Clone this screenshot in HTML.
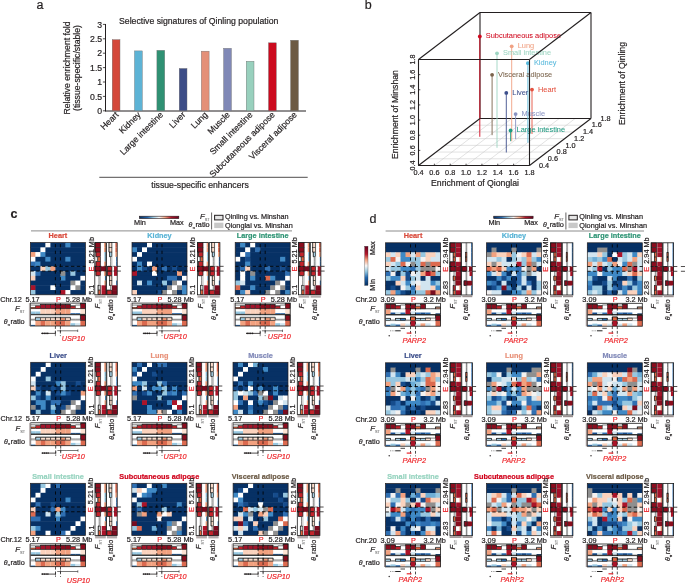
<!DOCTYPE html><html><head><meta charset="utf-8"><title>Figure</title>
<style>html,body{margin:0;padding:0;background:#fff;width:685px;height:583px;overflow:hidden}svg{display:block;will-change:transform} text{font-family:"Liberation Sans", sans-serif;}</style></head><body>
<svg width="685" height="583" viewBox="0 0 685 583">
<defs><linearGradient id="cbar" x1="0" x2="1" y1="0" y2="0"><stop offset="0" stop-color="#053061"/><stop offset="0.2" stop-color="#2166ac"/><stop offset="0.35" stop-color="#92c5de"/><stop offset="0.5" stop-color="#f7f7f7"/><stop offset="0.65" stop-color="#f4a582"/><stop offset="0.8" stop-color="#b2182b"/><stop offset="1" stop-color="#67001f"/></linearGradient><linearGradient id="vbar" x1="0" x2="0" y1="1" y2="0"><stop offset="0" stop-color="#053061"/><stop offset="0.2" stop-color="#2166ac"/><stop offset="0.35" stop-color="#92c5de"/><stop offset="0.5" stop-color="#f7f7f7"/><stop offset="0.65" stop-color="#f4a582"/><stop offset="0.8" stop-color="#b2182b"/><stop offset="1" stop-color="#67001f"/></linearGradient></defs>
<rect width="685" height="583" fill="#fff"/>
<text x="36.5" y="9.1" font-size="12.5" fill="#231f20" stroke="#231f20" stroke-width="0.2">a</text>
<line x1="105.50" y1="24" x2="105.50" y2="111.30" stroke="#231f20" stroke-width="1.0"/>
<line x1="105" y1="111" x2="306" y2="111" stroke="#231f20" stroke-width="1.0"/>
<line x1="102.90" y1="110.80" x2="105.50" y2="110.80" stroke="#231f20" stroke-width="0.8"/>
<text x="102.2" y="113.9" font-size="8.7" fill="#231f20" text-anchor="end" stroke="#231f20" stroke-width="0.2">0</text>
<line x1="102.90" y1="96.40" x2="105.50" y2="96.40" stroke="#231f20" stroke-width="0.8"/>
<text x="102.2" y="99.5" font-size="8.7" fill="#231f20" text-anchor="end" stroke="#231f20" stroke-width="0.2">0.5</text>
<line x1="102.90" y1="82" x2="105.50" y2="82" stroke="#231f20" stroke-width="0.8"/>
<text x="102.2" y="85.1" font-size="8.7" fill="#231f20" text-anchor="end" stroke="#231f20" stroke-width="0.2">1</text>
<line x1="102.90" y1="67.60" x2="105.50" y2="67.60" stroke="#231f20" stroke-width="0.8"/>
<text x="102.2" y="70.7" font-size="8.7" fill="#231f20" text-anchor="end" stroke="#231f20" stroke-width="0.2">1.5</text>
<line x1="102.90" y1="53.20" x2="105.50" y2="53.20" stroke="#231f20" stroke-width="0.8"/>
<text x="102.2" y="56.3" font-size="8.7" fill="#231f20" text-anchor="end" stroke="#231f20" stroke-width="0.2">2</text>
<line x1="102.90" y1="38.80" x2="105.50" y2="38.80" stroke="#231f20" stroke-width="0.8"/>
<text x="102.2" y="41.9" font-size="8.7" fill="#231f20" text-anchor="end" stroke="#231f20" stroke-width="0.2">2.5</text>
<line x1="102.90" y1="24.40" x2="105.50" y2="24.40" stroke="#231f20" stroke-width="0.8"/>
<text x="102.2" y="27.5" font-size="8.7" fill="#231f20" text-anchor="end" stroke="#231f20" stroke-width="0.2">3</text>
<text x="119.0" y="24.2" font-size="8.7" fill="#231f20" stroke="#231f20" stroke-width="0.2">Selective signatures of Qinling population</text>
<text x="69.6" y="68.0" font-size="8.7" fill="#231f20" text-anchor="middle" stroke="#231f20" stroke-width="0.2" transform="rotate(-90 69.60 68.00)">Relative enrichment fold</text>
<text x="79.6" y="68.0" font-size="8.7" fill="#231f20" text-anchor="middle" stroke="#231f20" stroke-width="0.2" transform="rotate(-90 79.60 68.00)">(tissue-specific/stable)</text>
<rect x="112.20" y="39.66" width="7.80" height="71.14" fill="#d4483a" stroke="#6d6d6d" stroke-width="0.4"/>
<text x="119.1" y="115.3" font-size="8.7" fill="#231f20" text-anchor="end" stroke="#231f20" stroke-width="0.2" transform="rotate(-45 119.10 115.30)">Heart</text>
<rect x="134.50" y="50.90" width="7.80" height="59.90" fill="#5db3d5" stroke="#6d6d6d" stroke-width="0.4"/>
<text x="141.4" y="115.3" font-size="8.7" fill="#231f20" text-anchor="end" stroke="#231f20" stroke-width="0.2" transform="rotate(-45 141.40 115.30)">Kidney</text>
<rect x="156.90" y="50.32" width="7.80" height="60.48" fill="#2f9173" stroke="#6d6d6d" stroke-width="0.4"/>
<text x="163.8" y="115.3" font-size="8.7" fill="#231f20" text-anchor="end" stroke="#231f20" stroke-width="0.2" transform="rotate(-45 163.80 115.30)">Large intestine</text>
<rect x="179.20" y="68.46" width="7.80" height="42.34" fill="#3d4d87" stroke="#6d6d6d" stroke-width="0.4"/>
<text x="186.1" y="115.3" font-size="8.7" fill="#231f20" text-anchor="end" stroke="#231f20" stroke-width="0.2" transform="rotate(-45 186.10 115.30)">Liver</text>
<rect x="201.30" y="51.18" width="7.80" height="59.62" fill="#e49078" stroke="#6d6d6d" stroke-width="0.4"/>
<text x="208.2" y="115.3" font-size="8.7" fill="#231f20" text-anchor="end" stroke="#231f20" stroke-width="0.2" transform="rotate(-45 208.20 115.30)">Lung</text>
<rect x="223.60" y="48.30" width="7.80" height="62.50" fill="#8088b6" stroke="#6d6d6d" stroke-width="0.4"/>
<text x="230.5" y="115.3" font-size="8.7" fill="#231f20" text-anchor="end" stroke="#231f20" stroke-width="0.2" transform="rotate(-45 230.50 115.30)">Muscle</text>
<rect x="246.20" y="61.26" width="7.80" height="49.54" fill="#98d0bd" stroke="#6d6d6d" stroke-width="0.4"/>
<text x="253.1" y="115.3" font-size="8.7" fill="#231f20" text-anchor="end" stroke="#231f20" stroke-width="0.2" transform="rotate(-45 253.10 115.30)">Small intestine</text>
<rect x="268.50" y="42.83" width="7.80" height="67.97" fill="#cc0a1e" stroke="#6d6d6d" stroke-width="0.4"/>
<text x="275.4" y="115.3" font-size="8.7" fill="#231f20" text-anchor="end" stroke="#231f20" stroke-width="0.2" transform="rotate(-45 275.40 115.30)">Subcutaneous adipose</text>
<rect x="290.60" y="40.24" width="7.80" height="70.56" fill="#6c5a43" stroke="#6d6d6d" stroke-width="0.4"/>
<text x="297.5" y="115.3" font-size="8.7" fill="#231f20" text-anchor="end" stroke="#231f20" stroke-width="0.2" transform="rotate(-45 297.50 115.30)">Visceral adipose</text>
<line x1="99.30" y1="177.30" x2="307.70" y2="177.30" stroke="#231f20" stroke-width="0.8"/>
<text x="200.0" y="187.9" font-size="8.7" fill="#231f20" text-anchor="middle" stroke="#231f20" stroke-width="0.2">tissue-specific enhancers</text>
<text x="364.8" y="8.8" font-size="12.5" fill="#231f20" stroke="#231f20" stroke-width="0.2">b</text>
<line x1="434.36" y1="165.50" x2="495.86" y2="118.50" stroke="#c4c4c4" stroke-width="0.5"/>
<line x1="427.29" y1="158.79" x2="538.29" y2="158.79" stroke="#c4c4c4" stroke-width="0.5"/>
<line x1="450.21" y1="165.50" x2="511.71" y2="118.50" stroke="#c4c4c4" stroke-width="0.5"/>
<line x1="436.07" y1="152.07" x2="547.07" y2="152.07" stroke="#c4c4c4" stroke-width="0.5"/>
<line x1="466.07" y1="165.50" x2="527.57" y2="118.50" stroke="#c4c4c4" stroke-width="0.5"/>
<line x1="444.86" y1="145.36" x2="555.86" y2="145.36" stroke="#c4c4c4" stroke-width="0.5"/>
<line x1="481.93" y1="165.50" x2="543.43" y2="118.50" stroke="#c4c4c4" stroke-width="0.5"/>
<line x1="453.64" y1="138.64" x2="564.64" y2="138.64" stroke="#c4c4c4" stroke-width="0.5"/>
<line x1="497.79" y1="165.50" x2="559.29" y2="118.50" stroke="#c4c4c4" stroke-width="0.5"/>
<line x1="462.43" y1="131.93" x2="573.43" y2="131.93" stroke="#c4c4c4" stroke-width="0.5"/>
<line x1="513.64" y1="165.50" x2="575.14" y2="118.50" stroke="#c4c4c4" stroke-width="0.5"/>
<line x1="471.21" y1="125.21" x2="582.21" y2="125.21" stroke="#c4c4c4" stroke-width="0.5"/>
<line x1="480" y1="118.50" x2="591" y2="118.50" stroke="#231f20" stroke-width="1.1"/>
<line x1="480" y1="118.50" x2="480" y2="12.50" stroke="#231f20" stroke-width="1.1"/>
<line x1="591" y1="118.50" x2="591" y2="12.50" stroke="#231f20" stroke-width="1.1"/>
<line x1="480" y1="12.50" x2="591" y2="12.50" stroke="#231f20" stroke-width="1.1"/>
<line x1="479.80" y1="36.50" x2="479.80" y2="136.80" stroke="#d0081e" stroke-width="0.9"/>
<line x1="511.70" y1="46.30" x2="511.70" y2="141.20" stroke="#f0a183" stroke-width="0.9"/>
<line x1="497" y1="53.30" x2="497" y2="147.80" stroke="#9dd5c2" stroke-width="0.9"/>
<line x1="492.10" y1="74.80" x2="492.10" y2="135.20" stroke="#7a634b" stroke-width="0.9"/>
<line x1="506.30" y1="92.90" x2="506.30" y2="152.50" stroke="#3d4f8c" stroke-width="0.9"/>
<line x1="515.60" y1="114.10" x2="515.60" y2="139.10" stroke="#8a93c2" stroke-width="0.9"/>
<line x1="510.60" y1="130.50" x2="510.60" y2="141.20" stroke="#1e9a80" stroke-width="0.9"/>
<line x1="527.90" y1="63.20" x2="527.90" y2="142.70" stroke="#58b9dc" stroke-width="0.9"/>
<line x1="532" y1="89.60" x2="532" y2="134" stroke="#e4513f" stroke-width="0.9"/>
<circle cx="479.8" cy="36.5" r="1.9" fill="#d0081e"/>
<text x="485.8" y="38.4" font-size="7.4" fill="#d0081e" stroke="#d0081e" stroke-width="0.05">Subcutaneous adipose</text>
<circle cx="511.7" cy="46.3" r="1.9" fill="#f0a183"/>
<text x="517.7" y="48.2" font-size="7.4" fill="#f0a183" stroke="#f0a183" stroke-width="0.05">Lung</text>
<circle cx="497.0" cy="53.3" r="1.9" fill="#9dd5c2"/>
<text x="503.0" y="55.2" font-size="7.4" fill="#9dd5c2" stroke="#9dd5c2" stroke-width="0.05">Small intestine</text>
<circle cx="492.1" cy="74.8" r="1.9" fill="#7a634b"/>
<text x="498.1" y="76.7" font-size="7.4" fill="#7a634b" stroke="#7a634b" stroke-width="0.05">Visceral adipose</text>
<circle cx="506.3" cy="92.9" r="1.9" fill="#3d4f8c"/>
<text x="512.3" y="94.8" font-size="7.4" fill="#3d4f8c" stroke="#3d4f8c" stroke-width="0.05">Liver</text>
<circle cx="515.6" cy="114.1" r="1.9" fill="#8a93c2"/>
<text x="521.6" y="116.0" font-size="7.4" fill="#8a93c2" stroke="#8a93c2" stroke-width="0.05">Muscle</text>
<circle cx="510.6" cy="130.5" r="1.9" fill="#1e9a80"/>
<text x="516.6" y="132.4" font-size="7.4" fill="#1e9a80" stroke="#1e9a80" stroke-width="0.05">Large intestine</text>
<circle cx="527.9" cy="63.2" r="1.9" fill="#58b9dc"/>
<text x="533.9" y="65.1" font-size="7.4" fill="#58b9dc" stroke="#58b9dc" stroke-width="0.05">Kidney</text>
<circle cx="532.0" cy="89.6" r="1.9" fill="#e4513f"/>
<text x="538.0" y="91.5" font-size="7.4" fill="#e4513f" stroke="#e4513f" stroke-width="0.05">Heart</text>
<line x1="418.50" y1="165.50" x2="529.50" y2="165.50" stroke="#231f20" stroke-width="1.1"/>
<line x1="418.50" y1="165.50" x2="418.50" y2="59.50" stroke="#231f20" stroke-width="1.1"/>
<line x1="529.50" y1="165.50" x2="529.50" y2="59.50" stroke="#231f20" stroke-width="1.1"/>
<line x1="418.50" y1="59.50" x2="529.50" y2="59.50" stroke="#231f20" stroke-width="1.1"/>
<line x1="418.50" y1="165.50" x2="480" y2="118.50" stroke="#231f20" stroke-width="1.1"/>
<line x1="529.50" y1="165.50" x2="591" y2="118.50" stroke="#231f20" stroke-width="1.1"/>
<line x1="418.50" y1="59.50" x2="480" y2="12.50" stroke="#231f20" stroke-width="1.1"/>
<line x1="529.50" y1="59.50" x2="591" y2="12.50" stroke="#231f20" stroke-width="1.1"/>
<line x1="418.50" y1="165.50" x2="418.50" y2="163.70" stroke="#231f20" stroke-width="0.8"/>
<text x="418.5" y="174.7" font-size="7.3" fill="#231f20" text-anchor="middle" stroke="#231f20" stroke-width="0.2">0.4</text>
<line x1="434.36" y1="165.50" x2="434.36" y2="163.70" stroke="#231f20" stroke-width="0.8"/>
<text x="434.4" y="174.7" font-size="7.3" fill="#231f20" text-anchor="middle" stroke="#231f20" stroke-width="0.2">0.6</text>
<line x1="450.21" y1="165.50" x2="450.21" y2="163.70" stroke="#231f20" stroke-width="0.8"/>
<text x="450.2" y="174.7" font-size="7.3" fill="#231f20" text-anchor="middle" stroke="#231f20" stroke-width="0.2">0.8</text>
<line x1="466.07" y1="165.50" x2="466.07" y2="163.70" stroke="#231f20" stroke-width="0.8"/>
<text x="466.1" y="174.7" font-size="7.3" fill="#231f20" text-anchor="middle" stroke="#231f20" stroke-width="0.2">1.0</text>
<line x1="481.93" y1="165.50" x2="481.93" y2="163.70" stroke="#231f20" stroke-width="0.8"/>
<text x="481.9" y="174.7" font-size="7.3" fill="#231f20" text-anchor="middle" stroke="#231f20" stroke-width="0.2">1.2</text>
<line x1="497.79" y1="165.50" x2="497.79" y2="163.70" stroke="#231f20" stroke-width="0.8"/>
<text x="497.8" y="174.7" font-size="7.3" fill="#231f20" text-anchor="middle" stroke="#231f20" stroke-width="0.2">1.4</text>
<line x1="513.64" y1="165.50" x2="513.64" y2="163.70" stroke="#231f20" stroke-width="0.8"/>
<text x="513.6" y="174.7" font-size="7.3" fill="#231f20" text-anchor="middle" stroke="#231f20" stroke-width="0.2">1.6</text>
<line x1="529.50" y1="165.50" x2="529.50" y2="163.70" stroke="#231f20" stroke-width="0.8"/>
<text x="529.5" y="174.7" font-size="7.3" fill="#231f20" text-anchor="middle" stroke="#231f20" stroke-width="0.2">1.8</text>
<line x1="418.50" y1="165.50" x2="420.30" y2="165.50" stroke="#231f20" stroke-width="0.8"/>
<text x="415.3" y="165.5" font-size="7.3" fill="#231f20" text-anchor="middle" stroke="#231f20" stroke-width="0.2" transform="rotate(-90 415.30 165.50)">0.4</text>
<line x1="418.50" y1="150.36" x2="420.30" y2="150.36" stroke="#231f20" stroke-width="0.8"/>
<text x="415.3" y="150.4" font-size="7.3" fill="#231f20" text-anchor="middle" stroke="#231f20" stroke-width="0.2" transform="rotate(-90 415.30 150.36)">0.6</text>
<line x1="418.50" y1="135.21" x2="420.30" y2="135.21" stroke="#231f20" stroke-width="0.8"/>
<text x="415.3" y="135.2" font-size="7.3" fill="#231f20" text-anchor="middle" stroke="#231f20" stroke-width="0.2" transform="rotate(-90 415.30 135.21)">0.8</text>
<line x1="418.50" y1="120.07" x2="420.30" y2="120.07" stroke="#231f20" stroke-width="0.8"/>
<text x="415.3" y="120.1" font-size="7.3" fill="#231f20" text-anchor="middle" stroke="#231f20" stroke-width="0.2" transform="rotate(-90 415.30 120.07)">1.0</text>
<line x1="418.50" y1="104.93" x2="420.30" y2="104.93" stroke="#231f20" stroke-width="0.8"/>
<text x="415.3" y="104.9" font-size="7.3" fill="#231f20" text-anchor="middle" stroke="#231f20" stroke-width="0.2" transform="rotate(-90 415.30 104.93)">1.2</text>
<line x1="418.50" y1="89.79" x2="420.30" y2="89.79" stroke="#231f20" stroke-width="0.8"/>
<text x="415.3" y="89.8" font-size="7.3" fill="#231f20" text-anchor="middle" stroke="#231f20" stroke-width="0.2" transform="rotate(-90 415.30 89.79)">1.4</text>
<line x1="418.50" y1="74.64" x2="420.30" y2="74.64" stroke="#231f20" stroke-width="0.8"/>
<text x="415.3" y="74.6" font-size="7.3" fill="#231f20" text-anchor="middle" stroke="#231f20" stroke-width="0.2" transform="rotate(-90 415.30 74.64)">1.6</text>
<line x1="418.50" y1="59.50" x2="420.30" y2="59.50" stroke="#231f20" stroke-width="0.8"/>
<text x="415.3" y="59.5" font-size="7.3" fill="#231f20" text-anchor="middle" stroke="#231f20" stroke-width="0.2" transform="rotate(-90 415.30 59.50)">1.8</text>
<text x="539.0" y="167.7" font-size="7.3" fill="#231f20" stroke="#231f20" stroke-width="0.2">0.4</text>
<text x="547.8" y="161.0" font-size="7.3" fill="#231f20" stroke="#231f20" stroke-width="0.2">0.6</text>
<text x="556.6" y="154.3" font-size="7.3" fill="#231f20" stroke="#231f20" stroke-width="0.2">0.8</text>
<text x="565.4" y="147.6" font-size="7.3" fill="#231f20" stroke="#231f20" stroke-width="0.2">1.0</text>
<text x="574.1" y="140.8" font-size="7.3" fill="#231f20" stroke="#231f20" stroke-width="0.2">1.2</text>
<text x="582.9" y="134.1" font-size="7.3" fill="#231f20" stroke="#231f20" stroke-width="0.2">1.4</text>
<text x="591.7" y="127.4" font-size="7.3" fill="#231f20" stroke="#231f20" stroke-width="0.2">1.6</text>
<text x="600.5" y="120.7" font-size="7.3" fill="#231f20" stroke="#231f20" stroke-width="0.2">1.8</text>
<text x="475.0" y="185.5" font-size="8.7" fill="#231f20" text-anchor="middle" stroke="#231f20" stroke-width="0.2">Enrichment of Qionglai</text>
<text x="397.6" y="114.5" font-size="8.7" fill="#231f20" text-anchor="middle" stroke="#231f20" stroke-width="0.2" transform="rotate(-90 397.60 114.50)">Enrichment of Minshan</text>
<text x="624.5" y="83.5" font-size="8.7" fill="#231f20" text-anchor="middle" stroke="#231f20" stroke-width="0.2" transform="rotate(-90 624.50 83.50)">Enrichment of Qinling</text>
<text x="10.5" y="217.7" font-size="12.5" fill="#231f20" font-weight="bold" stroke="#231f20" stroke-width="0.2">c</text>
<rect x="139.40" y="216.2" width="39.4" height="2.4" fill="url(#cbar)" stroke="#2a1a1a" stroke-width="0.6"/>
<text x="140.0" y="225.0" font-size="7.3" fill="#231f20" text-anchor="middle" stroke="#231f20" stroke-width="0.2">Min</text>
<text x="176.8" y="225.0" font-size="7.3" fill="#231f20" text-anchor="middle" stroke="#231f20" stroke-width="0.2">Max</text>
<text x="209.60" y="219.0" font-size="7.3" fill="#231f20" stroke="#231f20" stroke-width="0.2" text-anchor="end"><tspan font-style="italic" font-size="7.8">F</tspan><tspan font-size="3.8" dy="2.2" fill="#777" stroke="#777" stroke-width="0.1">ST</tspan></text>
<text x="209.60" y="227.4" font-size="7.3" fill="#231f20" stroke="#231f20" stroke-width="0.2" text-anchor="end"><tspan font-style="italic" font-size="7.0">θ</tspan><tspan font-size="3.6" dy="1.8">π</tspan><tspan dy="-1.8" dx="0.5">ratio</tspan></text>
<line x1="211.60" y1="212.50" x2="211.60" y2="229.50" stroke="#231f20" stroke-width="0.7"/>
<rect x="214.60" y="215.30" width="8.40" height="4.60" fill="#e6e6e6" stroke="#231f20" stroke-width="1.0"/>
<rect x="214.20" y="222.70" width="9.20" height="5.40" fill="#c8c8c8"/>
<text x="225.0" y="219.4" font-size="7.3" fill="#231f20" stroke="#231f20" stroke-width="0.2">Qinling vs. Minshan</text>
<text x="225.0" y="228.1" font-size="7.3" fill="#231f20" stroke="#231f20" stroke-width="0.2">Qionglai vs. Minshan</text>
<line x1="31" y1="230.90" x2="292" y2="230.90" stroke="#8c8c8c" stroke-width="1.0"/>
<rect x="30.40" y="242.60" width="15.50" height="5.25" fill="#073165"/>
<rect x="45.40" y="242.60" width="5.50" height="5.25" fill="#ffffff"/>
<rect x="50.40" y="242.60" width="15.50" height="5.25" fill="#073165"/>
<rect x="65.40" y="242.60" width="5.50" height="5.25" fill="#3f89c5"/>
<rect x="70.40" y="242.60" width="15" height="5.25" fill="#073165"/>
<rect x="30.40" y="247.35" width="10.50" height="5.25" fill="#073165"/>
<rect x="40.40" y="247.35" width="5.50" height="5.25" fill="#ffffff"/>
<rect x="45.40" y="247.35" width="40" height="5.25" fill="#073165"/>
<rect x="30.40" y="252.09" width="5.50" height="5.25" fill="#f2a17f"/>
<rect x="35.40" y="252.09" width="5.50" height="5.25" fill="#ffffff"/>
<rect x="40.40" y="252.09" width="5.50" height="5.25" fill="#3f89c5"/>
<rect x="45.40" y="252.09" width="40" height="5.25" fill="#073165"/>
<rect x="30.40" y="256.84" width="5.50" height="5.25" fill="#ffffff"/>
<rect x="35.40" y="256.84" width="10.50" height="5.25" fill="#073165"/>
<rect x="45.40" y="256.84" width="5.50" height="5.25" fill="#3f89c5"/>
<rect x="50.40" y="256.84" width="15.50" height="5.25" fill="#073165"/>
<rect x="65.40" y="256.84" width="5.50" height="5.25" fill="#3f89c5"/>
<rect x="70.40" y="256.84" width="15" height="5.25" fill="#073165"/>
<rect x="30.40" y="261.58" width="5.50" height="5.25" fill="#2f6fb2"/>
<rect x="35.40" y="261.58" width="5.50" height="5.25" fill="#3f89c5"/>
<rect x="40.40" y="261.58" width="45" height="5.25" fill="#073165"/>
<rect x="30.40" y="266.33" width="10.50" height="5.25" fill="#073165"/>
<rect x="40.40" y="266.33" width="5.50" height="5.25" fill="#fbd2bd"/>
<rect x="45.40" y="266.33" width="5.50" height="5.25" fill="#97c7e0"/>
<rect x="50.40" y="266.33" width="5.50" height="5.25" fill="#f2a17f"/>
<rect x="55.40" y="266.33" width="30" height="5.25" fill="#073165"/>
<rect x="30.40" y="271.07" width="5.50" height="5.25" fill="#d2e5f0"/>
<rect x="35.40" y="271.07" width="5.50" height="5.25" fill="#2f6fb2"/>
<rect x="40.40" y="271.07" width="20.50" height="5.25" fill="#073165"/>
<rect x="60.40" y="271.07" width="5.50" height="5.25" fill="#8f8f8f"/>
<rect x="65.40" y="271.07" width="5.50" height="5.25" fill="#073165"/>
<rect x="70.40" y="271.07" width="5.50" height="5.25" fill="#97c7e0"/>
<rect x="75.40" y="271.07" width="10" height="5.25" fill="#073165"/>
<rect x="30.40" y="275.82" width="5.50" height="5.25" fill="#fbd2bd"/>
<rect x="35.40" y="275.82" width="25.50" height="5.25" fill="#073165"/>
<rect x="60.40" y="275.82" width="5.50" height="5.25" fill="#3f89c5"/>
<rect x="65.40" y="275.82" width="15.50" height="5.25" fill="#073165"/>
<rect x="80.40" y="275.82" width="5" height="5.25" fill="#ffffff"/>
<rect x="30.40" y="280.56" width="40.50" height="5.25" fill="#073165"/>
<rect x="70.40" y="280.56" width="5.50" height="5.25" fill="#8f8f8f"/>
<rect x="75.40" y="280.56" width="5.50" height="5.25" fill="#ffffff"/>
<rect x="80.40" y="280.56" width="5" height="5.25" fill="#073165"/>
<rect x="30.40" y="285.31" width="5.50" height="5.25" fill="#ab1429"/>
<rect x="35.40" y="285.31" width="15.50" height="5.25" fill="#073165"/>
<rect x="50.40" y="285.31" width="5.50" height="5.25" fill="#ffffff"/>
<rect x="55.40" y="285.31" width="15.50" height="5.25" fill="#073165"/>
<rect x="70.40" y="285.31" width="5.50" height="5.25" fill="#ffffff"/>
<rect x="75.40" y="285.31" width="5.50" height="5.25" fill="#8f8f8f"/>
<rect x="80.40" y="285.31" width="5" height="5.25" fill="#073165"/>
<rect x="30.40" y="290.05" width="5.50" height="4.75" fill="#97c7e0"/>
<rect x="35.40" y="290.05" width="25.50" height="4.75" fill="#073165"/>
<rect x="60.40" y="290.05" width="5.50" height="4.75" fill="#ab1429"/>
<rect x="65.40" y="290.05" width="5.50" height="4.75" fill="#ffffff"/>
<rect x="70.40" y="290.05" width="15" height="4.75" fill="#073165"/>
<line x1="55.40" y1="242.60" x2="55.40" y2="294.80" stroke="#000" stroke-width="0.85" stroke-dasharray="3.2,3.4" stroke-dashoffset="-1.5"/>
<line x1="60.40" y1="242.60" x2="60.40" y2="294.80" stroke="#000" stroke-width="0.85" stroke-dasharray="3.2,3.4" stroke-dashoffset="-1.5"/>
<line x1="30.40" y1="266.33" x2="85.90" y2="266.33" stroke="#000" stroke-width="0.85" stroke-dasharray="3.4,2.4"/>
<line x1="30.40" y1="271.07" x2="85.90" y2="271.07" stroke="#000" stroke-width="0.85" stroke-dasharray="3.4,2.4"/>
<rect x="30.40" y="242.60" width="55" height="52.20" fill="none" stroke="#231f20" stroke-width="0.7"/>
<text x="57.9" y="238.2" font-size="7.3" fill="#d9493a" text-anchor="middle" font-weight="bold" stroke="#d9493a" stroke-width="0.2">Heart</text>
<text x="93.6" y="237.1" font-size="7.3" fill="#231f20" text-anchor="end" stroke="#231f20" stroke-width="0.2" transform="rotate(-90 93.55 237.10)">5.21 Mb</text>
<text x="93.6" y="269.0" font-size="7.3" fill="#e8262d" text-anchor="middle" stroke="#e8262d" stroke-width="0.2" transform="rotate(-90 93.55 269.00)">E</text>
<text x="93.6" y="294.8" font-size="7.3" fill="#231f20" stroke="#231f20" stroke-width="0.2" transform="rotate(-90 93.55 294.80)">5.1</text>
<use href="#s0" transform="matrix(0,1,1,0,94.80,242.60)"/>
<use href="#s1" transform="matrix(0,1,1,0,106.60,242.60)"/>
<rect x="94.90" y="295.30" width="10.70" height="2.40" fill="#b3abab"/>
<rect x="106.90" y="295.30" width="10.20" height="2.40" fill="#b3abab"/>
<line x1="94.30" y1="266.33" x2="117.20" y2="266.33" stroke="#000" stroke-width="0.6" stroke-dasharray="2.8,1.8" stroke-opacity="0.8"/>
<line x1="117" y1="266.33" x2="120.90" y2="266.33" stroke="#231f20" stroke-width="0.8"/>
<line x1="94.30" y1="271.07" x2="117.20" y2="271.07" stroke="#000" stroke-width="0.6" stroke-dasharray="2.8,1.8" stroke-opacity="0.8"/>
<line x1="117" y1="271.07" x2="120.90" y2="271.07" stroke="#231f20" stroke-width="0.8"/>
<text transform="translate(100.00,308.60) rotate(-90)" font-size="7.3" fill="#231f20" stroke="#231f20" stroke-width="0.2"><tspan font-style="italic" font-size="7.8">F</tspan><tspan font-size="3.8" dy="2.2" fill="#777" stroke="#777" stroke-width="0.1">ST</tspan></text>
<text transform="translate(113.40,320.10) rotate(-90)" font-size="7.3" fill="#231f20" stroke="#231f20" stroke-width="0.2"><tspan font-style="italic" font-size="7.0">θ</tspan><tspan font-size="3.6" dy="1.8">π</tspan><tspan dy="-1.8" dx="0.5">ratio</tspan></text>
<text x="25.4" y="301.6" font-size="7.3" fill="#231f20" stroke="#231f20" stroke-width="0.2">5.17</text>
<text x="58.4" y="301.6" font-size="7.3" fill="#e8262d" text-anchor="middle" stroke="#e8262d" stroke-width="0.2">P</text>
<text x="92.2" y="301.6" font-size="7.3" fill="#231f20" text-anchor="end" stroke="#231f20" stroke-width="0.2">5.28 Mb</text>
<text x="21.8" y="301.6" font-size="7.3" fill="#231f20" text-anchor="end" stroke="#231f20" stroke-width="0.2">Chr.12</text>
<text x="24.70" y="310.90" font-size="7.3" fill="#231f20" stroke="#231f20" stroke-width="0.2" text-anchor="end"><tspan font-style="italic" font-size="7.8">F</tspan><tspan font-size="3.8" dy="2.2" fill="#777" stroke="#777" stroke-width="0.1">ST</tspan></text>
<text x="24.70" y="323.80" font-size="7.3" fill="#231f20" stroke="#231f20" stroke-width="0.2" text-anchor="end"><tspan font-style="italic" font-size="7.0">θ</tspan><tspan font-size="3.6" dy="1.8">π</tspan><tspan dy="-1.8" dx="0.5">ratio</tspan></text>
<use href="#s2" transform="translate(30.40,303.10)"/>
<use href="#s3" transform="translate(30.40,314.80)"/>
<rect x="28.90" y="303.10" width="1.40" height="23" fill="#b3abab"/>
<line x1="55.40" y1="303.10" x2="55.40" y2="336.10" stroke="#000" stroke-width="0.7" stroke-dasharray="2.8,1.8"/>
<line x1="60.40" y1="303.10" x2="60.40" y2="336.10" stroke="#000" stroke-width="0.7" stroke-dasharray="2.8,1.8"/>
<line x1="41.20" y1="333.40" x2="55.40" y2="333.40" stroke="#231f20" stroke-width="0.8"/>
<circle cx="42.40" cy="333.40" r="0.8" fill="#231f20"/>
<circle cx="44.20" cy="333.40" r="0.8" fill="#231f20"/>
<circle cx="46.00" cy="333.40" r="0.8" fill="#231f20"/>
<circle cx="47.80" cy="333.40" r="0.8" fill="#231f20"/>
<line x1="55.40" y1="331.80" x2="55.40" y2="335" stroke="#231f20" stroke-width="0.6"/>
<line x1="57.10" y1="330.80" x2="77.70" y2="330.80" stroke="#555" stroke-width="0.8"/>
<line x1="77.70" y1="329.60" x2="77.70" y2="332" stroke="#231f20" stroke-width="0.6"/>
<line x1="60.40" y1="329.60" x2="60.40" y2="332" stroke="#231f20" stroke-width="0.6"/>
<text x="61.7" y="341.2" font-size="7.3" fill="#ee2a2f" font-style="italic" stroke="#ee2a2f" stroke-width="0.2">USP10</text>
<rect x="132" y="242.60" width="15.50" height="5.25" fill="#073165"/>
<rect x="147" y="242.60" width="5.50" height="5.25" fill="#ffffff"/>
<rect x="152" y="242.60" width="35" height="5.25" fill="#073165"/>
<rect x="132" y="247.35" width="5.50" height="5.25" fill="#3f89c5"/>
<rect x="137" y="247.35" width="5.50" height="5.25" fill="#073165"/>
<rect x="142" y="247.35" width="5.50" height="5.25" fill="#ffffff"/>
<rect x="147" y="247.35" width="40" height="5.25" fill="#073165"/>
<rect x="132" y="252.09" width="5.50" height="5.25" fill="#073165"/>
<rect x="137" y="252.09" width="5.50" height="5.25" fill="#ffffff"/>
<rect x="142" y="252.09" width="45" height="5.25" fill="#073165"/>
<rect x="132" y="256.84" width="5.50" height="5.25" fill="#ffffff"/>
<rect x="137" y="256.84" width="50" height="5.25" fill="#073165"/>
<rect x="132" y="261.58" width="5.50" height="5.25" fill="#073165"/>
<rect x="137" y="261.58" width="5.50" height="5.25" fill="#3f89c5"/>
<rect x="142" y="261.58" width="5.50" height="5.25" fill="#073165"/>
<rect x="147" y="261.58" width="5.50" height="5.25" fill="#ffffff"/>
<rect x="152" y="261.58" width="35" height="5.25" fill="#073165"/>
<rect x="132" y="266.33" width="5.50" height="5.25" fill="#073165"/>
<rect x="137" y="266.33" width="5.50" height="5.25" fill="#3f89c5"/>
<rect x="142" y="266.33" width="5.50" height="5.25" fill="#164c8c"/>
<rect x="147" y="266.33" width="5.50" height="5.25" fill="#073165"/>
<rect x="152" y="266.33" width="5.50" height="5.25" fill="#f2a17f"/>
<rect x="157" y="266.33" width="5.50" height="5.25" fill="#073165"/>
<rect x="162" y="266.33" width="5.50" height="5.25" fill="#2f6fb2"/>
<rect x="167" y="266.33" width="5.50" height="5.25" fill="#073165"/>
<rect x="172" y="266.33" width="5.50" height="5.25" fill="#164c8c"/>
<rect x="177" y="266.33" width="10" height="5.25" fill="#073165"/>
<rect x="132" y="271.07" width="5.50" height="5.25" fill="#ab1429"/>
<rect x="137" y="271.07" width="15.50" height="5.25" fill="#073165"/>
<rect x="152" y="271.07" width="5.50" height="5.25" fill="#ffffff"/>
<rect x="157" y="271.07" width="20.50" height="5.25" fill="#073165"/>
<rect x="177" y="271.07" width="5.50" height="5.25" fill="#f2a17f"/>
<rect x="182" y="271.07" width="5" height="5.25" fill="#073165"/>
<rect x="132" y="275.82" width="35.50" height="5.25" fill="#073165"/>
<rect x="167" y="275.82" width="10.50" height="5.25" fill="#2f6fb2"/>
<rect x="177" y="275.82" width="5.50" height="5.25" fill="#073165"/>
<rect x="182" y="275.82" width="5" height="5.25" fill="#ffffff"/>
<rect x="132" y="280.56" width="5.50" height="5.25" fill="#073165"/>
<rect x="137" y="280.56" width="5.50" height="5.25" fill="#d2e5f0"/>
<rect x="142" y="280.56" width="5.50" height="5.25" fill="#073165"/>
<rect x="147" y="280.56" width="5.50" height="5.25" fill="#3f89c5"/>
<rect x="152" y="280.56" width="10.50" height="5.25" fill="#073165"/>
<rect x="162" y="280.56" width="5.50" height="5.25" fill="#97c7e0"/>
<rect x="167" y="280.56" width="5.50" height="5.25" fill="#073165"/>
<rect x="172" y="280.56" width="5.50" height="5.25" fill="#8f8f8f"/>
<rect x="177" y="280.56" width="5.50" height="5.25" fill="#ffffff"/>
<rect x="182" y="280.56" width="5" height="5.25" fill="#073165"/>
<rect x="132" y="285.31" width="35.50" height="5.25" fill="#073165"/>
<rect x="167" y="285.31" width="5.50" height="5.25" fill="#8f8f8f"/>
<rect x="172" y="285.31" width="5.50" height="5.25" fill="#ffffff"/>
<rect x="177" y="285.31" width="5.50" height="5.25" fill="#8f8f8f"/>
<rect x="182" y="285.31" width="5" height="5.25" fill="#3f89c5"/>
<rect x="132" y="290.05" width="5.50" height="4.75" fill="#fbd2bd"/>
<rect x="137" y="290.05" width="20.50" height="4.75" fill="#073165"/>
<rect x="157" y="290.05" width="5.50" height="4.75" fill="#164c8c"/>
<rect x="162" y="290.05" width="5.50" height="4.75" fill="#8f8f8f"/>
<rect x="167" y="290.05" width="5.50" height="4.75" fill="#ffffff"/>
<rect x="172" y="290.05" width="5.50" height="4.75" fill="#8f8f8f"/>
<rect x="177" y="290.05" width="5.50" height="4.75" fill="#073165"/>
<rect x="182" y="290.05" width="5" height="4.75" fill="#3f89c5"/>
<line x1="157" y1="242.60" x2="157" y2="294.80" stroke="#000" stroke-width="0.85" stroke-dasharray="3.2,3.4" stroke-dashoffset="-1.5"/>
<line x1="162" y1="242.60" x2="162" y2="294.80" stroke="#000" stroke-width="0.85" stroke-dasharray="3.2,3.4" stroke-dashoffset="-1.5"/>
<line x1="132" y1="266.33" x2="187.50" y2="266.33" stroke="#000" stroke-width="0.85" stroke-dasharray="3.4,2.4"/>
<line x1="132" y1="271.07" x2="187.50" y2="271.07" stroke="#000" stroke-width="0.85" stroke-dasharray="3.4,2.4"/>
<rect x="132" y="242.60" width="55" height="52.20" fill="none" stroke="#231f20" stroke-width="0.7"/>
<text x="159.5" y="238.2" font-size="7.3" fill="#5ab4d6" text-anchor="middle" font-weight="bold" stroke="#5ab4d6" stroke-width="0.2">Kidney</text>
<text x="195.2" y="237.1" font-size="7.3" fill="#231f20" text-anchor="end" stroke="#231f20" stroke-width="0.2" transform="rotate(-90 195.15 237.10)">5.21 Mb</text>
<text x="195.2" y="269.0" font-size="7.3" fill="#e8262d" text-anchor="middle" stroke="#e8262d" stroke-width="0.2" transform="rotate(-90 195.15 269.00)">E</text>
<text x="195.2" y="294.8" font-size="7.3" fill="#231f20" stroke="#231f20" stroke-width="0.2" transform="rotate(-90 195.15 294.80)">5.1</text>
<use href="#s0" transform="matrix(0,1,1,0,197.40,242.60)"/>
<use href="#s1" transform="matrix(0,1,1,0,209.30,242.60)"/>
<rect x="197.50" y="295.30" width="10.70" height="2.40" fill="#b3abab"/>
<rect x="209.60" y="295.30" width="10.20" height="2.40" fill="#b3abab"/>
<line x1="196.90" y1="266.33" x2="219.90" y2="266.33" stroke="#000" stroke-width="0.6" stroke-dasharray="2.8,1.8" stroke-opacity="0.8"/>
<line x1="219.70" y1="266.33" x2="223.60" y2="266.33" stroke="#231f20" stroke-width="0.8"/>
<line x1="196.90" y1="271.07" x2="219.90" y2="271.07" stroke="#000" stroke-width="0.6" stroke-dasharray="2.8,1.8" stroke-opacity="0.8"/>
<line x1="219.70" y1="271.07" x2="223.60" y2="271.07" stroke="#231f20" stroke-width="0.8"/>
<text transform="translate(202.60,308.60) rotate(-90)" font-size="7.3" fill="#231f20" stroke="#231f20" stroke-width="0.2"><tspan font-style="italic" font-size="7.8">F</tspan><tspan font-size="3.8" dy="2.2" fill="#777" stroke="#777" stroke-width="0.1">ST</tspan></text>
<text transform="translate(216.10,320.10) rotate(-90)" font-size="7.3" fill="#231f20" stroke="#231f20" stroke-width="0.2"><tspan font-style="italic" font-size="7.0">θ</tspan><tspan font-size="3.6" dy="1.8">π</tspan><tspan dy="-1.8" dx="0.5">ratio</tspan></text>
<text x="127.0" y="301.6" font-size="7.3" fill="#231f20" stroke="#231f20" stroke-width="0.2">5.17</text>
<text x="160.0" y="301.6" font-size="7.3" fill="#e8262d" text-anchor="middle" stroke="#e8262d" stroke-width="0.2">P</text>
<text x="193.8" y="301.6" font-size="7.3" fill="#231f20" text-anchor="end" stroke="#231f20" stroke-width="0.2">5.28 Mb</text>
<use href="#s2" transform="translate(132.00,303.10)"/>
<use href="#s3" transform="translate(132.00,314.80)"/>
<rect x="130.50" y="303.10" width="1.40" height="23" fill="#b3abab"/>
<line x1="157" y1="303.10" x2="157" y2="336.10" stroke="#000" stroke-width="0.7" stroke-dasharray="2.8,1.8"/>
<line x1="162" y1="303.10" x2="162" y2="336.10" stroke="#000" stroke-width="0.7" stroke-dasharray="2.8,1.8"/>
<line x1="142.80" y1="333.40" x2="157" y2="333.40" stroke="#231f20" stroke-width="0.8"/>
<circle cx="144.00" cy="333.40" r="0.8" fill="#231f20"/>
<circle cx="145.80" cy="333.40" r="0.8" fill="#231f20"/>
<circle cx="147.60" cy="333.40" r="0.8" fill="#231f20"/>
<circle cx="149.40" cy="333.40" r="0.8" fill="#231f20"/>
<line x1="157" y1="331.80" x2="157" y2="335" stroke="#231f20" stroke-width="0.6"/>
<line x1="158.70" y1="330.80" x2="179.30" y2="330.80" stroke="#555" stroke-width="0.8"/>
<line x1="179.30" y1="329.60" x2="179.30" y2="332" stroke="#231f20" stroke-width="0.6"/>
<line x1="162" y1="329.60" x2="162" y2="332" stroke="#231f20" stroke-width="0.6"/>
<text x="163.6" y="338.6" font-size="7.3" fill="#ee2a2f" font-style="italic" stroke="#ee2a2f" stroke-width="0.2">USP10</text>
<rect x="235.20" y="242.60" width="5.50" height="5.25" fill="#073165"/>
<rect x="240.20" y="242.60" width="5.50" height="5.25" fill="#3f89c5"/>
<rect x="245.20" y="242.60" width="5.50" height="5.25" fill="#073165"/>
<rect x="250.20" y="242.60" width="5.50" height="5.25" fill="#ffffff"/>
<rect x="255.20" y="242.60" width="35" height="5.25" fill="#073165"/>
<rect x="235.20" y="247.35" width="10.50" height="5.25" fill="#073165"/>
<rect x="245.20" y="247.35" width="5.50" height="5.25" fill="#ffffff"/>
<rect x="250.20" y="247.35" width="5.50" height="5.25" fill="#073165"/>
<rect x="255.20" y="247.35" width="5.50" height="5.25" fill="#2f6fb2"/>
<rect x="260.20" y="247.35" width="30" height="5.25" fill="#073165"/>
<rect x="235.20" y="252.09" width="5.50" height="5.25" fill="#073165"/>
<rect x="240.20" y="252.09" width="5.50" height="5.25" fill="#ffffff"/>
<rect x="245.20" y="252.09" width="5.50" height="5.25" fill="#2f6fb2"/>
<rect x="250.20" y="252.09" width="40" height="5.25" fill="#073165"/>
<rect x="235.20" y="256.84" width="5.50" height="5.25" fill="#ffffff"/>
<rect x="240.20" y="256.84" width="5.50" height="5.25" fill="#073165"/>
<rect x="245.20" y="256.84" width="5.50" height="5.25" fill="#164c8c"/>
<rect x="250.20" y="256.84" width="30.50" height="5.25" fill="#073165"/>
<rect x="280.20" y="256.84" width="5.50" height="5.25" fill="#3f89c5"/>
<rect x="285.20" y="256.84" width="5" height="5.25" fill="#073165"/>
<rect x="235.20" y="261.58" width="10.50" height="5.25" fill="#073165"/>
<rect x="245.20" y="261.58" width="5.50" height="5.25" fill="#3f89c5"/>
<rect x="250.20" y="261.58" width="40" height="5.25" fill="#073165"/>
<rect x="235.20" y="266.33" width="5.50" height="5.25" fill="#073165"/>
<rect x="240.20" y="266.33" width="5.50" height="5.25" fill="#2f6fb2"/>
<rect x="245.20" y="266.33" width="5.50" height="5.25" fill="#fbd2bd"/>
<rect x="250.20" y="266.33" width="15.50" height="5.25" fill="#073165"/>
<rect x="265.20" y="266.33" width="5.50" height="5.25" fill="#2f6fb2"/>
<rect x="270.20" y="266.33" width="10.50" height="5.25" fill="#073165"/>
<rect x="280.20" y="266.33" width="5.50" height="5.25" fill="#164c8c"/>
<rect x="285.20" y="266.33" width="5" height="5.25" fill="#073165"/>
<rect x="235.20" y="271.07" width="5.50" height="5.25" fill="#073165"/>
<rect x="240.20" y="271.07" width="5.50" height="5.25" fill="#ffffff"/>
<rect x="245.20" y="271.07" width="5.50" height="5.25" fill="#073165"/>
<rect x="250.20" y="271.07" width="5.50" height="5.25" fill="#8f8f8f"/>
<rect x="255.20" y="271.07" width="30.50" height="5.25" fill="#073165"/>
<rect x="285.20" y="271.07" width="5" height="5.25" fill="#2f6fb2"/>
<rect x="235.20" y="275.82" width="5.50" height="5.25" fill="#073165"/>
<rect x="240.20" y="275.82" width="5.50" height="5.25" fill="#ffffff"/>
<rect x="245.20" y="275.82" width="5.50" height="5.25" fill="#073165"/>
<rect x="250.20" y="275.82" width="5.50" height="5.25" fill="#3f89c5"/>
<rect x="255.20" y="275.82" width="10.50" height="5.25" fill="#073165"/>
<rect x="265.20" y="275.82" width="5.50" height="5.25" fill="#dc6a4f"/>
<rect x="270.20" y="275.82" width="5.50" height="5.25" fill="#3f89c5"/>
<rect x="275.20" y="275.82" width="10.50" height="5.25" fill="#073165"/>
<rect x="285.20" y="275.82" width="5" height="5.25" fill="#ffffff"/>
<rect x="235.20" y="280.56" width="5.50" height="5.25" fill="#97c7e0"/>
<rect x="240.20" y="280.56" width="5.50" height="5.25" fill="#d2e5f0"/>
<rect x="245.20" y="280.56" width="30.50" height="5.25" fill="#073165"/>
<rect x="275.20" y="280.56" width="5.50" height="5.25" fill="#8f8f8f"/>
<rect x="280.20" y="280.56" width="5.50" height="5.25" fill="#ffffff"/>
<rect x="285.20" y="280.56" width="5" height="5.25" fill="#073165"/>
<rect x="235.20" y="285.31" width="5.50" height="5.25" fill="#dc6a4f"/>
<rect x="240.20" y="285.31" width="10.50" height="5.25" fill="#073165"/>
<rect x="250.20" y="285.31" width="5.50" height="5.25" fill="#3f89c5"/>
<rect x="255.20" y="285.31" width="15.50" height="5.25" fill="#073165"/>
<rect x="270.20" y="285.31" width="5.50" height="5.25" fill="#8f8f8f"/>
<rect x="275.20" y="285.31" width="5.50" height="5.25" fill="#ffffff"/>
<rect x="280.20" y="285.31" width="5.50" height="5.25" fill="#8f8f8f"/>
<rect x="285.20" y="285.31" width="5" height="5.25" fill="#073165"/>
<rect x="235.20" y="290.05" width="5.50" height="4.75" fill="#073165"/>
<rect x="240.20" y="290.05" width="5.50" height="4.75" fill="#3f89c5"/>
<rect x="245.20" y="290.05" width="5.50" height="4.75" fill="#fbd2bd"/>
<rect x="250.20" y="290.05" width="15.50" height="4.75" fill="#073165"/>
<rect x="265.20" y="290.05" width="5.50" height="4.75" fill="#8f8f8f"/>
<rect x="270.20" y="290.05" width="5.50" height="4.75" fill="#ffffff"/>
<rect x="275.20" y="290.05" width="5.50" height="4.75" fill="#8f8f8f"/>
<rect x="280.20" y="290.05" width="5.50" height="4.75" fill="#073165"/>
<rect x="285.20" y="290.05" width="5" height="4.75" fill="#3f89c5"/>
<line x1="260.20" y1="242.60" x2="260.20" y2="294.80" stroke="#000" stroke-width="0.85" stroke-dasharray="3.2,3.4" stroke-dashoffset="-1.5"/>
<line x1="265.20" y1="242.60" x2="265.20" y2="294.80" stroke="#000" stroke-width="0.85" stroke-dasharray="3.2,3.4" stroke-dashoffset="-1.5"/>
<line x1="235.20" y1="266.33" x2="290.70" y2="266.33" stroke="#000" stroke-width="0.85" stroke-dasharray="3.4,2.4"/>
<line x1="235.20" y1="271.07" x2="290.70" y2="271.07" stroke="#000" stroke-width="0.85" stroke-dasharray="3.4,2.4"/>
<rect x="235.20" y="242.60" width="55" height="52.20" fill="none" stroke="#231f20" stroke-width="0.7"/>
<text x="262.7" y="238.2" font-size="7.3" fill="#2e9474" text-anchor="middle" font-weight="bold" stroke="#2e9474" stroke-width="0.2">Large intestine</text>
<text x="296.8" y="237.1" font-size="7.3" fill="#231f20" text-anchor="end" stroke="#231f20" stroke-width="0.2" transform="rotate(-90 296.85 237.10)">5.21 Mb</text>
<text x="296.8" y="269.0" font-size="7.3" fill="#e8262d" text-anchor="middle" stroke="#e8262d" stroke-width="0.2" transform="rotate(-90 296.85 269.00)">E</text>
<text x="296.8" y="294.8" font-size="7.3" fill="#231f20" stroke="#231f20" stroke-width="0.2" transform="rotate(-90 296.85 294.80)">5.1</text>
<use href="#s0" transform="matrix(0,1,1,0,298.50,242.60)"/>
<use href="#s1" transform="matrix(0,1,1,0,310.30,242.60)"/>
<rect x="298.60" y="295.30" width="10.70" height="2.40" fill="#b3abab"/>
<rect x="310.60" y="295.30" width="10.20" height="2.40" fill="#b3abab"/>
<line x1="298" y1="266.33" x2="320.90" y2="266.33" stroke="#000" stroke-width="0.6" stroke-dasharray="2.8,1.8" stroke-opacity="0.8"/>
<line x1="320.70" y1="266.33" x2="324.60" y2="266.33" stroke="#231f20" stroke-width="0.8"/>
<line x1="298" y1="271.07" x2="320.90" y2="271.07" stroke="#000" stroke-width="0.6" stroke-dasharray="2.8,1.8" stroke-opacity="0.8"/>
<line x1="320.70" y1="271.07" x2="324.60" y2="271.07" stroke="#231f20" stroke-width="0.8"/>
<text transform="translate(303.70,308.60) rotate(-90)" font-size="7.3" fill="#231f20" stroke="#231f20" stroke-width="0.2"><tspan font-style="italic" font-size="7.8">F</tspan><tspan font-size="3.8" dy="2.2" fill="#777" stroke="#777" stroke-width="0.1">ST</tspan></text>
<text transform="translate(317.10,320.10) rotate(-90)" font-size="7.3" fill="#231f20" stroke="#231f20" stroke-width="0.2"><tspan font-style="italic" font-size="7.0">θ</tspan><tspan font-size="3.6" dy="1.8">π</tspan><tspan dy="-1.8" dx="0.5">ratio</tspan></text>
<text x="230.2" y="301.6" font-size="7.3" fill="#231f20" stroke="#231f20" stroke-width="0.2">5.17</text>
<text x="263.2" y="301.6" font-size="7.3" fill="#e8262d" text-anchor="middle" stroke="#e8262d" stroke-width="0.2">P</text>
<text x="297.0" y="301.6" font-size="7.3" fill="#231f20" text-anchor="end" stroke="#231f20" stroke-width="0.2">5.28 Mb</text>
<use href="#s2" transform="translate(235.20,303.10)"/>
<use href="#s3" transform="translate(235.20,314.80)"/>
<rect x="233.70" y="303.10" width="1.40" height="23" fill="#b3abab"/>
<line x1="260.20" y1="303.10" x2="260.20" y2="336.10" stroke="#000" stroke-width="0.7" stroke-dasharray="2.8,1.8"/>
<line x1="265.20" y1="303.10" x2="265.20" y2="336.10" stroke="#000" stroke-width="0.7" stroke-dasharray="2.8,1.8"/>
<line x1="246" y1="333.40" x2="260.20" y2="333.40" stroke="#231f20" stroke-width="0.8"/>
<circle cx="247.20" cy="333.40" r="0.8" fill="#231f20"/>
<circle cx="249.00" cy="333.40" r="0.8" fill="#231f20"/>
<circle cx="250.80" cy="333.40" r="0.8" fill="#231f20"/>
<circle cx="252.60" cy="333.40" r="0.8" fill="#231f20"/>
<line x1="260.20" y1="331.80" x2="260.20" y2="335" stroke="#231f20" stroke-width="0.6"/>
<line x1="261.90" y1="330.80" x2="282.50" y2="330.80" stroke="#555" stroke-width="0.8"/>
<line x1="282.50" y1="329.60" x2="282.50" y2="332" stroke="#231f20" stroke-width="0.6"/>
<line x1="265.20" y1="329.60" x2="265.20" y2="332" stroke="#231f20" stroke-width="0.6"/>
<text x="267.7" y="339.3" font-size="7.3" fill="#ee2a2f" font-style="italic" stroke="#ee2a2f" stroke-width="0.2">USP10</text>
<rect x="30.70" y="362.30" width="15.50" height="5.25" fill="#073165"/>
<rect x="45.70" y="362.30" width="5.50" height="5.25" fill="#ffffff"/>
<rect x="50.70" y="362.30" width="35" height="5.25" fill="#073165"/>
<rect x="30.70" y="367.05" width="10.50" height="5.25" fill="#073165"/>
<rect x="40.70" y="367.05" width="5.50" height="5.25" fill="#ffffff"/>
<rect x="45.70" y="367.05" width="40" height="5.25" fill="#073165"/>
<rect x="30.70" y="371.79" width="5.50" height="5.25" fill="#073165"/>
<rect x="35.70" y="371.79" width="5.50" height="5.25" fill="#ffffff"/>
<rect x="40.70" y="371.79" width="45" height="5.25" fill="#073165"/>
<rect x="30.70" y="376.54" width="5.50" height="5.25" fill="#ffffff"/>
<rect x="35.70" y="376.54" width="10.50" height="5.25" fill="#073165"/>
<rect x="45.70" y="376.54" width="5.50" height="5.25" fill="#97c7e0"/>
<rect x="50.70" y="376.54" width="35" height="5.25" fill="#073165"/>
<rect x="30.70" y="381.28" width="5.50" height="5.25" fill="#d2e5f0"/>
<rect x="35.70" y="381.28" width="20.50" height="5.25" fill="#073165"/>
<rect x="55.70" y="381.28" width="5.50" height="5.25" fill="#3f89c5"/>
<rect x="60.70" y="381.28" width="5.50" height="5.25" fill="#97c7e0"/>
<rect x="65.70" y="381.28" width="10.50" height="5.25" fill="#073165"/>
<rect x="75.70" y="381.28" width="5.50" height="5.25" fill="#164c8c"/>
<rect x="80.70" y="381.28" width="5" height="5.25" fill="#073165"/>
<rect x="30.70" y="386.03" width="5.50" height="5.25" fill="#fbd2bd"/>
<rect x="35.70" y="386.03" width="5.50" height="5.25" fill="#164c8c"/>
<rect x="40.70" y="386.03" width="10.50" height="5.25" fill="#073165"/>
<rect x="50.70" y="386.03" width="5.50" height="5.25" fill="#164c8c"/>
<rect x="55.70" y="386.03" width="5.50" height="5.25" fill="#073165"/>
<rect x="60.70" y="386.03" width="5.50" height="5.25" fill="#97c7e0"/>
<rect x="65.70" y="386.03" width="20" height="5.25" fill="#073165"/>
<rect x="30.70" y="390.77" width="5.50" height="5.25" fill="#073165"/>
<rect x="35.70" y="390.77" width="5.50" height="5.25" fill="#3f89c5"/>
<rect x="40.70" y="390.77" width="5.50" height="5.25" fill="#073165"/>
<rect x="45.70" y="390.77" width="5.50" height="5.25" fill="#d2e5f0"/>
<rect x="50.70" y="390.77" width="5.50" height="5.25" fill="#073165"/>
<rect x="55.70" y="390.77" width="5.50" height="5.25" fill="#164c8c"/>
<rect x="60.70" y="390.77" width="5.50" height="5.25" fill="#3f89c5"/>
<rect x="65.70" y="390.77" width="5.50" height="5.25" fill="#164c8c"/>
<rect x="70.70" y="390.77" width="10.50" height="5.25" fill="#073165"/>
<rect x="80.70" y="390.77" width="5" height="5.25" fill="#f2a17f"/>
<rect x="30.70" y="395.52" width="5.50" height="5.25" fill="#97c7e0"/>
<rect x="35.70" y="395.52" width="5.50" height="5.25" fill="#164c8c"/>
<rect x="40.70" y="395.52" width="5.50" height="5.25" fill="#073165"/>
<rect x="45.70" y="395.52" width="5.50" height="5.25" fill="#3f89c5"/>
<rect x="50.70" y="395.52" width="30.50" height="5.25" fill="#073165"/>
<rect x="80.70" y="395.52" width="5" height="5.25" fill="#ffffff"/>
<rect x="30.70" y="400.26" width="5.50" height="5.25" fill="#073165"/>
<rect x="35.70" y="400.26" width="10.50" height="5.25" fill="#3f89c5"/>
<rect x="45.70" y="400.26" width="5.50" height="5.25" fill="#073165"/>
<rect x="50.70" y="400.26" width="10.50" height="5.25" fill="#2f6fb2"/>
<rect x="60.70" y="400.26" width="10.50" height="5.25" fill="#073165"/>
<rect x="70.70" y="400.26" width="5.50" height="5.25" fill="#8f8f8f"/>
<rect x="75.70" y="400.26" width="5.50" height="5.25" fill="#ffffff"/>
<rect x="80.70" y="400.26" width="5" height="5.25" fill="#073165"/>
<rect x="30.70" y="405.01" width="5.50" height="5.25" fill="#8f8f8f"/>
<rect x="35.70" y="405.01" width="5.50" height="5.25" fill="#073165"/>
<rect x="40.70" y="405.01" width="5.50" height="5.25" fill="#3f89c5"/>
<rect x="45.70" y="405.01" width="5.50" height="5.25" fill="#073165"/>
<rect x="50.70" y="405.01" width="5.50" height="5.25" fill="#97c7e0"/>
<rect x="55.70" y="405.01" width="5.50" height="5.25" fill="#073165"/>
<rect x="60.70" y="405.01" width="5.50" height="5.25" fill="#164c8c"/>
<rect x="65.70" y="405.01" width="5.50" height="5.25" fill="#8f8f8f"/>
<rect x="70.70" y="405.01" width="5.50" height="5.25" fill="#ffffff"/>
<rect x="75.70" y="405.01" width="5.50" height="5.25" fill="#8f8f8f"/>
<rect x="80.70" y="405.01" width="5" height="5.25" fill="#073165"/>
<rect x="30.70" y="409.75" width="5.50" height="4.75" fill="#073165"/>
<rect x="35.70" y="409.75" width="5.50" height="4.75" fill="#97c7e0"/>
<rect x="40.70" y="409.75" width="10.50" height="4.75" fill="#073165"/>
<rect x="50.70" y="409.75" width="5.50" height="4.75" fill="#3f89c5"/>
<rect x="55.70" y="409.75" width="5.50" height="4.75" fill="#073165"/>
<rect x="60.70" y="409.75" width="5.50" height="4.75" fill="#8f8f8f"/>
<rect x="65.70" y="409.75" width="5.50" height="4.75" fill="#ffffff"/>
<rect x="70.70" y="409.75" width="5.50" height="4.75" fill="#8f8f8f"/>
<rect x="75.70" y="409.75" width="10" height="4.75" fill="#073165"/>
<line x1="55.70" y1="362.30" x2="55.70" y2="414.50" stroke="#000" stroke-width="0.85" stroke-dasharray="3.2,3.4" stroke-dashoffset="-1.5"/>
<line x1="60.70" y1="362.30" x2="60.70" y2="414.50" stroke="#000" stroke-width="0.85" stroke-dasharray="3.2,3.4" stroke-dashoffset="-1.5"/>
<line x1="30.70" y1="386.03" x2="86.20" y2="386.03" stroke="#000" stroke-width="0.85" stroke-dasharray="3.4,2.4"/>
<line x1="30.70" y1="390.77" x2="86.20" y2="390.77" stroke="#000" stroke-width="0.85" stroke-dasharray="3.4,2.4"/>
<rect x="30.70" y="362.30" width="55" height="52.20" fill="none" stroke="#231f20" stroke-width="0.7"/>
<text x="58.2" y="357.9" font-size="7.3" fill="#3c4e8a" text-anchor="middle" font-weight="bold" stroke="#3c4e8a" stroke-width="0.2">Liver</text>
<text x="93.5" y="356.8" font-size="7.3" fill="#231f20" text-anchor="end" stroke="#231f20" stroke-width="0.2" transform="rotate(-90 93.50 356.80)">5.21 Mb</text>
<text x="93.5" y="388.7" font-size="7.3" fill="#e8262d" text-anchor="middle" stroke="#e8262d" stroke-width="0.2" transform="rotate(-90 93.50 388.70)">E</text>
<text x="93.5" y="414.5" font-size="7.3" fill="#231f20" stroke="#231f20" stroke-width="0.2" transform="rotate(-90 93.50 414.50)">5.1</text>
<use href="#s0" transform="matrix(0,1,1,0,95.00,362.30)"/>
<use href="#s1" transform="matrix(0,1,1,0,106.80,362.30)"/>
<rect x="95.10" y="415" width="10.70" height="2.40" fill="#b3abab"/>
<rect x="107.10" y="415" width="10.20" height="2.40" fill="#b3abab"/>
<line x1="94.50" y1="386.03" x2="117.40" y2="386.03" stroke="#000" stroke-width="0.6" stroke-dasharray="2.8,1.8" stroke-opacity="0.8"/>
<line x1="117.20" y1="386.03" x2="121.10" y2="386.03" stroke="#231f20" stroke-width="0.8"/>
<line x1="94.50" y1="390.77" x2="117.40" y2="390.77" stroke="#000" stroke-width="0.6" stroke-dasharray="2.8,1.8" stroke-opacity="0.8"/>
<line x1="117.20" y1="390.77" x2="121.10" y2="390.77" stroke="#231f20" stroke-width="0.8"/>
<text transform="translate(100.20,428.30) rotate(-90)" font-size="7.3" fill="#231f20" stroke="#231f20" stroke-width="0.2"><tspan font-style="italic" font-size="7.8">F</tspan><tspan font-size="3.8" dy="2.2" fill="#777" stroke="#777" stroke-width="0.1">ST</tspan></text>
<text transform="translate(113.60,439.80) rotate(-90)" font-size="7.3" fill="#231f20" stroke="#231f20" stroke-width="0.2"><tspan font-style="italic" font-size="7.0">θ</tspan><tspan font-size="3.6" dy="1.8">π</tspan><tspan dy="-1.8" dx="0.5">ratio</tspan></text>
<text x="25.7" y="421.3" font-size="7.3" fill="#231f20" stroke="#231f20" stroke-width="0.2">5.17</text>
<text x="58.7" y="421.3" font-size="7.3" fill="#e8262d" text-anchor="middle" stroke="#e8262d" stroke-width="0.2">P</text>
<text x="92.5" y="421.3" font-size="7.3" fill="#231f20" text-anchor="end" stroke="#231f20" stroke-width="0.2">5.28 Mb</text>
<text x="22.1" y="421.3" font-size="7.3" fill="#231f20" text-anchor="end" stroke="#231f20" stroke-width="0.2">Chr.12</text>
<text x="25.00" y="430.60" font-size="7.3" fill="#231f20" stroke="#231f20" stroke-width="0.2" text-anchor="end"><tspan font-style="italic" font-size="7.8">F</tspan><tspan font-size="3.8" dy="2.2" fill="#777" stroke="#777" stroke-width="0.1">ST</tspan></text>
<text x="25.00" y="443.50" font-size="7.3" fill="#231f20" stroke="#231f20" stroke-width="0.2" text-anchor="end"><tspan font-style="italic" font-size="7.0">θ</tspan><tspan font-size="3.6" dy="1.8">π</tspan><tspan dy="-1.8" dx="0.5">ratio</tspan></text>
<use href="#s2" transform="translate(30.70,422.80)"/>
<use href="#s3" transform="translate(30.70,434.50)"/>
<rect x="29.20" y="422.80" width="1.40" height="23" fill="#b3abab"/>
<line x1="55.70" y1="422.80" x2="55.70" y2="455.80" stroke="#000" stroke-width="0.7" stroke-dasharray="2.8,1.8"/>
<line x1="60.70" y1="422.80" x2="60.70" y2="455.80" stroke="#000" stroke-width="0.7" stroke-dasharray="2.8,1.8"/>
<line x1="41.50" y1="453.10" x2="55.70" y2="453.10" stroke="#231f20" stroke-width="0.8"/>
<circle cx="42.70" cy="453.10" r="0.8" fill="#231f20"/>
<circle cx="44.50" cy="453.10" r="0.8" fill="#231f20"/>
<circle cx="46.30" cy="453.10" r="0.8" fill="#231f20"/>
<circle cx="48.10" cy="453.10" r="0.8" fill="#231f20"/>
<line x1="55.70" y1="451.50" x2="55.70" y2="454.70" stroke="#231f20" stroke-width="0.6"/>
<line x1="57.40" y1="450.50" x2="78" y2="450.50" stroke="#555" stroke-width="0.8"/>
<line x1="78" y1="449.30" x2="78" y2="451.70" stroke="#231f20" stroke-width="0.6"/>
<line x1="60.70" y1="449.30" x2="60.70" y2="451.70" stroke="#231f20" stroke-width="0.6"/>
<text x="61.7" y="458.5" font-size="7.3" fill="#ee2a2f" font-style="italic" stroke="#ee2a2f" stroke-width="0.2">USP10</text>
<rect x="132" y="362.30" width="5.50" height="5.25" fill="#073165"/>
<rect x="137" y="362.30" width="5.50" height="5.25" fill="#2f6fb2"/>
<rect x="142" y="362.30" width="5.50" height="5.25" fill="#073165"/>
<rect x="147" y="362.30" width="5.50" height="5.25" fill="#ffffff"/>
<rect x="152" y="362.30" width="5.50" height="5.25" fill="#073165"/>
<rect x="157" y="362.30" width="10.50" height="5.25" fill="#2f6fb2"/>
<rect x="167" y="362.30" width="20" height="5.25" fill="#073165"/>
<rect x="132" y="367.05" width="5.50" height="5.25" fill="#3f89c5"/>
<rect x="137" y="367.05" width="5.50" height="5.25" fill="#073165"/>
<rect x="142" y="367.05" width="5.50" height="5.25" fill="#ffffff"/>
<rect x="147" y="367.05" width="40" height="5.25" fill="#073165"/>
<rect x="132" y="371.79" width="5.50" height="5.25" fill="#164c8c"/>
<rect x="137" y="371.79" width="5.50" height="5.25" fill="#ffffff"/>
<rect x="142" y="371.79" width="10.50" height="5.25" fill="#073165"/>
<rect x="152" y="371.79" width="5.50" height="5.25" fill="#164c8c"/>
<rect x="157" y="371.79" width="30" height="5.25" fill="#073165"/>
<rect x="132" y="376.54" width="5.50" height="5.25" fill="#ffffff"/>
<rect x="137" y="376.54" width="50" height="5.25" fill="#073165"/>
<rect x="132" y="381.28" width="10.50" height="5.25" fill="#3f89c5"/>
<rect x="142" y="381.28" width="5.50" height="5.25" fill="#97c7e0"/>
<rect x="147" y="381.28" width="10.50" height="5.25" fill="#073165"/>
<rect x="157" y="381.28" width="5.50" height="5.25" fill="#97c7e0"/>
<rect x="162" y="381.28" width="5.50" height="5.25" fill="#2f6fb2"/>
<rect x="167" y="381.28" width="20" height="5.25" fill="#073165"/>
<rect x="132" y="386.03" width="5.50" height="5.25" fill="#f2a17f"/>
<rect x="137" y="386.03" width="5.50" height="5.25" fill="#073165"/>
<rect x="142" y="386.03" width="5.50" height="5.25" fill="#d2e5f0"/>
<rect x="147" y="386.03" width="5.50" height="5.25" fill="#073165"/>
<rect x="152" y="386.03" width="10.50" height="5.25" fill="#3f89c5"/>
<rect x="162" y="386.03" width="5.50" height="5.25" fill="#97c7e0"/>
<rect x="167" y="386.03" width="5.50" height="5.25" fill="#073165"/>
<rect x="172" y="386.03" width="5.50" height="5.25" fill="#3f89c5"/>
<rect x="177" y="386.03" width="10" height="5.25" fill="#073165"/>
<rect x="132" y="390.77" width="5.50" height="5.25" fill="#2f6fb2"/>
<rect x="137" y="390.77" width="5.50" height="5.25" fill="#073165"/>
<rect x="142" y="390.77" width="5.50" height="5.25" fill="#164c8c"/>
<rect x="147" y="390.77" width="5.50" height="5.25" fill="#3f89c5"/>
<rect x="152" y="390.77" width="10.50" height="5.25" fill="#073165"/>
<rect x="162" y="390.77" width="5.50" height="5.25" fill="#97c7e0"/>
<rect x="167" y="390.77" width="5.50" height="5.25" fill="#2f6fb2"/>
<rect x="172" y="390.77" width="5.50" height="5.25" fill="#3f89c5"/>
<rect x="177" y="390.77" width="5.50" height="5.25" fill="#073165"/>
<rect x="182" y="390.77" width="5" height="5.25" fill="#2f6fb2"/>
<rect x="132" y="395.52" width="5.50" height="5.25" fill="#8f8f8f"/>
<rect x="137" y="395.52" width="20.50" height="5.25" fill="#073165"/>
<rect x="157" y="395.52" width="5.50" height="5.25" fill="#97c7e0"/>
<rect x="162" y="395.52" width="20.50" height="5.25" fill="#073165"/>
<rect x="182" y="395.52" width="5" height="5.25" fill="#ffffff"/>
<rect x="132" y="400.26" width="10.50" height="5.25" fill="#073165"/>
<rect x="142" y="400.26" width="5.50" height="5.25" fill="#ab1429"/>
<rect x="147" y="400.26" width="20.50" height="5.25" fill="#073165"/>
<rect x="167" y="400.26" width="5.50" height="5.25" fill="#3f89c5"/>
<rect x="172" y="400.26" width="5.50" height="5.25" fill="#ab1429"/>
<rect x="177" y="400.26" width="5.50" height="5.25" fill="#ffffff"/>
<rect x="182" y="400.26" width="5" height="5.25" fill="#073165"/>
<rect x="132" y="405.01" width="15.50" height="5.25" fill="#073165"/>
<rect x="147" y="405.01" width="5.50" height="5.25" fill="#3f89c5"/>
<rect x="152" y="405.01" width="20.50" height="5.25" fill="#073165"/>
<rect x="172" y="405.01" width="5.50" height="5.25" fill="#ffffff"/>
<rect x="177" y="405.01" width="5.50" height="5.25" fill="#ab1429"/>
<rect x="182" y="405.01" width="5" height="5.25" fill="#073165"/>
<rect x="132" y="409.75" width="15.50" height="4.75" fill="#073165"/>
<rect x="147" y="409.75" width="10.50" height="4.75" fill="#3f89c5"/>
<rect x="157" y="409.75" width="5.50" height="4.75" fill="#fbd2bd"/>
<rect x="162" y="409.75" width="5.50" height="4.75" fill="#8f8f8f"/>
<rect x="167" y="409.75" width="5.50" height="4.75" fill="#ffffff"/>
<rect x="172" y="409.75" width="5.50" height="4.75" fill="#073165"/>
<rect x="177" y="409.75" width="5.50" height="4.75" fill="#3f89c5"/>
<rect x="182" y="409.75" width="5" height="4.75" fill="#073165"/>
<line x1="157" y1="362.30" x2="157" y2="414.50" stroke="#000" stroke-width="0.85" stroke-dasharray="3.2,3.4" stroke-dashoffset="-1.5"/>
<line x1="162" y1="362.30" x2="162" y2="414.50" stroke="#000" stroke-width="0.85" stroke-dasharray="3.2,3.4" stroke-dashoffset="-1.5"/>
<line x1="132" y1="386.03" x2="187.50" y2="386.03" stroke="#000" stroke-width="0.85" stroke-dasharray="3.4,2.4"/>
<line x1="132" y1="390.77" x2="187.50" y2="390.77" stroke="#000" stroke-width="0.85" stroke-dasharray="3.4,2.4"/>
<rect x="132" y="362.30" width="55" height="52.20" fill="none" stroke="#231f20" stroke-width="0.7"/>
<text x="159.5" y="357.9" font-size="7.3" fill="#e8927a" text-anchor="middle" font-weight="bold" stroke="#e8927a" stroke-width="0.2">Lung</text>
<text x="193.8" y="356.8" font-size="7.3" fill="#231f20" text-anchor="end" stroke="#231f20" stroke-width="0.2" transform="rotate(-90 193.85 356.80)">5.21 Mb</text>
<text x="193.8" y="388.7" font-size="7.3" fill="#e8262d" text-anchor="middle" stroke="#e8262d" stroke-width="0.2" transform="rotate(-90 193.85 388.70)">E</text>
<text x="193.8" y="414.5" font-size="7.3" fill="#231f20" stroke="#231f20" stroke-width="0.2" transform="rotate(-90 193.85 414.50)">5.1</text>
<use href="#s0" transform="matrix(0,1,1,0,196.10,362.30)"/>
<use href="#s1" transform="matrix(0,1,1,0,208.00,362.30)"/>
<rect x="196.20" y="415" width="10.70" height="2.40" fill="#b3abab"/>
<rect x="208.30" y="415" width="10.20" height="2.40" fill="#b3abab"/>
<line x1="195.60" y1="386.03" x2="218.60" y2="386.03" stroke="#000" stroke-width="0.6" stroke-dasharray="2.8,1.8" stroke-opacity="0.8"/>
<line x1="218.40" y1="386.03" x2="222.30" y2="386.03" stroke="#231f20" stroke-width="0.8"/>
<line x1="195.60" y1="390.77" x2="218.60" y2="390.77" stroke="#000" stroke-width="0.6" stroke-dasharray="2.8,1.8" stroke-opacity="0.8"/>
<line x1="218.40" y1="390.77" x2="222.30" y2="390.77" stroke="#231f20" stroke-width="0.8"/>
<text transform="translate(201.30,428.30) rotate(-90)" font-size="7.3" fill="#231f20" stroke="#231f20" stroke-width="0.2"><tspan font-style="italic" font-size="7.8">F</tspan><tspan font-size="3.8" dy="2.2" fill="#777" stroke="#777" stroke-width="0.1">ST</tspan></text>
<text transform="translate(214.80,439.80) rotate(-90)" font-size="7.3" fill="#231f20" stroke="#231f20" stroke-width="0.2"><tspan font-style="italic" font-size="7.0">θ</tspan><tspan font-size="3.6" dy="1.8">π</tspan><tspan dy="-1.8" dx="0.5">ratio</tspan></text>
<text x="127.0" y="421.3" font-size="7.3" fill="#231f20" stroke="#231f20" stroke-width="0.2">5.17</text>
<text x="160.0" y="421.3" font-size="7.3" fill="#e8262d" text-anchor="middle" stroke="#e8262d" stroke-width="0.2">P</text>
<text x="193.8" y="421.3" font-size="7.3" fill="#231f20" text-anchor="end" stroke="#231f20" stroke-width="0.2">5.28 Mb</text>
<use href="#s2" transform="translate(132.00,422.80)"/>
<use href="#s3" transform="translate(132.00,434.50)"/>
<rect x="130.50" y="422.80" width="1.40" height="23" fill="#b3abab"/>
<line x1="157" y1="422.80" x2="157" y2="455.80" stroke="#000" stroke-width="0.7" stroke-dasharray="2.8,1.8"/>
<line x1="162" y1="422.80" x2="162" y2="455.80" stroke="#000" stroke-width="0.7" stroke-dasharray="2.8,1.8"/>
<line x1="142.80" y1="453.10" x2="157" y2="453.10" stroke="#231f20" stroke-width="0.8"/>
<circle cx="144.00" cy="453.10" r="0.8" fill="#231f20"/>
<circle cx="145.80" cy="453.10" r="0.8" fill="#231f20"/>
<circle cx="147.60" cy="453.10" r="0.8" fill="#231f20"/>
<circle cx="149.40" cy="453.10" r="0.8" fill="#231f20"/>
<line x1="157" y1="451.50" x2="157" y2="454.70" stroke="#231f20" stroke-width="0.6"/>
<line x1="158.70" y1="450.50" x2="179.30" y2="450.50" stroke="#555" stroke-width="0.8"/>
<line x1="179.30" y1="449.30" x2="179.30" y2="451.70" stroke="#231f20" stroke-width="0.6"/>
<line x1="162" y1="449.30" x2="162" y2="451.70" stroke="#231f20" stroke-width="0.6"/>
<text x="163.4" y="458.6" font-size="7.3" fill="#ee2a2f" font-style="italic" stroke="#ee2a2f" stroke-width="0.2">USP10</text>
<rect x="233" y="362.30" width="5.50" height="5.25" fill="#073165"/>
<rect x="238" y="362.30" width="5.50" height="5.25" fill="#3f89c5"/>
<rect x="243" y="362.30" width="5.50" height="5.25" fill="#073165"/>
<rect x="248" y="362.30" width="5.50" height="5.25" fill="#ffffff"/>
<rect x="253" y="362.30" width="5.50" height="5.25" fill="#6eaed6"/>
<rect x="258" y="362.30" width="30" height="5.25" fill="#073165"/>
<rect x="233" y="367.05" width="10.50" height="5.25" fill="#073165"/>
<rect x="243" y="367.05" width="5.50" height="5.25" fill="#ffffff"/>
<rect x="248" y="367.05" width="15.50" height="5.25" fill="#073165"/>
<rect x="263" y="367.05" width="5.50" height="5.25" fill="#3f89c5"/>
<rect x="268" y="367.05" width="20" height="5.25" fill="#073165"/>
<rect x="233" y="371.79" width="5.50" height="5.25" fill="#073165"/>
<rect x="238" y="371.79" width="5.50" height="5.25" fill="#ffffff"/>
<rect x="243" y="371.79" width="45" height="5.25" fill="#073165"/>
<rect x="233" y="376.54" width="5.50" height="5.25" fill="#ffffff"/>
<rect x="238" y="376.54" width="50" height="5.25" fill="#073165"/>
<rect x="233" y="381.28" width="5.50" height="5.25" fill="#073165"/>
<rect x="238" y="381.28" width="5.50" height="5.25" fill="#2f6fb2"/>
<rect x="243" y="381.28" width="5.50" height="5.25" fill="#073165"/>
<rect x="248" y="381.28" width="5.50" height="5.25" fill="#3f89c5"/>
<rect x="253" y="381.28" width="35" height="5.25" fill="#073165"/>
<rect x="233" y="386.03" width="5.50" height="5.25" fill="#164c8c"/>
<rect x="238" y="386.03" width="5.50" height="5.25" fill="#073165"/>
<rect x="243" y="386.03" width="5.50" height="5.25" fill="#164c8c"/>
<rect x="248" y="386.03" width="5.50" height="5.25" fill="#ffffff"/>
<rect x="253" y="386.03" width="5.50" height="5.25" fill="#073165"/>
<rect x="258" y="386.03" width="5.50" height="5.25" fill="#3f89c5"/>
<rect x="263" y="386.03" width="10.50" height="5.25" fill="#073165"/>
<rect x="273" y="386.03" width="5.50" height="5.25" fill="#3f89c5"/>
<rect x="278" y="386.03" width="10" height="5.25" fill="#073165"/>
<rect x="233" y="390.77" width="5.50" height="5.25" fill="#97c7e0"/>
<rect x="238" y="390.77" width="5.50" height="5.25" fill="#ffffff"/>
<rect x="243" y="390.77" width="5.50" height="5.25" fill="#d2e5f0"/>
<rect x="248" y="390.77" width="5.50" height="5.25" fill="#97c7e0"/>
<rect x="253" y="390.77" width="5.50" height="5.25" fill="#2f6fb2"/>
<rect x="258" y="390.77" width="5.50" height="5.25" fill="#8f8f8f"/>
<rect x="263" y="390.77" width="5.50" height="5.25" fill="#ffffff"/>
<rect x="268" y="390.77" width="5.50" height="5.25" fill="#073165"/>
<rect x="273" y="390.77" width="5.50" height="5.25" fill="#3f89c5"/>
<rect x="278" y="390.77" width="10" height="5.25" fill="#073165"/>
<rect x="233" y="395.52" width="5.50" height="5.25" fill="#97c7e0"/>
<rect x="238" y="395.52" width="5.50" height="5.25" fill="#073165"/>
<rect x="243" y="395.52" width="5.50" height="5.25" fill="#f2a17f"/>
<rect x="248" y="395.52" width="10.50" height="5.25" fill="#073165"/>
<rect x="258" y="395.52" width="5.50" height="5.25" fill="#97c7e0"/>
<rect x="263" y="395.52" width="5.50" height="5.25" fill="#8f8f8f"/>
<rect x="268" y="395.52" width="5.50" height="5.25" fill="#7a0c1f"/>
<rect x="273" y="395.52" width="5.50" height="5.25" fill="#073165"/>
<rect x="278" y="395.52" width="5.50" height="5.25" fill="#d2e5f0"/>
<rect x="283" y="395.52" width="5" height="5.25" fill="#ffffff"/>
<rect x="233" y="400.26" width="5.50" height="5.25" fill="#ffffff"/>
<rect x="238" y="400.26" width="5.50" height="5.25" fill="#2f6fb2"/>
<rect x="243" y="400.26" width="5.50" height="5.25" fill="#073165"/>
<rect x="248" y="400.26" width="5.50" height="5.25" fill="#ffffff"/>
<rect x="253" y="400.26" width="5.50" height="5.25" fill="#073165"/>
<rect x="258" y="400.26" width="5.50" height="5.25" fill="#3f89c5"/>
<rect x="263" y="400.26" width="5.50" height="5.25" fill="#164c8c"/>
<rect x="268" y="400.26" width="5.50" height="5.25" fill="#073165"/>
<rect x="273" y="400.26" width="5.50" height="5.25" fill="#8f8f8f"/>
<rect x="278" y="400.26" width="5.50" height="5.25" fill="#ffffff"/>
<rect x="283" y="400.26" width="5" height="5.25" fill="#d2e5f0"/>
<rect x="233" y="405.01" width="5.50" height="5.25" fill="#f2a17f"/>
<rect x="238" y="405.01" width="10.50" height="5.25" fill="#073165"/>
<rect x="248" y="405.01" width="5.50" height="5.25" fill="#2f6fb2"/>
<rect x="253" y="405.01" width="15.50" height="5.25" fill="#073165"/>
<rect x="268" y="405.01" width="5.50" height="5.25" fill="#8f8f8f"/>
<rect x="273" y="405.01" width="5.50" height="5.25" fill="#ffffff"/>
<rect x="278" y="405.01" width="5.50" height="5.25" fill="#8f8f8f"/>
<rect x="283" y="405.01" width="5" height="5.25" fill="#164c8c"/>
<rect x="233" y="409.75" width="5.50" height="4.75" fill="#3f89c5"/>
<rect x="238" y="409.75" width="5.50" height="4.75" fill="#d2e5f0"/>
<rect x="243" y="409.75" width="5.50" height="4.75" fill="#073165"/>
<rect x="248" y="409.75" width="5.50" height="4.75" fill="#3f89c5"/>
<rect x="253" y="409.75" width="10.50" height="4.75" fill="#073165"/>
<rect x="263" y="409.75" width="5.50" height="4.75" fill="#8f8f8f"/>
<rect x="268" y="409.75" width="5.50" height="4.75" fill="#ffffff"/>
<rect x="273" y="409.75" width="5.50" height="4.75" fill="#8f8f8f"/>
<rect x="278" y="409.75" width="5.50" height="4.75" fill="#164c8c"/>
<rect x="283" y="409.75" width="5" height="4.75" fill="#7a0c1f"/>
<line x1="258" y1="362.30" x2="258" y2="414.50" stroke="#000" stroke-width="0.85" stroke-dasharray="3.2,3.4" stroke-dashoffset="-1.5"/>
<line x1="263" y1="362.30" x2="263" y2="414.50" stroke="#000" stroke-width="0.85" stroke-dasharray="3.2,3.4" stroke-dashoffset="-1.5"/>
<line x1="233" y1="386.03" x2="288.50" y2="386.03" stroke="#000" stroke-width="0.85" stroke-dasharray="3.4,2.4"/>
<line x1="233" y1="390.77" x2="288.50" y2="390.77" stroke="#000" stroke-width="0.85" stroke-dasharray="3.4,2.4"/>
<rect x="233" y="362.30" width="55" height="52.20" fill="none" stroke="#231f20" stroke-width="0.7"/>
<text x="260.5" y="357.9" font-size="7.3" fill="#8089b8" text-anchor="middle" font-weight="bold" stroke="#8089b8" stroke-width="0.2">Muscle</text>
<text x="294.6" y="356.8" font-size="7.3" fill="#231f20" text-anchor="end" stroke="#231f20" stroke-width="0.2" transform="rotate(-90 294.65 356.80)">5.21 Mb</text>
<text x="294.6" y="388.7" font-size="7.3" fill="#e8262d" text-anchor="middle" stroke="#e8262d" stroke-width="0.2" transform="rotate(-90 294.65 388.70)">E</text>
<text x="294.6" y="414.5" font-size="7.3" fill="#231f20" stroke="#231f20" stroke-width="0.2" transform="rotate(-90 294.65 414.50)">5.1</text>
<use href="#s0" transform="matrix(0,1,1,0,297.30,362.30)"/>
<use href="#s1" transform="matrix(0,1,1,0,309.30,362.30)"/>
<rect x="297.40" y="415" width="10.70" height="2.40" fill="#b3abab"/>
<rect x="309.60" y="415" width="10.20" height="2.40" fill="#b3abab"/>
<line x1="296.80" y1="386.03" x2="319.90" y2="386.03" stroke="#000" stroke-width="0.6" stroke-dasharray="2.8,1.8" stroke-opacity="0.8"/>
<line x1="319.70" y1="386.03" x2="323.60" y2="386.03" stroke="#231f20" stroke-width="0.8"/>
<line x1="296.80" y1="390.77" x2="319.90" y2="390.77" stroke="#000" stroke-width="0.6" stroke-dasharray="2.8,1.8" stroke-opacity="0.8"/>
<line x1="319.70" y1="390.77" x2="323.60" y2="390.77" stroke="#231f20" stroke-width="0.8"/>
<text transform="translate(302.50,428.30) rotate(-90)" font-size="7.3" fill="#231f20" stroke="#231f20" stroke-width="0.2"><tspan font-style="italic" font-size="7.8">F</tspan><tspan font-size="3.8" dy="2.2" fill="#777" stroke="#777" stroke-width="0.1">ST</tspan></text>
<text transform="translate(316.10,439.80) rotate(-90)" font-size="7.3" fill="#231f20" stroke="#231f20" stroke-width="0.2"><tspan font-style="italic" font-size="7.0">θ</tspan><tspan font-size="3.6" dy="1.8">π</tspan><tspan dy="-1.8" dx="0.5">ratio</tspan></text>
<text x="228.0" y="421.3" font-size="7.3" fill="#231f20" stroke="#231f20" stroke-width="0.2">5.17</text>
<text x="261.0" y="421.3" font-size="7.3" fill="#e8262d" text-anchor="middle" stroke="#e8262d" stroke-width="0.2">P</text>
<text x="294.8" y="421.3" font-size="7.3" fill="#231f20" text-anchor="end" stroke="#231f20" stroke-width="0.2">5.28 Mb</text>
<use href="#s2" transform="translate(233.00,422.80)"/>
<use href="#s3" transform="translate(233.00,434.50)"/>
<rect x="231.50" y="422.80" width="1.40" height="23" fill="#b3abab"/>
<line x1="258" y1="422.80" x2="258" y2="455.80" stroke="#000" stroke-width="0.7" stroke-dasharray="2.8,1.8"/>
<line x1="263" y1="422.80" x2="263" y2="455.80" stroke="#000" stroke-width="0.7" stroke-dasharray="2.8,1.8"/>
<line x1="243.80" y1="453.10" x2="258" y2="453.10" stroke="#231f20" stroke-width="0.8"/>
<circle cx="245.00" cy="453.10" r="0.8" fill="#231f20"/>
<circle cx="246.80" cy="453.10" r="0.8" fill="#231f20"/>
<circle cx="248.60" cy="453.10" r="0.8" fill="#231f20"/>
<circle cx="250.40" cy="453.10" r="0.8" fill="#231f20"/>
<line x1="258" y1="451.50" x2="258" y2="454.70" stroke="#231f20" stroke-width="0.6"/>
<line x1="259.70" y1="450.50" x2="280.30" y2="450.50" stroke="#555" stroke-width="0.8"/>
<line x1="280.30" y1="449.30" x2="280.30" y2="451.70" stroke="#231f20" stroke-width="0.6"/>
<line x1="263" y1="449.30" x2="263" y2="451.70" stroke="#231f20" stroke-width="0.6"/>
<text x="266.8" y="458.6" font-size="7.3" fill="#ee2a2f" font-style="italic" stroke="#ee2a2f" stroke-width="0.2">USP10</text>
<rect x="30.50" y="483.30" width="10.50" height="5.25" fill="#073165"/>
<rect x="40.50" y="483.30" width="5.50" height="5.25" fill="#97c7e0"/>
<rect x="45.50" y="483.30" width="5.50" height="5.25" fill="#ffffff"/>
<rect x="50.50" y="483.30" width="5.50" height="5.25" fill="#073165"/>
<rect x="55.50" y="483.30" width="5.50" height="5.25" fill="#2f6fb2"/>
<rect x="60.50" y="483.30" width="25" height="5.25" fill="#073165"/>
<rect x="30.50" y="488.05" width="10.50" height="5.25" fill="#073165"/>
<rect x="40.50" y="488.05" width="5.50" height="5.25" fill="#ffffff"/>
<rect x="45.50" y="488.05" width="40" height="5.25" fill="#073165"/>
<rect x="30.50" y="492.79" width="5.50" height="5.25" fill="#073165"/>
<rect x="35.50" y="492.79" width="5.50" height="5.25" fill="#ffffff"/>
<rect x="40.50" y="492.79" width="45" height="5.25" fill="#073165"/>
<rect x="30.50" y="497.54" width="5.50" height="5.25" fill="#ffffff"/>
<rect x="35.50" y="497.54" width="30.50" height="5.25" fill="#073165"/>
<rect x="65.50" y="497.54" width="5.50" height="5.25" fill="#3f89c5"/>
<rect x="70.50" y="497.54" width="15" height="5.25" fill="#073165"/>
<rect x="30.50" y="502.28" width="5.50" height="5.25" fill="#073165"/>
<rect x="35.50" y="502.28" width="5.50" height="5.25" fill="#2f6fb2"/>
<rect x="40.50" y="502.28" width="10.50" height="5.25" fill="#073165"/>
<rect x="50.50" y="502.28" width="5.50" height="5.25" fill="#164c8c"/>
<rect x="55.50" y="502.28" width="30" height="5.25" fill="#073165"/>
<rect x="30.50" y="507.03" width="5.50" height="5.25" fill="#fbd2bd"/>
<rect x="35.50" y="507.03" width="15.50" height="5.25" fill="#073165"/>
<rect x="50.50" y="507.03" width="5.50" height="5.25" fill="#2f6fb2"/>
<rect x="55.50" y="507.03" width="5.50" height="5.25" fill="#f2a17f"/>
<rect x="60.50" y="507.03" width="5.50" height="5.25" fill="#3f89c5"/>
<rect x="65.50" y="507.03" width="20" height="5.25" fill="#073165"/>
<rect x="30.50" y="511.77" width="5.50" height="5.25" fill="#dc6a4f"/>
<rect x="35.50" y="511.77" width="10.50" height="5.25" fill="#073165"/>
<rect x="45.50" y="511.77" width="5.50" height="5.25" fill="#d2e5f0"/>
<rect x="50.50" y="511.77" width="5.50" height="5.25" fill="#073165"/>
<rect x="55.50" y="511.77" width="5.50" height="5.25" fill="#97c7e0"/>
<rect x="60.50" y="511.77" width="5.50" height="5.25" fill="#2f6fb2"/>
<rect x="65.50" y="511.77" width="20" height="5.25" fill="#073165"/>
<rect x="30.50" y="516.52" width="10.50" height="5.25" fill="#2f6fb2"/>
<rect x="40.50" y="516.52" width="15.50" height="5.25" fill="#073165"/>
<rect x="55.50" y="516.52" width="5.50" height="5.25" fill="#3f89c5"/>
<rect x="60.50" y="516.52" width="20.50" height="5.25" fill="#073165"/>
<rect x="80.50" y="516.52" width="5" height="5.25" fill="#ffffff"/>
<rect x="30.50" y="521.26" width="45.50" height="5.25" fill="#073165"/>
<rect x="75.50" y="521.26" width="5.50" height="5.25" fill="#ffffff"/>
<rect x="80.50" y="521.26" width="5" height="5.25" fill="#073165"/>
<rect x="30.50" y="526.01" width="5.50" height="5.25" fill="#97c7e0"/>
<rect x="35.50" y="526.01" width="5.50" height="5.25" fill="#3f89c5"/>
<rect x="40.50" y="526.01" width="30.50" height="5.25" fill="#073165"/>
<rect x="70.50" y="526.01" width="5.50" height="5.25" fill="#ffffff"/>
<rect x="75.50" y="526.01" width="10" height="5.25" fill="#073165"/>
<rect x="30.50" y="530.75" width="5.50" height="4.75" fill="#f2a17f"/>
<rect x="35.50" y="530.75" width="10.50" height="4.75" fill="#073165"/>
<rect x="45.50" y="530.75" width="5.50" height="4.75" fill="#ffffff"/>
<rect x="50.50" y="530.75" width="10.50" height="4.75" fill="#073165"/>
<rect x="60.50" y="530.75" width="5.50" height="4.75" fill="#2f6fb2"/>
<rect x="65.50" y="530.75" width="5.50" height="4.75" fill="#ffffff"/>
<rect x="70.50" y="530.75" width="15" height="4.75" fill="#073165"/>
<line x1="55.50" y1="483.30" x2="55.50" y2="535.50" stroke="#000" stroke-width="0.85" stroke-dasharray="3.2,3.4" stroke-dashoffset="-1.5"/>
<line x1="60.50" y1="483.30" x2="60.50" y2="535.50" stroke="#000" stroke-width="0.85" stroke-dasharray="3.2,3.4" stroke-dashoffset="-1.5"/>
<line x1="30.50" y1="507.03" x2="86" y2="507.03" stroke="#000" stroke-width="0.85" stroke-dasharray="3.4,2.4"/>
<line x1="30.50" y1="511.77" x2="86" y2="511.77" stroke="#000" stroke-width="0.85" stroke-dasharray="3.4,2.4"/>
<rect x="30.50" y="483.30" width="55" height="52.20" fill="none" stroke="#231f20" stroke-width="0.7"/>
<text x="58.0" y="478.9" font-size="7.3" fill="#96d3bf" text-anchor="middle" font-weight="bold" stroke="#96d3bf" stroke-width="0.2">Small intestine</text>
<text x="93.5" y="477.8" font-size="7.3" fill="#231f20" text-anchor="end" stroke="#231f20" stroke-width="0.2" transform="rotate(-90 93.50 477.80)">5.21 Mb</text>
<text x="93.5" y="509.7" font-size="7.3" fill="#e8262d" text-anchor="middle" stroke="#e8262d" stroke-width="0.2" transform="rotate(-90 93.50 509.70)">E</text>
<text x="93.5" y="535.5" font-size="7.3" fill="#231f20" stroke="#231f20" stroke-width="0.2" transform="rotate(-90 93.50 535.50)">5.1</text>
<use href="#s0" transform="matrix(0,1,1,0,95.00,483.30)"/>
<use href="#s1" transform="matrix(0,1,1,0,106.60,483.30)"/>
<rect x="95.10" y="536" width="10.70" height="2.40" fill="#b3abab"/>
<rect x="106.90" y="536" width="10.20" height="2.40" fill="#b3abab"/>
<line x1="94.50" y1="507.03" x2="117.20" y2="507.03" stroke="#000" stroke-width="0.6" stroke-dasharray="2.8,1.8" stroke-opacity="0.8"/>
<line x1="117" y1="507.03" x2="120.90" y2="507.03" stroke="#231f20" stroke-width="0.8"/>
<line x1="94.50" y1="511.77" x2="117.20" y2="511.77" stroke="#000" stroke-width="0.6" stroke-dasharray="2.8,1.8" stroke-opacity="0.8"/>
<line x1="117" y1="511.77" x2="120.90" y2="511.77" stroke="#231f20" stroke-width="0.8"/>
<text transform="translate(100.20,549.30) rotate(-90)" font-size="7.3" fill="#231f20" stroke="#231f20" stroke-width="0.2"><tspan font-style="italic" font-size="7.8">F</tspan><tspan font-size="3.8" dy="2.2" fill="#777" stroke="#777" stroke-width="0.1">ST</tspan></text>
<text transform="translate(113.40,560.80) rotate(-90)" font-size="7.3" fill="#231f20" stroke="#231f20" stroke-width="0.2"><tspan font-style="italic" font-size="7.0">θ</tspan><tspan font-size="3.6" dy="1.8">π</tspan><tspan dy="-1.8" dx="0.5">ratio</tspan></text>
<text x="25.5" y="542.3" font-size="7.3" fill="#231f20" stroke="#231f20" stroke-width="0.2">5.17</text>
<text x="58.5" y="542.3" font-size="7.3" fill="#e8262d" text-anchor="middle" stroke="#e8262d" stroke-width="0.2">P</text>
<text x="92.3" y="542.3" font-size="7.3" fill="#231f20" text-anchor="end" stroke="#231f20" stroke-width="0.2">5.28 Mb</text>
<text x="21.9" y="542.3" font-size="7.3" fill="#231f20" text-anchor="end" stroke="#231f20" stroke-width="0.2">Chr.12</text>
<text x="24.80" y="551.60" font-size="7.3" fill="#231f20" stroke="#231f20" stroke-width="0.2" text-anchor="end"><tspan font-style="italic" font-size="7.8">F</tspan><tspan font-size="3.8" dy="2.2" fill="#777" stroke="#777" stroke-width="0.1">ST</tspan></text>
<text x="24.80" y="564.50" font-size="7.3" fill="#231f20" stroke="#231f20" stroke-width="0.2" text-anchor="end"><tspan font-style="italic" font-size="7.0">θ</tspan><tspan font-size="3.6" dy="1.8">π</tspan><tspan dy="-1.8" dx="0.5">ratio</tspan></text>
<use href="#s2" transform="translate(30.50,543.80)"/>
<use href="#s3" transform="translate(30.50,555.50)"/>
<rect x="29" y="543.80" width="1.40" height="23" fill="#b3abab"/>
<line x1="55.50" y1="543.80" x2="55.50" y2="576.80" stroke="#000" stroke-width="0.7" stroke-dasharray="2.8,1.8"/>
<line x1="60.50" y1="543.80" x2="60.50" y2="576.80" stroke="#000" stroke-width="0.7" stroke-dasharray="2.8,1.8"/>
<line x1="41.30" y1="574.10" x2="55.50" y2="574.10" stroke="#231f20" stroke-width="0.8"/>
<circle cx="42.50" cy="574.10" r="0.8" fill="#231f20"/>
<circle cx="44.30" cy="574.10" r="0.8" fill="#231f20"/>
<circle cx="46.10" cy="574.10" r="0.8" fill="#231f20"/>
<circle cx="47.90" cy="574.10" r="0.8" fill="#231f20"/>
<line x1="55.50" y1="572.50" x2="55.50" y2="575.70" stroke="#231f20" stroke-width="0.6"/>
<line x1="57.20" y1="571.50" x2="77.80" y2="571.50" stroke="#555" stroke-width="0.8"/>
<line x1="77.80" y1="570.30" x2="77.80" y2="572.70" stroke="#231f20" stroke-width="0.6"/>
<line x1="60.50" y1="570.30" x2="60.50" y2="572.70" stroke="#231f20" stroke-width="0.6"/>
<text x="66.8" y="582.6" font-size="7.3" fill="#ee2a2f" font-style="italic" stroke="#ee2a2f" stroke-width="0.2">USP10</text>
<rect x="131.80" y="483.30" width="5.50" height="5.25" fill="#2f6fb2"/>
<rect x="136.80" y="483.30" width="10.50" height="5.25" fill="#073165"/>
<rect x="146.80" y="483.30" width="5.50" height="5.25" fill="#ffffff"/>
<rect x="151.80" y="483.30" width="10.50" height="5.25" fill="#073165"/>
<rect x="161.80" y="483.30" width="5.50" height="5.25" fill="#3f89c5"/>
<rect x="166.80" y="483.30" width="20" height="5.25" fill="#073165"/>
<rect x="131.80" y="488.05" width="5.50" height="5.25" fill="#d2e5f0"/>
<rect x="136.80" y="488.05" width="5.50" height="5.25" fill="#fbd2bd"/>
<rect x="141.80" y="488.05" width="5.50" height="5.25" fill="#ffffff"/>
<rect x="146.80" y="488.05" width="10.50" height="5.25" fill="#3f89c5"/>
<rect x="156.80" y="488.05" width="30" height="5.25" fill="#073165"/>
<rect x="131.80" y="492.79" width="5.50" height="5.25" fill="#073165"/>
<rect x="136.80" y="492.79" width="5.50" height="5.25" fill="#ffffff"/>
<rect x="141.80" y="492.79" width="5.50" height="5.25" fill="#3f89c5"/>
<rect x="146.80" y="492.79" width="5.50" height="5.25" fill="#2f6fb2"/>
<rect x="151.80" y="492.79" width="35" height="5.25" fill="#073165"/>
<rect x="131.80" y="497.54" width="5.50" height="5.25" fill="#ffffff"/>
<rect x="136.80" y="497.54" width="50" height="5.25" fill="#073165"/>
<rect x="131.80" y="502.28" width="5.50" height="5.25" fill="#073165"/>
<rect x="136.80" y="502.28" width="5.50" height="5.25" fill="#97c7e0"/>
<rect x="141.80" y="502.28" width="5.50" height="5.25" fill="#ab1429"/>
<rect x="146.80" y="502.28" width="30.50" height="5.25" fill="#073165"/>
<rect x="176.80" y="502.28" width="5.50" height="5.25" fill="#3f89c5"/>
<rect x="181.80" y="502.28" width="5" height="5.25" fill="#073165"/>
<rect x="131.80" y="507.03" width="5.50" height="5.25" fill="#073165"/>
<rect x="136.80" y="507.03" width="5.50" height="5.25" fill="#2f6fb2"/>
<rect x="141.80" y="507.03" width="20.50" height="5.25" fill="#073165"/>
<rect x="161.80" y="507.03" width="5.50" height="5.25" fill="#97c7e0"/>
<rect x="166.80" y="507.03" width="20" height="5.25" fill="#073165"/>
<rect x="131.80" y="511.77" width="5.50" height="5.25" fill="#073165"/>
<rect x="136.80" y="511.77" width="5.50" height="5.25" fill="#8f8f8f"/>
<rect x="141.80" y="511.77" width="5.50" height="5.25" fill="#f2a17f"/>
<rect x="146.80" y="511.77" width="10.50" height="5.25" fill="#073165"/>
<rect x="156.80" y="511.77" width="5.50" height="5.25" fill="#f2a17f"/>
<rect x="161.80" y="511.77" width="5.50" height="5.25" fill="#ffffff"/>
<rect x="166.80" y="511.77" width="5.50" height="5.25" fill="#fbd2bd"/>
<rect x="171.80" y="511.77" width="15" height="5.25" fill="#073165"/>
<rect x="131.80" y="516.52" width="25.50" height="5.25" fill="#073165"/>
<rect x="156.80" y="516.52" width="5.50" height="5.25" fill="#ffffff"/>
<rect x="161.80" y="516.52" width="20.50" height="5.25" fill="#073165"/>
<rect x="181.80" y="516.52" width="5" height="5.25" fill="#ffffff"/>
<rect x="131.80" y="521.26" width="5.50" height="5.25" fill="#7a0c1f"/>
<rect x="136.80" y="521.26" width="30.50" height="5.25" fill="#073165"/>
<rect x="166.80" y="521.26" width="5.50" height="5.25" fill="#3f89c5"/>
<rect x="171.80" y="521.26" width="5.50" height="5.25" fill="#8f8f8f"/>
<rect x="176.80" y="521.26" width="5.50" height="5.25" fill="#ffffff"/>
<rect x="181.80" y="521.26" width="5" height="5.25" fill="#073165"/>
<rect x="131.80" y="526.01" width="5.50" height="5.25" fill="#97c7e0"/>
<rect x="136.80" y="526.01" width="5.50" height="5.25" fill="#dc6a4f"/>
<rect x="141.80" y="526.01" width="10.50" height="5.25" fill="#073165"/>
<rect x="151.80" y="526.01" width="5.50" height="5.25" fill="#6eaed6"/>
<rect x="156.80" y="526.01" width="10.50" height="5.25" fill="#073165"/>
<rect x="166.80" y="526.01" width="5.50" height="5.25" fill="#8f8f8f"/>
<rect x="171.80" y="526.01" width="5.50" height="5.25" fill="#ffffff"/>
<rect x="176.80" y="526.01" width="5.50" height="5.25" fill="#8f8f8f"/>
<rect x="181.80" y="526.01" width="5" height="5.25" fill="#073165"/>
<rect x="131.80" y="530.75" width="35.50" height="4.75" fill="#073165"/>
<rect x="166.80" y="530.75" width="5.50" height="4.75" fill="#ffffff"/>
<rect x="171.80" y="530.75" width="5.50" height="4.75" fill="#8f8f8f"/>
<rect x="176.80" y="530.75" width="5.50" height="4.75" fill="#3f89c5"/>
<rect x="181.80" y="530.75" width="5" height="4.75" fill="#073165"/>
<line x1="156.80" y1="483.30" x2="156.80" y2="535.50" stroke="#000" stroke-width="0.85" stroke-dasharray="3.2,3.4" stroke-dashoffset="-1.5"/>
<line x1="161.80" y1="483.30" x2="161.80" y2="535.50" stroke="#000" stroke-width="0.85" stroke-dasharray="3.2,3.4" stroke-dashoffset="-1.5"/>
<line x1="131.80" y1="507.03" x2="187.30" y2="507.03" stroke="#000" stroke-width="0.85" stroke-dasharray="3.4,2.4"/>
<line x1="131.80" y1="511.77" x2="187.30" y2="511.77" stroke="#000" stroke-width="0.85" stroke-dasharray="3.4,2.4"/>
<rect x="131.80" y="483.30" width="55" height="52.20" fill="none" stroke="#231f20" stroke-width="0.7"/>
<text x="159.3" y="478.9" font-size="7.3" fill="#d0021b" text-anchor="middle" font-weight="bold" stroke="#d0021b" stroke-width="0.2">Subcutaneous adipose</text>
<text x="194.2" y="477.8" font-size="7.3" fill="#231f20" text-anchor="end" stroke="#231f20" stroke-width="0.2" transform="rotate(-90 194.15 477.80)">5.21 Mb</text>
<text x="194.2" y="509.7" font-size="7.3" fill="#e8262d" text-anchor="middle" stroke="#e8262d" stroke-width="0.2" transform="rotate(-90 194.15 509.70)">E</text>
<text x="194.2" y="535.5" font-size="7.3" fill="#231f20" stroke="#231f20" stroke-width="0.2" transform="rotate(-90 194.15 535.50)">5.1</text>
<use href="#s0" transform="matrix(0,1,1,0,196.10,483.30)"/>
<use href="#s1" transform="matrix(0,1,1,0,208.10,483.30)"/>
<rect x="196.20" y="536" width="10.70" height="2.40" fill="#b3abab"/>
<rect x="208.40" y="536" width="10.20" height="2.40" fill="#b3abab"/>
<line x1="195.60" y1="507.03" x2="218.70" y2="507.03" stroke="#000" stroke-width="0.6" stroke-dasharray="2.8,1.8" stroke-opacity="0.8"/>
<line x1="218.50" y1="507.03" x2="222.40" y2="507.03" stroke="#231f20" stroke-width="0.8"/>
<line x1="195.60" y1="511.77" x2="218.70" y2="511.77" stroke="#000" stroke-width="0.6" stroke-dasharray="2.8,1.8" stroke-opacity="0.8"/>
<line x1="218.50" y1="511.77" x2="222.40" y2="511.77" stroke="#231f20" stroke-width="0.8"/>
<text transform="translate(201.30,549.30) rotate(-90)" font-size="7.3" fill="#231f20" stroke="#231f20" stroke-width="0.2"><tspan font-style="italic" font-size="7.8">F</tspan><tspan font-size="3.8" dy="2.2" fill="#777" stroke="#777" stroke-width="0.1">ST</tspan></text>
<text transform="translate(214.90,560.80) rotate(-90)" font-size="7.3" fill="#231f20" stroke="#231f20" stroke-width="0.2"><tspan font-style="italic" font-size="7.0">θ</tspan><tspan font-size="3.6" dy="1.8">π</tspan><tspan dy="-1.8" dx="0.5">ratio</tspan></text>
<text x="126.8" y="542.3" font-size="7.3" fill="#231f20" stroke="#231f20" stroke-width="0.2">5.17</text>
<text x="159.8" y="542.3" font-size="7.3" fill="#e8262d" text-anchor="middle" stroke="#e8262d" stroke-width="0.2">P</text>
<text x="193.6" y="542.3" font-size="7.3" fill="#231f20" text-anchor="end" stroke="#231f20" stroke-width="0.2">5.28 Mb</text>
<use href="#s2" transform="translate(131.80,543.80)"/>
<use href="#s3" transform="translate(131.80,555.50)"/>
<rect x="130.30" y="543.80" width="1.40" height="23" fill="#b3abab"/>
<line x1="156.80" y1="543.80" x2="156.80" y2="576.80" stroke="#000" stroke-width="0.7" stroke-dasharray="2.8,1.8"/>
<line x1="161.80" y1="543.80" x2="161.80" y2="576.80" stroke="#000" stroke-width="0.7" stroke-dasharray="2.8,1.8"/>
<line x1="142.60" y1="574.10" x2="156.80" y2="574.10" stroke="#231f20" stroke-width="0.8"/>
<circle cx="143.80" cy="574.10" r="0.8" fill="#231f20"/>
<circle cx="145.60" cy="574.10" r="0.8" fill="#231f20"/>
<circle cx="147.40" cy="574.10" r="0.8" fill="#231f20"/>
<circle cx="149.20" cy="574.10" r="0.8" fill="#231f20"/>
<line x1="156.80" y1="572.50" x2="156.80" y2="575.70" stroke="#231f20" stroke-width="0.6"/>
<line x1="158.50" y1="571.50" x2="179.10" y2="571.50" stroke="#555" stroke-width="0.8"/>
<line x1="179.10" y1="570.30" x2="179.10" y2="572.70" stroke="#231f20" stroke-width="0.6"/>
<line x1="161.80" y1="570.30" x2="161.80" y2="572.70" stroke="#231f20" stroke-width="0.6"/>
<text x="163.4" y="579.4" font-size="7.3" fill="#ee2a2f" font-style="italic" stroke="#ee2a2f" stroke-width="0.2">USP10</text>
<rect x="233.10" y="483.30" width="15.50" height="5.25" fill="#073165"/>
<rect x="248.10" y="483.30" width="5.50" height="5.25" fill="#ffffff"/>
<rect x="253.10" y="483.30" width="35" height="5.25" fill="#073165"/>
<rect x="233.10" y="488.05" width="5.50" height="5.25" fill="#073165"/>
<rect x="238.10" y="488.05" width="5.50" height="5.25" fill="#164c8c"/>
<rect x="243.10" y="488.05" width="5.50" height="5.25" fill="#ffffff"/>
<rect x="248.10" y="488.05" width="40" height="5.25" fill="#073165"/>
<rect x="233.10" y="492.79" width="5.50" height="5.25" fill="#3f89c5"/>
<rect x="238.10" y="492.79" width="5.50" height="5.25" fill="#ffffff"/>
<rect x="243.10" y="492.79" width="30.50" height="5.25" fill="#073165"/>
<rect x="273.10" y="492.79" width="5.50" height="5.25" fill="#164c8c"/>
<rect x="278.10" y="492.79" width="5.50" height="5.25" fill="#073165"/>
<rect x="283.10" y="492.79" width="5" height="5.25" fill="#97c7e0"/>
<rect x="233.10" y="497.54" width="5.50" height="5.25" fill="#ffffff"/>
<rect x="238.10" y="497.54" width="5.50" height="5.25" fill="#3f89c5"/>
<rect x="243.10" y="497.54" width="35.50" height="5.25" fill="#073165"/>
<rect x="278.10" y="497.54" width="5.50" height="5.25" fill="#164c8c"/>
<rect x="283.10" y="497.54" width="5" height="5.25" fill="#073165"/>
<rect x="233.10" y="502.28" width="5.50" height="5.25" fill="#073165"/>
<rect x="238.10" y="502.28" width="5.50" height="5.25" fill="#2f6fb2"/>
<rect x="243.10" y="502.28" width="5.50" height="5.25" fill="#164c8c"/>
<rect x="248.10" y="502.28" width="10.50" height="5.25" fill="#073165"/>
<rect x="258.10" y="502.28" width="5.50" height="5.25" fill="#ffffff"/>
<rect x="263.10" y="502.28" width="20.50" height="5.25" fill="#073165"/>
<rect x="283.10" y="502.28" width="5" height="5.25" fill="#164c8c"/>
<rect x="233.10" y="507.03" width="10.50" height="5.25" fill="#073165"/>
<rect x="243.10" y="507.03" width="5.50" height="5.25" fill="#dc6a4f"/>
<rect x="248.10" y="507.03" width="5.50" height="5.25" fill="#d2e5f0"/>
<rect x="253.10" y="507.03" width="5.50" height="5.25" fill="#97c7e0"/>
<rect x="258.10" y="507.03" width="5.50" height="5.25" fill="#d2e5f0"/>
<rect x="263.10" y="507.03" width="5.50" height="5.25" fill="#8f8f8f"/>
<rect x="268.10" y="507.03" width="5.50" height="5.25" fill="#dc6a4f"/>
<rect x="273.10" y="507.03" width="15" height="5.25" fill="#073165"/>
<rect x="233.10" y="511.77" width="5.50" height="5.25" fill="#073165"/>
<rect x="238.10" y="511.77" width="5.50" height="5.25" fill="#d2e5f0"/>
<rect x="243.10" y="511.77" width="5.50" height="5.25" fill="#3f89c5"/>
<rect x="248.10" y="511.77" width="5.50" height="5.25" fill="#8f8f8f"/>
<rect x="253.10" y="511.77" width="5.50" height="5.25" fill="#073165"/>
<rect x="258.10" y="511.77" width="5.50" height="5.25" fill="#f2a17f"/>
<rect x="263.10" y="511.77" width="5.50" height="5.25" fill="#fbd2bd"/>
<rect x="268.10" y="511.77" width="5.50" height="5.25" fill="#3f89c5"/>
<rect x="273.10" y="511.77" width="10.50" height="5.25" fill="#073165"/>
<rect x="283.10" y="511.77" width="5" height="5.25" fill="#2f6fb2"/>
<rect x="233.10" y="516.52" width="10.50" height="5.25" fill="#fbd2bd"/>
<rect x="243.10" y="516.52" width="5.50" height="5.25" fill="#073165"/>
<rect x="248.10" y="516.52" width="5.50" height="5.25" fill="#d2e5f0"/>
<rect x="253.10" y="516.52" width="10.50" height="5.25" fill="#073165"/>
<rect x="263.10" y="516.52" width="5.50" height="5.25" fill="#97c7e0"/>
<rect x="268.10" y="516.52" width="10.50" height="5.25" fill="#073165"/>
<rect x="278.10" y="516.52" width="5.50" height="5.25" fill="#dc6a4f"/>
<rect x="283.10" y="516.52" width="5" height="5.25" fill="#ffffff"/>
<rect x="233.10" y="521.26" width="5.50" height="5.25" fill="#073165"/>
<rect x="238.10" y="521.26" width="5.50" height="5.25" fill="#7a0c1f"/>
<rect x="243.10" y="521.26" width="5.50" height="5.25" fill="#2f6fb2"/>
<rect x="248.10" y="521.26" width="5.50" height="5.25" fill="#073165"/>
<rect x="253.10" y="521.26" width="5.50" height="5.25" fill="#fbd2bd"/>
<rect x="258.10" y="521.26" width="15.50" height="5.25" fill="#073165"/>
<rect x="273.10" y="521.26" width="5.50" height="5.25" fill="#8f8f8f"/>
<rect x="278.10" y="521.26" width="5.50" height="5.25" fill="#ffffff"/>
<rect x="283.10" y="521.26" width="5" height="5.25" fill="#dc6a4f"/>
<rect x="233.10" y="526.01" width="5.50" height="5.25" fill="#d2e5f0"/>
<rect x="238.10" y="526.01" width="5.50" height="5.25" fill="#fbd2bd"/>
<rect x="243.10" y="526.01" width="5.50" height="5.25" fill="#d2e5f0"/>
<rect x="248.10" y="526.01" width="5.50" height="5.25" fill="#073165"/>
<rect x="253.10" y="526.01" width="5.50" height="5.25" fill="#2f6fb2"/>
<rect x="258.10" y="526.01" width="10.50" height="5.25" fill="#073165"/>
<rect x="268.10" y="526.01" width="5.50" height="5.25" fill="#8f8f8f"/>
<rect x="273.10" y="526.01" width="5.50" height="5.25" fill="#ffffff"/>
<rect x="278.10" y="526.01" width="5.50" height="5.25" fill="#8f8f8f"/>
<rect x="283.10" y="526.01" width="5" height="5.25" fill="#073165"/>
<rect x="233.10" y="530.75" width="5.50" height="4.75" fill="#073165"/>
<rect x="238.10" y="530.75" width="5.50" height="4.75" fill="#d2e5f0"/>
<rect x="243.10" y="530.75" width="15.50" height="4.75" fill="#073165"/>
<rect x="258.10" y="530.75" width="5.50" height="4.75" fill="#fbd2bd"/>
<rect x="263.10" y="530.75" width="5.50" height="4.75" fill="#8f8f8f"/>
<rect x="268.10" y="530.75" width="5.50" height="4.75" fill="#ffffff"/>
<rect x="273.10" y="530.75" width="5.50" height="4.75" fill="#8f8f8f"/>
<rect x="278.10" y="530.75" width="10" height="4.75" fill="#073165"/>
<line x1="258.10" y1="483.30" x2="258.10" y2="535.50" stroke="#000" stroke-width="0.85" stroke-dasharray="3.2,3.4" stroke-dashoffset="-1.5"/>
<line x1="263.10" y1="483.30" x2="263.10" y2="535.50" stroke="#000" stroke-width="0.85" stroke-dasharray="3.2,3.4" stroke-dashoffset="-1.5"/>
<line x1="233.10" y1="507.03" x2="288.60" y2="507.03" stroke="#000" stroke-width="0.85" stroke-dasharray="3.4,2.4"/>
<line x1="233.10" y1="511.77" x2="288.60" y2="511.77" stroke="#000" stroke-width="0.85" stroke-dasharray="3.4,2.4"/>
<rect x="233.10" y="483.30" width="55" height="52.20" fill="none" stroke="#231f20" stroke-width="0.7"/>
<text x="260.6" y="478.9" font-size="7.3" fill="#6b5a45" text-anchor="middle" font-weight="bold" stroke="#6b5a45" stroke-width="0.2">Visceral adipose</text>
<text x="295.6" y="477.8" font-size="7.3" fill="#231f20" text-anchor="end" stroke="#231f20" stroke-width="0.2" transform="rotate(-90 295.65 477.80)">5.21 Mb</text>
<text x="295.6" y="509.7" font-size="7.3" fill="#e8262d" text-anchor="middle" stroke="#e8262d" stroke-width="0.2" transform="rotate(-90 295.65 509.70)">E</text>
<text x="295.6" y="535.5" font-size="7.3" fill="#231f20" stroke="#231f20" stroke-width="0.2" transform="rotate(-90 295.65 535.50)">5.1</text>
<use href="#s0" transform="matrix(0,1,1,0,297.30,483.30)"/>
<use href="#s1" transform="matrix(0,1,1,0,309.30,483.30)"/>
<rect x="297.40" y="536" width="10.70" height="2.40" fill="#b3abab"/>
<rect x="309.60" y="536" width="10.20" height="2.40" fill="#b3abab"/>
<line x1="296.80" y1="507.03" x2="319.90" y2="507.03" stroke="#000" stroke-width="0.6" stroke-dasharray="2.8,1.8" stroke-opacity="0.8"/>
<line x1="319.70" y1="507.03" x2="323.60" y2="507.03" stroke="#231f20" stroke-width="0.8"/>
<line x1="296.80" y1="511.77" x2="319.90" y2="511.77" stroke="#000" stroke-width="0.6" stroke-dasharray="2.8,1.8" stroke-opacity="0.8"/>
<line x1="319.70" y1="511.77" x2="323.60" y2="511.77" stroke="#231f20" stroke-width="0.8"/>
<text transform="translate(302.50,549.30) rotate(-90)" font-size="7.3" fill="#231f20" stroke="#231f20" stroke-width="0.2"><tspan font-style="italic" font-size="7.8">F</tspan><tspan font-size="3.8" dy="2.2" fill="#777" stroke="#777" stroke-width="0.1">ST</tspan></text>
<text transform="translate(316.10,560.80) rotate(-90)" font-size="7.3" fill="#231f20" stroke="#231f20" stroke-width="0.2"><tspan font-style="italic" font-size="7.0">θ</tspan><tspan font-size="3.6" dy="1.8">π</tspan><tspan dy="-1.8" dx="0.5">ratio</tspan></text>
<text x="228.1" y="542.3" font-size="7.3" fill="#231f20" stroke="#231f20" stroke-width="0.2">5.17</text>
<text x="261.1" y="542.3" font-size="7.3" fill="#e8262d" text-anchor="middle" stroke="#e8262d" stroke-width="0.2">P</text>
<text x="294.9" y="542.3" font-size="7.3" fill="#231f20" text-anchor="end" stroke="#231f20" stroke-width="0.2">5.28 Mb</text>
<use href="#s2" transform="translate(233.10,543.80)"/>
<use href="#s3" transform="translate(233.10,555.50)"/>
<rect x="231.60" y="543.80" width="1.40" height="23" fill="#b3abab"/>
<line x1="258.10" y1="543.80" x2="258.10" y2="576.80" stroke="#000" stroke-width="0.7" stroke-dasharray="2.8,1.8"/>
<line x1="263.10" y1="543.80" x2="263.10" y2="576.80" stroke="#000" stroke-width="0.7" stroke-dasharray="2.8,1.8"/>
<line x1="243.90" y1="574.10" x2="258.10" y2="574.10" stroke="#231f20" stroke-width="0.8"/>
<circle cx="245.10" cy="574.10" r="0.8" fill="#231f20"/>
<circle cx="246.90" cy="574.10" r="0.8" fill="#231f20"/>
<circle cx="248.70" cy="574.10" r="0.8" fill="#231f20"/>
<circle cx="250.50" cy="574.10" r="0.8" fill="#231f20"/>
<line x1="258.10" y1="572.50" x2="258.10" y2="575.70" stroke="#231f20" stroke-width="0.6"/>
<line x1="259.80" y1="571.50" x2="280.40" y2="571.50" stroke="#555" stroke-width="0.8"/>
<line x1="280.40" y1="570.30" x2="280.40" y2="572.70" stroke="#231f20" stroke-width="0.6"/>
<line x1="263.10" y1="570.30" x2="263.10" y2="572.70" stroke="#231f20" stroke-width="0.6"/>
<text x="266.8" y="579.4" font-size="7.3" fill="#ee2a2f" font-style="italic" stroke="#ee2a2f" stroke-width="0.2">USP10</text>
<text x="369.5" y="222.7" font-size="12.5" fill="#231f20" stroke="#231f20" stroke-width="0.2">d</text>
<rect x="493.70" y="216.2" width="39.4" height="2.4" fill="url(#cbar)" stroke="#2a1a1a" stroke-width="0.6"/>
<text x="494.3" y="225.0" font-size="7.3" fill="#231f20" text-anchor="middle" stroke="#231f20" stroke-width="0.2">Min</text>
<text x="531.1" y="225.0" font-size="7.3" fill="#231f20" text-anchor="middle" stroke="#231f20" stroke-width="0.2">Max</text>
<text x="563.90" y="219.0" font-size="7.3" fill="#231f20" stroke="#231f20" stroke-width="0.2" text-anchor="end"><tspan font-style="italic" font-size="7.8">F</tspan><tspan font-size="3.8" dy="2.2" fill="#777" stroke="#777" stroke-width="0.1">ST</tspan></text>
<text x="563.90" y="227.4" font-size="7.3" fill="#231f20" stroke="#231f20" stroke-width="0.2" text-anchor="end"><tspan font-style="italic" font-size="7.0">θ</tspan><tspan font-size="3.6" dy="1.8">π</tspan><tspan dy="-1.8" dx="0.5">ratio</tspan></text>
<line x1="565.90" y1="212.50" x2="565.90" y2="229.50" stroke="#231f20" stroke-width="0.7"/>
<rect x="568.90" y="215.30" width="8.40" height="4.60" fill="#e6e6e6" stroke="#231f20" stroke-width="1.0"/>
<rect x="568.50" y="222.70" width="9.20" height="5.40" fill="#c8c8c8"/>
<text x="579.3" y="219.4" font-size="7.3" fill="#231f20" stroke="#231f20" stroke-width="0.2">Qinling vs. Minshan</text>
<text x="579.3" y="228.1" font-size="7.3" fill="#231f20" stroke="#231f20" stroke-width="0.2">Qionglai vs. Minshan</text>
<line x1="385.60" y1="231" x2="644" y2="231" stroke="#8c8c8c" stroke-width="1.0"/>
<rect x="364.7" y="246.3" width="3.3" height="39.1" fill="url(#vbar)" stroke="#231f20" stroke-width="0.3"/>
<text x="375.2" y="248.2" font-size="7.3" fill="#231f20" text-anchor="middle" stroke="#231f20" stroke-width="0.2" transform="rotate(-90 375.20 248.20)">Max</text>
<text x="375.2" y="284.8" font-size="7.3" fill="#231f20" text-anchor="middle" stroke="#231f20" stroke-width="0.2" transform="rotate(-90 375.20 284.80)">Min</text>
<rect x="385.50" y="242.80" width="55" height="5.25" fill="#073165"/>
<rect x="385.50" y="247.55" width="55" height="5.25" fill="#073165"/>
<rect x="385.50" y="252.29" width="5.50" height="5.25" fill="#fbd2bd"/>
<rect x="390.50" y="252.29" width="5.50" height="5.25" fill="#d2e5f0"/>
<rect x="395.50" y="252.29" width="5.50" height="5.25" fill="#fbd2bd"/>
<rect x="400.50" y="252.29" width="5.50" height="5.25" fill="#3f89c5"/>
<rect x="405.50" y="252.29" width="5.50" height="5.25" fill="#f2a17f"/>
<rect x="410.50" y="252.29" width="5.50" height="5.25" fill="#d2e5f0"/>
<rect x="415.50" y="252.29" width="5.50" height="5.25" fill="#f2a17f"/>
<rect x="420.50" y="252.29" width="5.50" height="5.25" fill="#97c7e0"/>
<rect x="425.50" y="252.29" width="10.50" height="5.25" fill="#fbd2bd"/>
<rect x="435.50" y="252.29" width="5" height="5.25" fill="#d2e5f0"/>
<rect x="385.50" y="257.04" width="5.50" height="5.25" fill="#97c7e0"/>
<rect x="390.50" y="257.04" width="5.50" height="5.25" fill="#dc6a4f"/>
<rect x="395.50" y="257.04" width="5.50" height="5.25" fill="#f4f2f1"/>
<rect x="400.50" y="257.04" width="10.50" height="5.25" fill="#3f89c5"/>
<rect x="410.50" y="257.04" width="10.50" height="5.25" fill="#97c7e0"/>
<rect x="420.50" y="257.04" width="5.50" height="5.25" fill="#f4f2f1"/>
<rect x="425.50" y="257.04" width="5.50" height="5.25" fill="#fbd2bd"/>
<rect x="430.50" y="257.04" width="10" height="5.25" fill="#d2e5f0"/>
<rect x="385.50" y="261.78" width="5.50" height="5.25" fill="#fbd2bd"/>
<rect x="390.50" y="261.78" width="5.50" height="5.25" fill="#d2e5f0"/>
<rect x="395.50" y="261.78" width="5.50" height="5.25" fill="#97c7e0"/>
<rect x="400.50" y="261.78" width="5.50" height="5.25" fill="#dc6a4f"/>
<rect x="405.50" y="261.78" width="5.50" height="5.25" fill="#f4f2f1"/>
<rect x="410.50" y="261.78" width="5.50" height="5.25" fill="#8f8f8f"/>
<rect x="415.50" y="261.78" width="5.50" height="5.25" fill="#97c7e0"/>
<rect x="420.50" y="261.78" width="5.50" height="5.25" fill="#dc6a4f"/>
<rect x="425.50" y="261.78" width="5.50" height="5.25" fill="#8f8f8f"/>
<rect x="430.50" y="261.78" width="10" height="5.25" fill="#dc6a4f"/>
<rect x="385.50" y="266.53" width="5.50" height="5.25" fill="#d2e5f0"/>
<rect x="390.50" y="266.53" width="10.50" height="5.25" fill="#97c7e0"/>
<rect x="400.50" y="266.53" width="10.50" height="5.25" fill="#3f89c5"/>
<rect x="410.50" y="266.53" width="5.50" height="5.25" fill="#2f6fb2"/>
<rect x="415.50" y="266.53" width="5.50" height="5.25" fill="#97c7e0"/>
<rect x="420.50" y="266.53" width="15.50" height="5.25" fill="#8f8f8f"/>
<rect x="435.50" y="266.53" width="5" height="5.25" fill="#f4f2f1"/>
<rect x="385.50" y="271.27" width="5.50" height="5.25" fill="#2f6fb2"/>
<rect x="390.50" y="271.27" width="5.50" height="5.25" fill="#f4f2f1"/>
<rect x="395.50" y="271.27" width="5.50" height="5.25" fill="#073165"/>
<rect x="400.50" y="271.27" width="5.50" height="5.25" fill="#97c7e0"/>
<rect x="405.50" y="271.27" width="5.50" height="5.25" fill="#164c8c"/>
<rect x="410.50" y="271.27" width="5.50" height="5.25" fill="#f4f2f1"/>
<rect x="415.50" y="271.27" width="5.50" height="5.25" fill="#d2e5f0"/>
<rect x="420.50" y="271.27" width="5.50" height="5.25" fill="#f2a17f"/>
<rect x="425.50" y="271.27" width="5.50" height="5.25" fill="#ab1429"/>
<rect x="430.50" y="271.27" width="5.50" height="5.25" fill="#dc6a4f"/>
<rect x="435.50" y="271.27" width="5" height="5.25" fill="#97c7e0"/>
<rect x="385.50" y="276.02" width="5.50" height="5.25" fill="#97c7e0"/>
<rect x="390.50" y="276.02" width="10.50" height="5.25" fill="#3f89c5"/>
<rect x="400.50" y="276.02" width="5.50" height="5.25" fill="#fbd2bd"/>
<rect x="405.50" y="276.02" width="5.50" height="5.25" fill="#164c8c"/>
<rect x="410.50" y="276.02" width="5.50" height="5.25" fill="#97c7e0"/>
<rect x="415.50" y="276.02" width="5.50" height="5.25" fill="#d2e5f0"/>
<rect x="420.50" y="276.02" width="5.50" height="5.25" fill="#073165"/>
<rect x="425.50" y="276.02" width="5.50" height="5.25" fill="#d2e5f0"/>
<rect x="430.50" y="276.02" width="10" height="5.25" fill="#073165"/>
<rect x="385.50" y="280.76" width="10.50" height="5.25" fill="#073165"/>
<rect x="395.50" y="280.76" width="5.50" height="5.25" fill="#fbd2bd"/>
<rect x="400.50" y="280.76" width="5.50" height="5.25" fill="#d2e5f0"/>
<rect x="405.50" y="280.76" width="5.50" height="5.25" fill="#3f89c5"/>
<rect x="410.50" y="280.76" width="5.50" height="5.25" fill="#d2e5f0"/>
<rect x="415.50" y="280.76" width="5.50" height="5.25" fill="#f4f2f1"/>
<rect x="420.50" y="280.76" width="10.50" height="5.25" fill="#d2e5f0"/>
<rect x="430.50" y="280.76" width="5.50" height="5.25" fill="#3f89c5"/>
<rect x="435.50" y="280.76" width="5" height="5.25" fill="#97c7e0"/>
<rect x="385.50" y="285.51" width="5.50" height="5.25" fill="#073165"/>
<rect x="390.50" y="285.51" width="5.50" height="5.25" fill="#164c8c"/>
<rect x="395.50" y="285.51" width="5.50" height="5.25" fill="#073165"/>
<rect x="400.50" y="285.51" width="5.50" height="5.25" fill="#f4f2f1"/>
<rect x="405.50" y="285.51" width="5.50" height="5.25" fill="#97c7e0"/>
<rect x="410.50" y="285.51" width="5.50" height="5.25" fill="#2f6fb2"/>
<rect x="415.50" y="285.51" width="5.50" height="5.25" fill="#fbd2bd"/>
<rect x="420.50" y="285.51" width="10.50" height="5.25" fill="#d2e5f0"/>
<rect x="430.50" y="285.51" width="5.50" height="5.25" fill="#fbd2bd"/>
<rect x="435.50" y="285.51" width="5" height="5.25" fill="#3f89c5"/>
<rect x="385.50" y="290.25" width="5.50" height="4.75" fill="#97c7e0"/>
<rect x="390.50" y="290.25" width="5.50" height="4.75" fill="#f2a17f"/>
<rect x="395.50" y="290.25" width="5.50" height="4.75" fill="#3f89c5"/>
<rect x="400.50" y="290.25" width="5.50" height="4.75" fill="#164c8c"/>
<rect x="405.50" y="290.25" width="5.50" height="4.75" fill="#073165"/>
<rect x="410.50" y="290.25" width="5.50" height="4.75" fill="#3f89c5"/>
<rect x="415.50" y="290.25" width="10.50" height="4.75" fill="#97c7e0"/>
<rect x="425.50" y="290.25" width="5.50" height="4.75" fill="#dc6a4f"/>
<rect x="430.50" y="290.25" width="5.50" height="4.75" fill="#7a0c1f"/>
<rect x="435.50" y="290.25" width="5" height="4.75" fill="#f2a17f"/>
<line x1="410.50" y1="242.80" x2="410.50" y2="295" stroke="#000" stroke-width="0.85" stroke-dasharray="3.2,3.4" stroke-dashoffset="-1.5"/>
<line x1="415.50" y1="242.80" x2="415.50" y2="295" stroke="#000" stroke-width="0.85" stroke-dasharray="3.2,3.4" stroke-dashoffset="-1.5"/>
<line x1="385.50" y1="266.53" x2="441" y2="266.53" stroke="#000" stroke-width="0.85" stroke-dasharray="3.4,2.4"/>
<line x1="385.50" y1="271.27" x2="441" y2="271.27" stroke="#000" stroke-width="0.85" stroke-dasharray="3.4,2.4"/>
<rect x="385.50" y="242.80" width="55" height="52.20" fill="none" stroke="#231f20" stroke-width="0.7"/>
<text x="413.0" y="238.4" font-size="7.3" fill="#d9493a" text-anchor="middle" font-weight="bold" stroke="#d9493a" stroke-width="0.2">Heart</text>
<text x="447.8" y="237.3" font-size="7.3" fill="#231f20" text-anchor="end" stroke="#231f20" stroke-width="0.2" transform="rotate(-90 447.85 237.30)">2.94 Mb</text>
<text x="447.8" y="269.2" font-size="7.3" fill="#e8262d" text-anchor="middle" stroke="#e8262d" stroke-width="0.2" transform="rotate(-90 447.85 269.20)">E</text>
<text x="447.8" y="295.0" font-size="7.3" fill="#231f20" stroke="#231f20" stroke-width="0.2" transform="rotate(-90 447.85 295.00)">2.83</text>
<use href="#s4" transform="matrix(0,1,1,0,449.80,242.80)"/>
<use href="#s5" transform="matrix(0,1,1,0,461.60,242.80)"/>
<rect x="449.40" y="295.50" width="11.90" height="1.70" fill="#9c9292"/>
<rect x="462.30" y="295.50" width="10" height="1.70" fill="#9c9292"/>
<line x1="449.30" y1="266.53" x2="472.20" y2="266.53" stroke="#000" stroke-width="0.6" stroke-dasharray="2.8,1.8" stroke-opacity="0.8"/>
<line x1="472" y1="266.53" x2="475.90" y2="266.53" stroke="#231f20" stroke-width="0.8"/>
<line x1="449.30" y1="271.27" x2="472.20" y2="271.27" stroke="#000" stroke-width="0.6" stroke-dasharray="2.8,1.8" stroke-opacity="0.8"/>
<line x1="472" y1="271.27" x2="475.90" y2="271.27" stroke="#231f20" stroke-width="0.8"/>
<text transform="translate(455.00,308.80) rotate(-90)" font-size="7.3" fill="#231f20" stroke="#231f20" stroke-width="0.2"><tspan font-style="italic" font-size="7.8">F</tspan><tspan font-size="3.8" dy="2.2" fill="#777" stroke="#777" stroke-width="0.1">ST</tspan></text>
<text transform="translate(468.40,320.30) rotate(-90)" font-size="7.3" fill="#231f20" stroke="#231f20" stroke-width="0.2"><tspan font-style="italic" font-size="7.0">θ</tspan><tspan font-size="3.6" dy="1.8">π</tspan><tspan dy="-1.8" dx="0.5">ratio</tspan></text>
<text x="380.5" y="301.8" font-size="7.3" fill="#231f20" stroke="#231f20" stroke-width="0.2">3.09</text>
<text x="413.5" y="301.8" font-size="7.3" fill="#e8262d" text-anchor="middle" stroke="#e8262d" stroke-width="0.2">P</text>
<text x="445.9" y="301.8" font-size="7.3" fill="#231f20" text-anchor="end" stroke="#231f20" stroke-width="0.2">3.2 Mb</text>
<text x="376.9" y="301.8" font-size="7.3" fill="#231f20" text-anchor="end" stroke="#231f20" stroke-width="0.2">Chr.20</text>
<text x="379.80" y="311.10" font-size="7.3" fill="#231f20" stroke="#231f20" stroke-width="0.2" text-anchor="end"><tspan font-style="italic" font-size="7.8">F</tspan><tspan font-size="3.8" dy="2.2" fill="#777" stroke="#777" stroke-width="0.1">ST</tspan></text>
<text x="379.80" y="324.00" font-size="7.3" fill="#231f20" stroke="#231f20" stroke-width="0.2" text-anchor="end"><tspan font-style="italic" font-size="7.0">θ</tspan><tspan font-size="3.6" dy="1.8">π</tspan><tspan dy="-1.8" dx="0.5">ratio</tspan></text>
<use href="#s6" transform="translate(385.50,303.30)"/>
<use href="#s7" transform="translate(385.50,315.00)"/>
<rect x="384" y="303.30" width="1.40" height="23" fill="#9c9292"/>
<line x1="410.50" y1="303.30" x2="410.50" y2="336.30" stroke="#000" stroke-width="0.7" stroke-dasharray="2.8,1.8"/>
<line x1="415.50" y1="303.30" x2="415.50" y2="336.30" stroke="#000" stroke-width="0.7" stroke-dasharray="2.8,1.8"/>
<line x1="400.50" y1="328.30" x2="405" y2="328.30" stroke="#333" stroke-width="0.9"/>
<line x1="390" y1="330.80" x2="395" y2="330.80" stroke="#444" stroke-width="0.7" stroke-dasharray="0.8,1"/>
<line x1="395.20" y1="330.80" x2="400.70" y2="330.80" stroke="#222" stroke-width="1.0"/>
<line x1="406.70" y1="333.10" x2="411.50" y2="333.10" stroke="#e8262d" stroke-width="1.2"/>
<circle cx="389.20" cy="335.80" r="0.7" fill="#231f20"/>
<text x="414.3" y="342.6" font-size="7.3" fill="#ee2a2f" text-anchor="middle" font-style="italic" stroke="#ee2a2f" stroke-width="0.2">PARP2</text>
<rect x="486.50" y="242.80" width="55" height="5.25" fill="#073165"/>
<rect x="486.50" y="247.55" width="5.50" height="5.25" fill="#073165"/>
<rect x="491.50" y="247.55" width="5.50" height="5.25" fill="#8f8f8f"/>
<rect x="496.50" y="247.55" width="15.50" height="5.25" fill="#073165"/>
<rect x="511.50" y="247.55" width="5.50" height="5.25" fill="#8f8f8f"/>
<rect x="516.50" y="247.55" width="20.50" height="5.25" fill="#073165"/>
<rect x="536.50" y="247.55" width="5" height="5.25" fill="#8f8f8f"/>
<rect x="486.50" y="252.29" width="5.50" height="5.25" fill="#8f8f8f"/>
<rect x="491.50" y="252.29" width="5.50" height="5.25" fill="#f2a17f"/>
<rect x="496.50" y="252.29" width="10.50" height="5.25" fill="#fbd2bd"/>
<rect x="506.50" y="252.29" width="5.50" height="5.25" fill="#f2a17f"/>
<rect x="511.50" y="252.29" width="5.50" height="5.25" fill="#97c7e0"/>
<rect x="516.50" y="252.29" width="5.50" height="5.25" fill="#f4f2f1"/>
<rect x="521.50" y="252.29" width="5.50" height="5.25" fill="#fbd2bd"/>
<rect x="526.50" y="252.29" width="5.50" height="5.25" fill="#dc6a4f"/>
<rect x="531.50" y="252.29" width="5.50" height="5.25" fill="#d2e5f0"/>
<rect x="536.50" y="252.29" width="5" height="5.25" fill="#fbd2bd"/>
<rect x="486.50" y="257.04" width="10.50" height="5.25" fill="#d2e5f0"/>
<rect x="496.50" y="257.04" width="5.50" height="5.25" fill="#97c7e0"/>
<rect x="501.50" y="257.04" width="5.50" height="5.25" fill="#d2e5f0"/>
<rect x="506.50" y="257.04" width="5.50" height="5.25" fill="#073165"/>
<rect x="511.50" y="257.04" width="5.50" height="5.25" fill="#97c7e0"/>
<rect x="516.50" y="257.04" width="5.50" height="5.25" fill="#d2e5f0"/>
<rect x="521.50" y="257.04" width="5.50" height="5.25" fill="#97c7e0"/>
<rect x="526.50" y="257.04" width="5.50" height="5.25" fill="#f2a17f"/>
<rect x="531.50" y="257.04" width="5.50" height="5.25" fill="#97c7e0"/>
<rect x="536.50" y="257.04" width="5" height="5.25" fill="#3f89c5"/>
<rect x="486.50" y="261.78" width="5.50" height="5.25" fill="#fbd2bd"/>
<rect x="491.50" y="261.78" width="5.50" height="5.25" fill="#8f8f8f"/>
<rect x="496.50" y="261.78" width="5.50" height="5.25" fill="#fbd2bd"/>
<rect x="501.50" y="261.78" width="15.50" height="5.25" fill="#d2e5f0"/>
<rect x="516.50" y="261.78" width="5.50" height="5.25" fill="#ab1429"/>
<rect x="521.50" y="261.78" width="5.50" height="5.25" fill="#97c7e0"/>
<rect x="526.50" y="261.78" width="5.50" height="5.25" fill="#dc6a4f"/>
<rect x="531.50" y="261.78" width="5.50" height="5.25" fill="#8f8f8f"/>
<rect x="536.50" y="261.78" width="5" height="5.25" fill="#d2e5f0"/>
<rect x="486.50" y="266.53" width="5.50" height="5.25" fill="#dc6a4f"/>
<rect x="491.50" y="266.53" width="5.50" height="5.25" fill="#f2a17f"/>
<rect x="496.50" y="266.53" width="5.50" height="5.25" fill="#dc6a4f"/>
<rect x="501.50" y="266.53" width="5.50" height="5.25" fill="#fbd2bd"/>
<rect x="506.50" y="266.53" width="10.50" height="5.25" fill="#3f89c5"/>
<rect x="516.50" y="266.53" width="5.50" height="5.25" fill="#2f6fb2"/>
<rect x="521.50" y="266.53" width="5.50" height="5.25" fill="#f4f2f1"/>
<rect x="526.50" y="266.53" width="5.50" height="5.25" fill="#8f8f8f"/>
<rect x="531.50" y="266.53" width="5.50" height="5.25" fill="#f2a17f"/>
<rect x="536.50" y="266.53" width="5" height="5.25" fill="#073165"/>
<rect x="486.50" y="271.27" width="5.50" height="5.25" fill="#3f89c5"/>
<rect x="491.50" y="271.27" width="5.50" height="5.25" fill="#d2e5f0"/>
<rect x="496.50" y="271.27" width="5.50" height="5.25" fill="#fbd2bd"/>
<rect x="501.50" y="271.27" width="5.50" height="5.25" fill="#3f89c5"/>
<rect x="506.50" y="271.27" width="5.50" height="5.25" fill="#073165"/>
<rect x="511.50" y="271.27" width="5.50" height="5.25" fill="#d2e5f0"/>
<rect x="516.50" y="271.27" width="5.50" height="5.25" fill="#2f6fb2"/>
<rect x="521.50" y="271.27" width="5.50" height="5.25" fill="#97c7e0"/>
<rect x="526.50" y="271.27" width="5.50" height="5.25" fill="#8f8f8f"/>
<rect x="531.50" y="271.27" width="5.50" height="5.25" fill="#d2e5f0"/>
<rect x="536.50" y="271.27" width="5" height="5.25" fill="#f4f2f1"/>
<rect x="486.50" y="276.02" width="10.50" height="5.25" fill="#073165"/>
<rect x="496.50" y="276.02" width="5.50" height="5.25" fill="#3f89c5"/>
<rect x="501.50" y="276.02" width="5.50" height="5.25" fill="#164c8c"/>
<rect x="506.50" y="276.02" width="5.50" height="5.25" fill="#3f89c5"/>
<rect x="511.50" y="276.02" width="5.50" height="5.25" fill="#073165"/>
<rect x="516.50" y="276.02" width="5.50" height="5.25" fill="#2f6fb2"/>
<rect x="521.50" y="276.02" width="5.50" height="5.25" fill="#d2e5f0"/>
<rect x="526.50" y="276.02" width="10.50" height="5.25" fill="#073165"/>
<rect x="536.50" y="276.02" width="5" height="5.25" fill="#f4f2f1"/>
<rect x="486.50" y="280.76" width="5.50" height="5.25" fill="#3f89c5"/>
<rect x="491.50" y="280.76" width="5.50" height="5.25" fill="#2f6fb2"/>
<rect x="496.50" y="280.76" width="5.50" height="5.25" fill="#073165"/>
<rect x="501.50" y="280.76" width="5.50" height="5.25" fill="#d2e5f0"/>
<rect x="506.50" y="280.76" width="10.50" height="5.25" fill="#073165"/>
<rect x="516.50" y="280.76" width="5.50" height="5.25" fill="#2f6fb2"/>
<rect x="521.50" y="280.76" width="5.50" height="5.25" fill="#d2e5f0"/>
<rect x="526.50" y="280.76" width="5.50" height="5.25" fill="#2f6fb2"/>
<rect x="531.50" y="280.76" width="5.50" height="5.25" fill="#073165"/>
<rect x="536.50" y="280.76" width="5" height="5.25" fill="#97c7e0"/>
<rect x="486.50" y="285.51" width="5.50" height="5.25" fill="#073165"/>
<rect x="491.50" y="285.51" width="5.50" height="5.25" fill="#164c8c"/>
<rect x="496.50" y="285.51" width="5.50" height="5.25" fill="#3f89c5"/>
<rect x="501.50" y="285.51" width="5.50" height="5.25" fill="#7a0c1f"/>
<rect x="506.50" y="285.51" width="5.50" height="5.25" fill="#3f89c5"/>
<rect x="511.50" y="285.51" width="5.50" height="5.25" fill="#073165"/>
<rect x="516.50" y="285.51" width="5.50" height="5.25" fill="#97c7e0"/>
<rect x="521.50" y="285.51" width="5.50" height="5.25" fill="#073165"/>
<rect x="526.50" y="285.51" width="5.50" height="5.25" fill="#d2e5f0"/>
<rect x="531.50" y="285.51" width="5.50" height="5.25" fill="#073165"/>
<rect x="536.50" y="285.51" width="5" height="5.25" fill="#97c7e0"/>
<rect x="486.50" y="290.25" width="5.50" height="4.75" fill="#f4f2f1"/>
<rect x="491.50" y="290.25" width="10.50" height="4.75" fill="#d2e5f0"/>
<rect x="501.50" y="290.25" width="10.50" height="4.75" fill="#073165"/>
<rect x="511.50" y="290.25" width="10.50" height="4.75" fill="#3f89c5"/>
<rect x="521.50" y="290.25" width="5.50" height="4.75" fill="#97c7e0"/>
<rect x="526.50" y="290.25" width="5.50" height="4.75" fill="#f2a17f"/>
<rect x="531.50" y="290.25" width="5.50" height="4.75" fill="#97c7e0"/>
<rect x="536.50" y="290.25" width="5" height="4.75" fill="#f4f2f1"/>
<line x1="511.50" y1="242.80" x2="511.50" y2="295" stroke="#000" stroke-width="0.85" stroke-dasharray="3.2,3.4" stroke-dashoffset="-1.5"/>
<line x1="516.50" y1="242.80" x2="516.50" y2="295" stroke="#000" stroke-width="0.85" stroke-dasharray="3.2,3.4" stroke-dashoffset="-1.5"/>
<line x1="486.50" y1="266.53" x2="542" y2="266.53" stroke="#000" stroke-width="0.85" stroke-dasharray="3.4,2.4"/>
<line x1="486.50" y1="271.27" x2="542" y2="271.27" stroke="#000" stroke-width="0.85" stroke-dasharray="3.4,2.4"/>
<rect x="486.50" y="242.80" width="55" height="52.20" fill="none" stroke="#231f20" stroke-width="0.7"/>
<text x="514.0" y="238.4" font-size="7.3" fill="#5ab4d6" text-anchor="middle" font-weight="bold" stroke="#5ab4d6" stroke-width="0.2">Kidney</text>
<text x="548.1" y="237.3" font-size="7.3" fill="#231f20" text-anchor="end" stroke="#231f20" stroke-width="0.2" transform="rotate(-90 548.15 237.30)">2.94 Mb</text>
<text x="548.1" y="269.2" font-size="7.3" fill="#e8262d" text-anchor="middle" stroke="#e8262d" stroke-width="0.2" transform="rotate(-90 548.15 269.20)">E</text>
<text x="548.1" y="295.0" font-size="7.3" fill="#231f20" stroke="#231f20" stroke-width="0.2" transform="rotate(-90 548.15 295.00)">2.83</text>
<use href="#s4" transform="matrix(0,1,1,0,550.50,242.80)"/>
<use href="#s5" transform="matrix(0,1,1,0,562.30,242.80)"/>
<rect x="550.10" y="295.50" width="11.90" height="1.70" fill="#9c9292"/>
<rect x="563" y="295.50" width="10" height="1.70" fill="#9c9292"/>
<line x1="550" y1="266.53" x2="572.90" y2="266.53" stroke="#000" stroke-width="0.6" stroke-dasharray="2.8,1.8" stroke-opacity="0.8"/>
<line x1="572.70" y1="266.53" x2="576.60" y2="266.53" stroke="#231f20" stroke-width="0.8"/>
<line x1="550" y1="271.27" x2="572.90" y2="271.27" stroke="#000" stroke-width="0.6" stroke-dasharray="2.8,1.8" stroke-opacity="0.8"/>
<line x1="572.70" y1="271.27" x2="576.60" y2="271.27" stroke="#231f20" stroke-width="0.8"/>
<text transform="translate(555.70,308.80) rotate(-90)" font-size="7.3" fill="#231f20" stroke="#231f20" stroke-width="0.2"><tspan font-style="italic" font-size="7.8">F</tspan><tspan font-size="3.8" dy="2.2" fill="#777" stroke="#777" stroke-width="0.1">ST</tspan></text>
<text transform="translate(569.10,320.30) rotate(-90)" font-size="7.3" fill="#231f20" stroke="#231f20" stroke-width="0.2"><tspan font-style="italic" font-size="7.0">θ</tspan><tspan font-size="3.6" dy="1.8">π</tspan><tspan dy="-1.8" dx="0.5">ratio</tspan></text>
<text x="481.5" y="301.8" font-size="7.3" fill="#231f20" stroke="#231f20" stroke-width="0.2">3.09</text>
<text x="514.5" y="301.8" font-size="7.3" fill="#e8262d" text-anchor="middle" stroke="#e8262d" stroke-width="0.2">P</text>
<text x="546.9" y="301.8" font-size="7.3" fill="#231f20" text-anchor="end" stroke="#231f20" stroke-width="0.2">3.2 Mb</text>
<use href="#s6" transform="translate(486.50,303.30)"/>
<use href="#s7" transform="translate(486.50,315.00)"/>
<rect x="485" y="303.30" width="1.40" height="23" fill="#9c9292"/>
<line x1="511.50" y1="303.30" x2="511.50" y2="336.30" stroke="#000" stroke-width="0.7" stroke-dasharray="2.8,1.8"/>
<line x1="516.50" y1="303.30" x2="516.50" y2="336.30" stroke="#000" stroke-width="0.7" stroke-dasharray="2.8,1.8"/>
<line x1="501.50" y1="328.30" x2="506" y2="328.30" stroke="#333" stroke-width="0.9"/>
<line x1="491" y1="330.80" x2="496" y2="330.80" stroke="#444" stroke-width="0.7" stroke-dasharray="0.8,1"/>
<line x1="496.20" y1="330.80" x2="501.70" y2="330.80" stroke="#222" stroke-width="1.0"/>
<line x1="507.70" y1="333.10" x2="512.50" y2="333.10" stroke="#e8262d" stroke-width="1.2"/>
<circle cx="490.20" cy="335.80" r="0.7" fill="#231f20"/>
<text x="515.8" y="342.6" font-size="7.3" fill="#ee2a2f" text-anchor="middle" font-style="italic" stroke="#ee2a2f" stroke-width="0.2">PARP2</text>
<rect x="587.30" y="242.80" width="55" height="5.25" fill="#073165"/>
<rect x="587.30" y="247.55" width="10.50" height="5.25" fill="#073165"/>
<rect x="597.30" y="247.55" width="10.50" height="5.25" fill="#8f8f8f"/>
<rect x="607.30" y="247.55" width="35" height="5.25" fill="#073165"/>
<rect x="587.30" y="252.29" width="10.50" height="5.25" fill="#d2e5f0"/>
<rect x="597.30" y="252.29" width="5.50" height="5.25" fill="#fbd2bd"/>
<rect x="602.30" y="252.29" width="5.50" height="5.25" fill="#97c7e0"/>
<rect x="607.30" y="252.29" width="5.50" height="5.25" fill="#073165"/>
<rect x="612.30" y="252.29" width="5.50" height="5.25" fill="#ffffff"/>
<rect x="617.30" y="252.29" width="5.50" height="5.25" fill="#ab1429"/>
<rect x="622.30" y="252.29" width="5.50" height="5.25" fill="#97c7e0"/>
<rect x="627.30" y="252.29" width="5.50" height="5.25" fill="#d2e5f0"/>
<rect x="632.30" y="252.29" width="5.50" height="5.25" fill="#3f89c5"/>
<rect x="637.30" y="252.29" width="5" height="5.25" fill="#fbd2bd"/>
<rect x="587.30" y="257.04" width="5.50" height="5.25" fill="#97c7e0"/>
<rect x="592.30" y="257.04" width="5.50" height="5.25" fill="#6eaed6"/>
<rect x="597.30" y="257.04" width="5.50" height="5.25" fill="#97c7e0"/>
<rect x="602.30" y="257.04" width="5.50" height="5.25" fill="#3f89c5"/>
<rect x="607.30" y="257.04" width="5.50" height="5.25" fill="#dc6a4f"/>
<rect x="612.30" y="257.04" width="5.50" height="5.25" fill="#073165"/>
<rect x="617.30" y="257.04" width="5.50" height="5.25" fill="#d2e5f0"/>
<rect x="622.30" y="257.04" width="5.50" height="5.25" fill="#97c7e0"/>
<rect x="627.30" y="257.04" width="5.50" height="5.25" fill="#d2e5f0"/>
<rect x="632.30" y="257.04" width="5.50" height="5.25" fill="#f2a17f"/>
<rect x="637.30" y="257.04" width="5" height="5.25" fill="#d2e5f0"/>
<rect x="587.30" y="261.78" width="5.50" height="5.25" fill="#f2a17f"/>
<rect x="592.30" y="261.78" width="5.50" height="5.25" fill="#d2e5f0"/>
<rect x="597.30" y="261.78" width="5.50" height="5.25" fill="#f2a17f"/>
<rect x="602.30" y="261.78" width="5.50" height="5.25" fill="#d2e5f0"/>
<rect x="607.30" y="261.78" width="5.50" height="5.25" fill="#97c7e0"/>
<rect x="612.30" y="261.78" width="5.50" height="5.25" fill="#f2a17f"/>
<rect x="617.30" y="261.78" width="5.50" height="5.25" fill="#f4f2f1"/>
<rect x="622.30" y="261.78" width="5.50" height="5.25" fill="#3f89c5"/>
<rect x="627.30" y="261.78" width="5.50" height="5.25" fill="#dc6a4f"/>
<rect x="632.30" y="261.78" width="5.50" height="5.25" fill="#8f8f8f"/>
<rect x="637.30" y="261.78" width="5" height="5.25" fill="#d2e5f0"/>
<rect x="587.30" y="266.53" width="5.50" height="5.25" fill="#d2e5f0"/>
<rect x="592.30" y="266.53" width="5.50" height="5.25" fill="#97c7e0"/>
<rect x="597.30" y="266.53" width="5.50" height="5.25" fill="#ab1429"/>
<rect x="602.30" y="266.53" width="5.50" height="5.25" fill="#073165"/>
<rect x="607.30" y="266.53" width="5.50" height="5.25" fill="#97c7e0"/>
<rect x="612.30" y="266.53" width="10.50" height="5.25" fill="#3f89c5"/>
<rect x="622.30" y="266.53" width="5.50" height="5.25" fill="#dc6a4f"/>
<rect x="627.30" y="266.53" width="5.50" height="5.25" fill="#8f8f8f"/>
<rect x="632.30" y="266.53" width="5.50" height="5.25" fill="#ab1429"/>
<rect x="637.30" y="266.53" width="5" height="5.25" fill="#d2e5f0"/>
<rect x="587.30" y="271.27" width="10.50" height="5.25" fill="#3f89c5"/>
<rect x="597.30" y="271.27" width="5.50" height="5.25" fill="#f4f2f1"/>
<rect x="602.30" y="271.27" width="20.50" height="5.25" fill="#3f89c5"/>
<rect x="622.30" y="271.27" width="5.50" height="5.25" fill="#d2e5f0"/>
<rect x="627.30" y="271.27" width="5.50" height="5.25" fill="#fbd2bd"/>
<rect x="632.30" y="271.27" width="5.50" height="5.25" fill="#dc6a4f"/>
<rect x="637.30" y="271.27" width="5" height="5.25" fill="#fbd2bd"/>
<rect x="587.30" y="276.02" width="5.50" height="5.25" fill="#97c7e0"/>
<rect x="592.30" y="276.02" width="5.50" height="5.25" fill="#164c8c"/>
<rect x="597.30" y="276.02" width="10.50" height="5.25" fill="#073165"/>
<rect x="607.30" y="276.02" width="5.50" height="5.25" fill="#d2e5f0"/>
<rect x="612.30" y="276.02" width="5.50" height="5.25" fill="#3f89c5"/>
<rect x="617.30" y="276.02" width="10.50" height="5.25" fill="#073165"/>
<rect x="627.30" y="276.02" width="5.50" height="5.25" fill="#2f6fb2"/>
<rect x="632.30" y="276.02" width="5.50" height="5.25" fill="#073165"/>
<rect x="637.30" y="276.02" width="5" height="5.25" fill="#97c7e0"/>
<rect x="587.30" y="280.76" width="5.50" height="5.25" fill="#3f89c5"/>
<rect x="592.30" y="280.76" width="10.50" height="5.25" fill="#073165"/>
<rect x="602.30" y="280.76" width="5.50" height="5.25" fill="#164c8c"/>
<rect x="607.30" y="280.76" width="5.50" height="5.25" fill="#97c7e0"/>
<rect x="612.30" y="280.76" width="5.50" height="5.25" fill="#073165"/>
<rect x="617.30" y="280.76" width="5.50" height="5.25" fill="#164c8c"/>
<rect x="622.30" y="280.76" width="5.50" height="5.25" fill="#fbd2bd"/>
<rect x="627.30" y="280.76" width="5.50" height="5.25" fill="#97c7e0"/>
<rect x="632.30" y="280.76" width="5.50" height="5.25" fill="#164c8c"/>
<rect x="637.30" y="280.76" width="5" height="5.25" fill="#3f89c5"/>
<rect x="587.30" y="285.51" width="5.50" height="5.25" fill="#2f6fb2"/>
<rect x="592.30" y="285.51" width="10.50" height="5.25" fill="#97c7e0"/>
<rect x="602.30" y="285.51" width="5.50" height="5.25" fill="#073165"/>
<rect x="607.30" y="285.51" width="5.50" height="5.25" fill="#97c7e0"/>
<rect x="612.30" y="285.51" width="5.50" height="5.25" fill="#2f6fb2"/>
<rect x="617.30" y="285.51" width="5.50" height="5.25" fill="#164c8c"/>
<rect x="622.30" y="285.51" width="5.50" height="5.25" fill="#3f89c5"/>
<rect x="627.30" y="285.51" width="5.50" height="5.25" fill="#164c8c"/>
<rect x="632.30" y="285.51" width="5.50" height="5.25" fill="#97c7e0"/>
<rect x="637.30" y="285.51" width="5" height="5.25" fill="#3f89c5"/>
<rect x="587.30" y="290.25" width="5.50" height="4.75" fill="#97c7e0"/>
<rect x="592.30" y="290.25" width="5.50" height="4.75" fill="#d2e5f0"/>
<rect x="597.30" y="290.25" width="5.50" height="4.75" fill="#97c7e0"/>
<rect x="602.30" y="290.25" width="5.50" height="4.75" fill="#073165"/>
<rect x="607.30" y="290.25" width="5.50" height="4.75" fill="#2f6fb2"/>
<rect x="612.30" y="290.25" width="5.50" height="4.75" fill="#073165"/>
<rect x="617.30" y="290.25" width="5.50" height="4.75" fill="#d2e5f0"/>
<rect x="622.30" y="290.25" width="5.50" height="4.75" fill="#3f89c5"/>
<rect x="627.30" y="290.25" width="10.50" height="4.75" fill="#fbd2bd"/>
<rect x="637.30" y="290.25" width="5" height="4.75" fill="#3f89c5"/>
<line x1="612.30" y1="242.80" x2="612.30" y2="295" stroke="#000" stroke-width="0.85" stroke-dasharray="3.2,3.4" stroke-dashoffset="-1.5"/>
<line x1="617.30" y1="242.80" x2="617.30" y2="295" stroke="#000" stroke-width="0.85" stroke-dasharray="3.2,3.4" stroke-dashoffset="-1.5"/>
<line x1="587.30" y1="266.53" x2="642.80" y2="266.53" stroke="#000" stroke-width="0.85" stroke-dasharray="3.4,2.4"/>
<line x1="587.30" y1="271.27" x2="642.80" y2="271.27" stroke="#000" stroke-width="0.85" stroke-dasharray="3.4,2.4"/>
<rect x="587.30" y="242.80" width="55" height="52.20" fill="none" stroke="#231f20" stroke-width="0.7"/>
<text x="614.8" y="238.4" font-size="7.3" fill="#2e9474" text-anchor="middle" font-weight="bold" stroke="#2e9474" stroke-width="0.2">Large intestine</text>
<text x="648.8" y="237.3" font-size="7.3" fill="#231f20" text-anchor="end" stroke="#231f20" stroke-width="0.2" transform="rotate(-90 648.85 237.30)">2.94 Mb</text>
<text x="648.8" y="269.2" font-size="7.3" fill="#e8262d" text-anchor="middle" stroke="#e8262d" stroke-width="0.2" transform="rotate(-90 648.85 269.20)">E</text>
<text x="648.8" y="295.0" font-size="7.3" fill="#231f20" stroke="#231f20" stroke-width="0.2" transform="rotate(-90 648.85 295.00)">2.83</text>
<use href="#s4" transform="matrix(0,1,1,0,651.10,242.80)"/>
<use href="#s5" transform="matrix(0,1,1,0,663.00,242.80)"/>
<rect x="650.70" y="295.50" width="11.90" height="1.70" fill="#9c9292"/>
<rect x="663.70" y="295.50" width="10" height="1.70" fill="#9c9292"/>
<line x1="650.60" y1="266.53" x2="673.60" y2="266.53" stroke="#000" stroke-width="0.6" stroke-dasharray="2.8,1.8" stroke-opacity="0.8"/>
<line x1="673.40" y1="266.53" x2="677.30" y2="266.53" stroke="#231f20" stroke-width="0.8"/>
<line x1="680.90" y1="266.53" x2="685.50" y2="266.53" stroke="#231f20" stroke-width="0.8"/>
<line x1="650.60" y1="271.27" x2="673.60" y2="271.27" stroke="#000" stroke-width="0.6" stroke-dasharray="2.8,1.8" stroke-opacity="0.8"/>
<line x1="673.40" y1="271.27" x2="677.30" y2="271.27" stroke="#231f20" stroke-width="0.8"/>
<line x1="680.90" y1="271.27" x2="685.50" y2="271.27" stroke="#231f20" stroke-width="0.8"/>
<text transform="translate(656.30,308.80) rotate(-90)" font-size="7.3" fill="#231f20" stroke="#231f20" stroke-width="0.2"><tspan font-style="italic" font-size="7.8">F</tspan><tspan font-size="3.8" dy="2.2" fill="#777" stroke="#777" stroke-width="0.1">ST</tspan></text>
<text transform="translate(669.80,320.30) rotate(-90)" font-size="7.3" fill="#231f20" stroke="#231f20" stroke-width="0.2"><tspan font-style="italic" font-size="7.0">θ</tspan><tspan font-size="3.6" dy="1.8">π</tspan><tspan dy="-1.8" dx="0.5">ratio</tspan></text>
<text x="582.3" y="301.8" font-size="7.3" fill="#231f20" stroke="#231f20" stroke-width="0.2">3.09</text>
<text x="615.3" y="301.8" font-size="7.3" fill="#e8262d" text-anchor="middle" stroke="#e8262d" stroke-width="0.2">P</text>
<text x="647.7" y="301.8" font-size="7.3" fill="#231f20" text-anchor="end" stroke="#231f20" stroke-width="0.2">3.2 Mb</text>
<use href="#s6" transform="translate(587.30,303.30)"/>
<use href="#s7" transform="translate(587.30,315.00)"/>
<rect x="585.80" y="303.30" width="1.40" height="23" fill="#9c9292"/>
<line x1="612.30" y1="303.30" x2="612.30" y2="336.30" stroke="#000" stroke-width="0.7" stroke-dasharray="2.8,1.8"/>
<line x1="617.30" y1="303.30" x2="617.30" y2="336.30" stroke="#000" stroke-width="0.7" stroke-dasharray="2.8,1.8"/>
<line x1="602.30" y1="328.30" x2="606.80" y2="328.30" stroke="#333" stroke-width="0.9"/>
<line x1="591.80" y1="330.80" x2="596.80" y2="330.80" stroke="#444" stroke-width="0.7" stroke-dasharray="0.8,1"/>
<line x1="597" y1="330.80" x2="602.50" y2="330.80" stroke="#222" stroke-width="1.0"/>
<line x1="608.50" y1="333.10" x2="613.30" y2="333.10" stroke="#e8262d" stroke-width="1.2"/>
<circle cx="591.00" cy="335.80" r="0.7" fill="#231f20"/>
<text x="616.0" y="342.6" font-size="7.3" fill="#ee2a2f" text-anchor="middle" font-style="italic" stroke="#ee2a2f" stroke-width="0.2">PARP2</text>
<rect x="385.50" y="362.80" width="55" height="5.25" fill="#073165"/>
<rect x="385.50" y="367.55" width="5.50" height="5.25" fill="#073165"/>
<rect x="390.50" y="367.55" width="5.50" height="5.25" fill="#8f8f8f"/>
<rect x="395.50" y="367.55" width="20.50" height="5.25" fill="#073165"/>
<rect x="415.50" y="367.55" width="5.50" height="5.25" fill="#8f8f8f"/>
<rect x="420.50" y="367.55" width="5.50" height="5.25" fill="#073165"/>
<rect x="425.50" y="367.55" width="5.50" height="5.25" fill="#dc6a4f"/>
<rect x="430.50" y="367.55" width="10" height="5.25" fill="#073165"/>
<rect x="385.50" y="372.29" width="5.50" height="5.25" fill="#2f6fb2"/>
<rect x="390.50" y="372.29" width="5.50" height="5.25" fill="#d2e5f0"/>
<rect x="395.50" y="372.29" width="5.50" height="5.25" fill="#3f89c5"/>
<rect x="400.50" y="372.29" width="5.50" height="5.25" fill="#073165"/>
<rect x="405.50" y="372.29" width="10.50" height="5.25" fill="#fbd2bd"/>
<rect x="415.50" y="372.29" width="5.50" height="5.25" fill="#97c7e0"/>
<rect x="420.50" y="372.29" width="5.50" height="5.25" fill="#d2e5f0"/>
<rect x="425.50" y="372.29" width="5.50" height="5.25" fill="#97c7e0"/>
<rect x="430.50" y="372.29" width="5.50" height="5.25" fill="#f2a17f"/>
<rect x="435.50" y="372.29" width="5" height="5.25" fill="#fbd2bd"/>
<rect x="385.50" y="377.04" width="20.50" height="5.25" fill="#97c7e0"/>
<rect x="405.50" y="377.04" width="5.50" height="5.25" fill="#d2e5f0"/>
<rect x="410.50" y="377.04" width="5.50" height="5.25" fill="#97c7e0"/>
<rect x="415.50" y="377.04" width="5.50" height="5.25" fill="#3f89c5"/>
<rect x="420.50" y="377.04" width="5.50" height="5.25" fill="#97c7e0"/>
<rect x="425.50" y="377.04" width="5.50" height="5.25" fill="#dc6a4f"/>
<rect x="430.50" y="377.04" width="5.50" height="5.25" fill="#f2a17f"/>
<rect x="435.50" y="377.04" width="5" height="5.25" fill="#97c7e0"/>
<rect x="385.50" y="381.78" width="5.50" height="5.25" fill="#f2a17f"/>
<rect x="390.50" y="381.78" width="5.50" height="5.25" fill="#97c7e0"/>
<rect x="395.50" y="381.78" width="5.50" height="5.25" fill="#fbd2bd"/>
<rect x="400.50" y="381.78" width="5.50" height="5.25" fill="#164c8c"/>
<rect x="405.50" y="381.78" width="5.50" height="5.25" fill="#073165"/>
<rect x="410.50" y="381.78" width="5.50" height="5.25" fill="#6eaed6"/>
<rect x="415.50" y="381.78" width="5.50" height="5.25" fill="#97c7e0"/>
<rect x="420.50" y="381.78" width="5.50" height="5.25" fill="#d2e5f0"/>
<rect x="425.50" y="381.78" width="10.50" height="5.25" fill="#dc6a4f"/>
<rect x="435.50" y="381.78" width="5" height="5.25" fill="#f4f2f1"/>
<rect x="385.50" y="386.53" width="5.50" height="5.25" fill="#2f6fb2"/>
<rect x="390.50" y="386.53" width="5.50" height="5.25" fill="#8f8f8f"/>
<rect x="395.50" y="386.53" width="5.50" height="5.25" fill="#f4f2f1"/>
<rect x="400.50" y="386.53" width="5.50" height="5.25" fill="#f2a17f"/>
<rect x="405.50" y="386.53" width="5.50" height="5.25" fill="#3f89c5"/>
<rect x="410.50" y="386.53" width="5.50" height="5.25" fill="#97c7e0"/>
<rect x="415.50" y="386.53" width="5.50" height="5.25" fill="#3f89c5"/>
<rect x="420.50" y="386.53" width="5.50" height="5.25" fill="#2f6fb2"/>
<rect x="425.50" y="386.53" width="5.50" height="5.25" fill="#8f8f8f"/>
<rect x="430.50" y="386.53" width="5.50" height="5.25" fill="#f2a17f"/>
<rect x="435.50" y="386.53" width="5" height="5.25" fill="#f4f2f1"/>
<rect x="385.50" y="391.27" width="5.50" height="5.25" fill="#3f89c5"/>
<rect x="390.50" y="391.27" width="5.50" height="5.25" fill="#f2a17f"/>
<rect x="395.50" y="391.27" width="5.50" height="5.25" fill="#f4f2f1"/>
<rect x="400.50" y="391.27" width="5.50" height="5.25" fill="#6eaed6"/>
<rect x="405.50" y="391.27" width="5.50" height="5.25" fill="#3f89c5"/>
<rect x="410.50" y="391.27" width="5.50" height="5.25" fill="#97c7e0"/>
<rect x="415.50" y="391.27" width="5.50" height="5.25" fill="#2f6fb2"/>
<rect x="420.50" y="391.27" width="5.50" height="5.25" fill="#f4f2f1"/>
<rect x="425.50" y="391.27" width="5.50" height="5.25" fill="#fbd2bd"/>
<rect x="430.50" y="391.27" width="5.50" height="5.25" fill="#f2a17f"/>
<rect x="435.50" y="391.27" width="5" height="5.25" fill="#d2e5f0"/>
<rect x="385.50" y="396.02" width="15.50" height="5.25" fill="#073165"/>
<rect x="400.50" y="396.02" width="5.50" height="5.25" fill="#f4f2f1"/>
<rect x="405.50" y="396.02" width="5.50" height="5.25" fill="#073165"/>
<rect x="410.50" y="396.02" width="5.50" height="5.25" fill="#f4f2f1"/>
<rect x="415.50" y="396.02" width="5.50" height="5.25" fill="#3f89c5"/>
<rect x="420.50" y="396.02" width="5.50" height="5.25" fill="#073165"/>
<rect x="425.50" y="396.02" width="5.50" height="5.25" fill="#164c8c"/>
<rect x="430.50" y="396.02" width="5.50" height="5.25" fill="#6eaed6"/>
<rect x="435.50" y="396.02" width="5" height="5.25" fill="#073165"/>
<rect x="385.50" y="400.76" width="5.50" height="5.25" fill="#073165"/>
<rect x="390.50" y="400.76" width="5.50" height="5.25" fill="#164c8c"/>
<rect x="395.50" y="400.76" width="5.50" height="5.25" fill="#2f6fb2"/>
<rect x="400.50" y="400.76" width="5.50" height="5.25" fill="#073165"/>
<rect x="405.50" y="400.76" width="15.50" height="5.25" fill="#3f89c5"/>
<rect x="420.50" y="400.76" width="5.50" height="5.25" fill="#2f6fb2"/>
<rect x="425.50" y="400.76" width="5.50" height="5.25" fill="#3f89c5"/>
<rect x="430.50" y="400.76" width="5.50" height="5.25" fill="#164c8c"/>
<rect x="435.50" y="400.76" width="5" height="5.25" fill="#d2e5f0"/>
<rect x="385.50" y="405.51" width="5.50" height="5.25" fill="#d2e5f0"/>
<rect x="390.50" y="405.51" width="10.50" height="5.25" fill="#2f6fb2"/>
<rect x="400.50" y="405.51" width="5.50" height="5.25" fill="#3f89c5"/>
<rect x="405.50" y="405.51" width="5.50" height="5.25" fill="#073165"/>
<rect x="410.50" y="405.51" width="5.50" height="5.25" fill="#2f6fb2"/>
<rect x="415.50" y="405.51" width="5.50" height="5.25" fill="#073165"/>
<rect x="420.50" y="405.51" width="5.50" height="5.25" fill="#164c8c"/>
<rect x="425.50" y="405.51" width="15" height="5.25" fill="#073165"/>
<rect x="385.50" y="410.25" width="5.50" height="4.75" fill="#97c7e0"/>
<rect x="390.50" y="410.25" width="5.50" height="4.75" fill="#d2e5f0"/>
<rect x="395.50" y="410.25" width="5.50" height="4.75" fill="#f4f2f1"/>
<rect x="400.50" y="410.25" width="5.50" height="4.75" fill="#2f6fb2"/>
<rect x="405.50" y="410.25" width="10.50" height="4.75" fill="#073165"/>
<rect x="415.50" y="410.25" width="5.50" height="4.75" fill="#164c8c"/>
<rect x="420.50" y="410.25" width="5.50" height="4.75" fill="#073165"/>
<rect x="425.50" y="410.25" width="10.50" height="4.75" fill="#fbd2bd"/>
<rect x="435.50" y="410.25" width="5" height="4.75" fill="#d2e5f0"/>
<line x1="410.50" y1="362.80" x2="410.50" y2="415" stroke="#000" stroke-width="0.85" stroke-dasharray="3.2,3.4" stroke-dashoffset="-1.5"/>
<line x1="415.50" y1="362.80" x2="415.50" y2="415" stroke="#000" stroke-width="0.85" stroke-dasharray="3.2,3.4" stroke-dashoffset="-1.5"/>
<line x1="385.50" y1="386.53" x2="441" y2="386.53" stroke="#000" stroke-width="0.85" stroke-dasharray="3.4,2.4"/>
<line x1="385.50" y1="391.27" x2="441" y2="391.27" stroke="#000" stroke-width="0.85" stroke-dasharray="3.4,2.4"/>
<rect x="385.50" y="362.80" width="55" height="52.20" fill="none" stroke="#231f20" stroke-width="0.7"/>
<text x="413.0" y="358.4" font-size="7.3" fill="#3c4e8a" text-anchor="middle" font-weight="bold" stroke="#3c4e8a" stroke-width="0.2">Liver</text>
<text x="447.8" y="357.3" font-size="7.3" fill="#231f20" text-anchor="end" stroke="#231f20" stroke-width="0.2" transform="rotate(-90 447.85 357.30)">2.94 Mb</text>
<text x="447.8" y="389.2" font-size="7.3" fill="#e8262d" text-anchor="middle" stroke="#e8262d" stroke-width="0.2" transform="rotate(-90 447.85 389.20)">E</text>
<text x="447.8" y="415.0" font-size="7.3" fill="#231f20" stroke="#231f20" stroke-width="0.2" transform="rotate(-90 447.85 415.00)">2.83</text>
<use href="#s4" transform="matrix(0,1,1,0,450.00,362.80)"/>
<use href="#s5" transform="matrix(0,1,1,0,461.80,362.80)"/>
<rect x="449.60" y="415.50" width="11.90" height="1.70" fill="#9c9292"/>
<rect x="462.50" y="415.50" width="10" height="1.70" fill="#9c9292"/>
<line x1="449.50" y1="386.53" x2="472.40" y2="386.53" stroke="#000" stroke-width="0.6" stroke-dasharray="2.8,1.8" stroke-opacity="0.8"/>
<line x1="472.20" y1="386.53" x2="476.10" y2="386.53" stroke="#231f20" stroke-width="0.8"/>
<line x1="449.50" y1="391.27" x2="472.40" y2="391.27" stroke="#000" stroke-width="0.6" stroke-dasharray="2.8,1.8" stroke-opacity="0.8"/>
<line x1="472.20" y1="391.27" x2="476.10" y2="391.27" stroke="#231f20" stroke-width="0.8"/>
<text transform="translate(455.20,428.80) rotate(-90)" font-size="7.3" fill="#231f20" stroke="#231f20" stroke-width="0.2"><tspan font-style="italic" font-size="7.8">F</tspan><tspan font-size="3.8" dy="2.2" fill="#777" stroke="#777" stroke-width="0.1">ST</tspan></text>
<text transform="translate(468.60,440.30) rotate(-90)" font-size="7.3" fill="#231f20" stroke="#231f20" stroke-width="0.2"><tspan font-style="italic" font-size="7.0">θ</tspan><tspan font-size="3.6" dy="1.8">π</tspan><tspan dy="-1.8" dx="0.5">ratio</tspan></text>
<text x="380.5" y="421.8" font-size="7.3" fill="#231f20" stroke="#231f20" stroke-width="0.2">3.09</text>
<text x="413.5" y="421.8" font-size="7.3" fill="#e8262d" text-anchor="middle" stroke="#e8262d" stroke-width="0.2">P</text>
<text x="445.9" y="421.8" font-size="7.3" fill="#231f20" text-anchor="end" stroke="#231f20" stroke-width="0.2">3.2 Mb</text>
<text x="376.9" y="421.8" font-size="7.3" fill="#231f20" text-anchor="end" stroke="#231f20" stroke-width="0.2">Chr.20</text>
<text x="379.80" y="431.10" font-size="7.3" fill="#231f20" stroke="#231f20" stroke-width="0.2" text-anchor="end"><tspan font-style="italic" font-size="7.8">F</tspan><tspan font-size="3.8" dy="2.2" fill="#777" stroke="#777" stroke-width="0.1">ST</tspan></text>
<text x="379.80" y="444.00" font-size="7.3" fill="#231f20" stroke="#231f20" stroke-width="0.2" text-anchor="end"><tspan font-style="italic" font-size="7.0">θ</tspan><tspan font-size="3.6" dy="1.8">π</tspan><tspan dy="-1.8" dx="0.5">ratio</tspan></text>
<use href="#s6" transform="translate(385.50,423.30)"/>
<use href="#s7" transform="translate(385.50,435.00)"/>
<rect x="384" y="423.30" width="1.40" height="23" fill="#9c9292"/>
<line x1="410.50" y1="423.30" x2="410.50" y2="456.30" stroke="#000" stroke-width="0.7" stroke-dasharray="2.8,1.8"/>
<line x1="415.50" y1="423.30" x2="415.50" y2="456.30" stroke="#000" stroke-width="0.7" stroke-dasharray="2.8,1.8"/>
<line x1="400.50" y1="448.30" x2="405" y2="448.30" stroke="#333" stroke-width="0.9"/>
<line x1="390" y1="450.80" x2="395" y2="450.80" stroke="#444" stroke-width="0.7" stroke-dasharray="0.8,1"/>
<line x1="395.20" y1="450.80" x2="400.70" y2="450.80" stroke="#222" stroke-width="1.0"/>
<line x1="406.70" y1="453.10" x2="411.50" y2="453.10" stroke="#e8262d" stroke-width="1.2"/>
<circle cx="389.20" cy="455.80" r="0.7" fill="#231f20"/>
<text x="414.3" y="463.1" font-size="7.3" fill="#ee2a2f" text-anchor="middle" font-style="italic" stroke="#ee2a2f" stroke-width="0.2">PARP2</text>
<rect x="486.50" y="362.80" width="55" height="5.25" fill="#073165"/>
<rect x="486.50" y="367.55" width="20.50" height="5.25" fill="#073165"/>
<rect x="506.50" y="367.55" width="5.50" height="5.25" fill="#8f8f8f"/>
<rect x="511.50" y="367.55" width="20.50" height="5.25" fill="#073165"/>
<rect x="531.50" y="367.55" width="10" height="5.25" fill="#8f8f8f"/>
<rect x="486.50" y="372.29" width="5.50" height="5.25" fill="#97c7e0"/>
<rect x="491.50" y="372.29" width="5.50" height="5.25" fill="#6eaed6"/>
<rect x="496.50" y="372.29" width="5.50" height="5.25" fill="#f4f2f1"/>
<rect x="501.50" y="372.29" width="5.50" height="5.25" fill="#073165"/>
<rect x="506.50" y="372.29" width="5.50" height="5.25" fill="#97c7e0"/>
<rect x="511.50" y="372.29" width="10.50" height="5.25" fill="#3f89c5"/>
<rect x="521.50" y="372.29" width="5.50" height="5.25" fill="#f4f2f1"/>
<rect x="526.50" y="372.29" width="10.50" height="5.25" fill="#8f8f8f"/>
<rect x="536.50" y="372.29" width="5" height="5.25" fill="#f2a17f"/>
<rect x="486.50" y="377.04" width="5.50" height="5.25" fill="#073165"/>
<rect x="491.50" y="377.04" width="10.50" height="5.25" fill="#97c7e0"/>
<rect x="501.50" y="377.04" width="10.50" height="5.25" fill="#d2e5f0"/>
<rect x="511.50" y="377.04" width="5.50" height="5.25" fill="#f4f2f1"/>
<rect x="516.50" y="377.04" width="5.50" height="5.25" fill="#97c7e0"/>
<rect x="521.50" y="377.04" width="5.50" height="5.25" fill="#f2a17f"/>
<rect x="526.50" y="377.04" width="5.50" height="5.25" fill="#97c7e0"/>
<rect x="531.50" y="377.04" width="5.50" height="5.25" fill="#d2e5f0"/>
<rect x="536.50" y="377.04" width="5" height="5.25" fill="#2f6fb2"/>
<rect x="486.50" y="381.78" width="5.50" height="5.25" fill="#8f8f8f"/>
<rect x="491.50" y="381.78" width="5.50" height="5.25" fill="#f2a17f"/>
<rect x="496.50" y="381.78" width="5.50" height="5.25" fill="#f4f2f1"/>
<rect x="501.50" y="381.78" width="5.50" height="5.25" fill="#d2e5f0"/>
<rect x="506.50" y="381.78" width="5.50" height="5.25" fill="#6eaed6"/>
<rect x="511.50" y="381.78" width="5.50" height="5.25" fill="#dc6a4f"/>
<rect x="516.50" y="381.78" width="5.50" height="5.25" fill="#ab1429"/>
<rect x="521.50" y="381.78" width="5.50" height="5.25" fill="#f2a17f"/>
<rect x="526.50" y="381.78" width="5.50" height="5.25" fill="#dc6a4f"/>
<rect x="531.50" y="381.78" width="5.50" height="5.25" fill="#8f8f8f"/>
<rect x="536.50" y="381.78" width="5" height="5.25" fill="#f4f2f1"/>
<rect x="486.50" y="386.53" width="5.50" height="5.25" fill="#3f89c5"/>
<rect x="491.50" y="386.53" width="5.50" height="5.25" fill="#8f8f8f"/>
<rect x="496.50" y="386.53" width="5.50" height="5.25" fill="#ab1429"/>
<rect x="501.50" y="386.53" width="5.50" height="5.25" fill="#073165"/>
<rect x="506.50" y="386.53" width="5.50" height="5.25" fill="#3f89c5"/>
<rect x="511.50" y="386.53" width="5.50" height="5.25" fill="#d2e5f0"/>
<rect x="516.50" y="386.53" width="5.50" height="5.25" fill="#3f89c5"/>
<rect x="521.50" y="386.53" width="5.50" height="5.25" fill="#f2a17f"/>
<rect x="526.50" y="386.53" width="15" height="5.25" fill="#8f8f8f"/>
<rect x="486.50" y="391.27" width="5.50" height="5.25" fill="#d2e5f0"/>
<rect x="491.50" y="391.27" width="5.50" height="5.25" fill="#fbd2bd"/>
<rect x="496.50" y="391.27" width="5.50" height="5.25" fill="#d2e5f0"/>
<rect x="501.50" y="391.27" width="5.50" height="5.25" fill="#f4f2f1"/>
<rect x="506.50" y="391.27" width="5.50" height="5.25" fill="#3f89c5"/>
<rect x="511.50" y="391.27" width="5.50" height="5.25" fill="#97c7e0"/>
<rect x="516.50" y="391.27" width="5.50" height="5.25" fill="#2f6fb2"/>
<rect x="521.50" y="391.27" width="5.50" height="5.25" fill="#f2a17f"/>
<rect x="526.50" y="391.27" width="5.50" height="5.25" fill="#fbd2bd"/>
<rect x="531.50" y="391.27" width="5.50" height="5.25" fill="#f4f2f1"/>
<rect x="536.50" y="391.27" width="5" height="5.25" fill="#d2e5f0"/>
<rect x="486.50" y="396.02" width="5.50" height="5.25" fill="#97c7e0"/>
<rect x="491.50" y="396.02" width="5.50" height="5.25" fill="#164c8c"/>
<rect x="496.50" y="396.02" width="5.50" height="5.25" fill="#2f6fb2"/>
<rect x="501.50" y="396.02" width="5.50" height="5.25" fill="#6eaed6"/>
<rect x="506.50" y="396.02" width="5.50" height="5.25" fill="#073165"/>
<rect x="511.50" y="396.02" width="5.50" height="5.25" fill="#164c8c"/>
<rect x="516.50" y="396.02" width="10.50" height="5.25" fill="#97c7e0"/>
<rect x="526.50" y="396.02" width="5.50" height="5.25" fill="#2f6fb2"/>
<rect x="531.50" y="396.02" width="5.50" height="5.25" fill="#d2e5f0"/>
<rect x="536.50" y="396.02" width="5" height="5.25" fill="#fbd2bd"/>
<rect x="486.50" y="400.76" width="10.50" height="5.25" fill="#3f89c5"/>
<rect x="496.50" y="400.76" width="5.50" height="5.25" fill="#97c7e0"/>
<rect x="501.50" y="400.76" width="5.50" height="5.25" fill="#164c8c"/>
<rect x="506.50" y="400.76" width="5.50" height="5.25" fill="#f4f2f1"/>
<rect x="511.50" y="400.76" width="10.50" height="5.25" fill="#3f89c5"/>
<rect x="521.50" y="400.76" width="5.50" height="5.25" fill="#f4f2f1"/>
<rect x="526.50" y="400.76" width="5.50" height="5.25" fill="#2f6fb2"/>
<rect x="531.50" y="400.76" width="10" height="5.25" fill="#3f89c5"/>
<rect x="486.50" y="405.51" width="5.50" height="5.25" fill="#97c7e0"/>
<rect x="491.50" y="405.51" width="10.50" height="5.25" fill="#fbd2bd"/>
<rect x="501.50" y="405.51" width="5.50" height="5.25" fill="#3f89c5"/>
<rect x="506.50" y="405.51" width="15.50" height="5.25" fill="#073165"/>
<rect x="521.50" y="405.51" width="5.50" height="5.25" fill="#6eaed6"/>
<rect x="526.50" y="405.51" width="5.50" height="5.25" fill="#dc6a4f"/>
<rect x="531.50" y="405.51" width="5.50" height="5.25" fill="#2f6fb2"/>
<rect x="536.50" y="405.51" width="5" height="5.25" fill="#073165"/>
<rect x="486.50" y="410.25" width="5.50" height="4.75" fill="#97c7e0"/>
<rect x="491.50" y="410.25" width="10.50" height="4.75" fill="#d2e5f0"/>
<rect x="501.50" y="410.25" width="5.50" height="4.75" fill="#2f6fb2"/>
<rect x="506.50" y="410.25" width="5.50" height="4.75" fill="#164c8c"/>
<rect x="511.50" y="410.25" width="5.50" height="4.75" fill="#2f6fb2"/>
<rect x="516.50" y="410.25" width="5.50" height="4.75" fill="#f4f2f1"/>
<rect x="521.50" y="410.25" width="5.50" height="4.75" fill="#97c7e0"/>
<rect x="526.50" y="410.25" width="5.50" height="4.75" fill="#f4f2f1"/>
<rect x="531.50" y="410.25" width="5.50" height="4.75" fill="#2f6fb2"/>
<rect x="536.50" y="410.25" width="5" height="4.75" fill="#f2a17f"/>
<line x1="511.50" y1="362.80" x2="511.50" y2="415" stroke="#000" stroke-width="0.85" stroke-dasharray="3.2,3.4" stroke-dashoffset="-1.5"/>
<line x1="516.50" y1="362.80" x2="516.50" y2="415" stroke="#000" stroke-width="0.85" stroke-dasharray="3.2,3.4" stroke-dashoffset="-1.5"/>
<line x1="486.50" y1="386.53" x2="542" y2="386.53" stroke="#000" stroke-width="0.85" stroke-dasharray="3.4,2.4"/>
<line x1="486.50" y1="391.27" x2="542" y2="391.27" stroke="#000" stroke-width="0.85" stroke-dasharray="3.4,2.4"/>
<rect x="486.50" y="362.80" width="55" height="52.20" fill="none" stroke="#231f20" stroke-width="0.7"/>
<text x="514.0" y="358.4" font-size="7.3" fill="#e8927a" text-anchor="middle" font-weight="bold" stroke="#e8927a" stroke-width="0.2">Lung</text>
<text x="548.5" y="357.3" font-size="7.3" fill="#231f20" text-anchor="end" stroke="#231f20" stroke-width="0.2" transform="rotate(-90 548.55 357.30)">2.94 Mb</text>
<text x="548.5" y="389.2" font-size="7.3" fill="#e8262d" text-anchor="middle" stroke="#e8262d" stroke-width="0.2" transform="rotate(-90 548.55 389.20)">E</text>
<text x="548.5" y="415.0" font-size="7.3" fill="#231f20" stroke="#231f20" stroke-width="0.2" transform="rotate(-90 548.55 415.00)">2.83</text>
<use href="#s4" transform="matrix(0,1,1,0,550.50,362.80)"/>
<use href="#s5" transform="matrix(0,1,1,0,562.30,362.80)"/>
<rect x="550.10" y="415.50" width="11.90" height="1.70" fill="#9c9292"/>
<rect x="563" y="415.50" width="10" height="1.70" fill="#9c9292"/>
<line x1="550" y1="386.53" x2="572.90" y2="386.53" stroke="#000" stroke-width="0.6" stroke-dasharray="2.8,1.8" stroke-opacity="0.8"/>
<line x1="572.70" y1="386.53" x2="576.60" y2="386.53" stroke="#231f20" stroke-width="0.8"/>
<line x1="550" y1="391.27" x2="572.90" y2="391.27" stroke="#000" stroke-width="0.6" stroke-dasharray="2.8,1.8" stroke-opacity="0.8"/>
<line x1="572.70" y1="391.27" x2="576.60" y2="391.27" stroke="#231f20" stroke-width="0.8"/>
<text transform="translate(555.70,428.80) rotate(-90)" font-size="7.3" fill="#231f20" stroke="#231f20" stroke-width="0.2"><tspan font-style="italic" font-size="7.8">F</tspan><tspan font-size="3.8" dy="2.2" fill="#777" stroke="#777" stroke-width="0.1">ST</tspan></text>
<text transform="translate(569.10,440.30) rotate(-90)" font-size="7.3" fill="#231f20" stroke="#231f20" stroke-width="0.2"><tspan font-style="italic" font-size="7.0">θ</tspan><tspan font-size="3.6" dy="1.8">π</tspan><tspan dy="-1.8" dx="0.5">ratio</tspan></text>
<text x="481.5" y="421.8" font-size="7.3" fill="#231f20" stroke="#231f20" stroke-width="0.2">3.09</text>
<text x="514.5" y="421.8" font-size="7.3" fill="#e8262d" text-anchor="middle" stroke="#e8262d" stroke-width="0.2">P</text>
<text x="546.9" y="421.8" font-size="7.3" fill="#231f20" text-anchor="end" stroke="#231f20" stroke-width="0.2">3.2 Mb</text>
<use href="#s6" transform="translate(486.50,423.30)"/>
<use href="#s7" transform="translate(486.50,435.00)"/>
<rect x="485" y="423.30" width="1.40" height="23" fill="#9c9292"/>
<line x1="511.50" y1="423.30" x2="511.50" y2="456.30" stroke="#000" stroke-width="0.7" stroke-dasharray="2.8,1.8"/>
<line x1="516.50" y1="423.30" x2="516.50" y2="456.30" stroke="#000" stroke-width="0.7" stroke-dasharray="2.8,1.8"/>
<line x1="501.50" y1="448.30" x2="506" y2="448.30" stroke="#333" stroke-width="0.9"/>
<line x1="491" y1="450.80" x2="496" y2="450.80" stroke="#444" stroke-width="0.7" stroke-dasharray="0.8,1"/>
<line x1="496.20" y1="450.80" x2="501.70" y2="450.80" stroke="#222" stroke-width="1.0"/>
<line x1="507.70" y1="453.10" x2="512.50" y2="453.10" stroke="#e8262d" stroke-width="1.2"/>
<circle cx="490.20" cy="455.80" r="0.7" fill="#231f20"/>
<text x="513.6" y="463.1" font-size="7.3" fill="#ee2a2f" text-anchor="middle" font-style="italic" stroke="#ee2a2f" stroke-width="0.2">PARP2</text>
<rect x="587.30" y="362.80" width="55" height="5.25" fill="#073165"/>
<rect x="587.30" y="367.55" width="40.50" height="5.25" fill="#073165"/>
<rect x="627.30" y="367.55" width="5.50" height="5.25" fill="#7a0c1f"/>
<rect x="632.30" y="367.55" width="5.50" height="5.25" fill="#8f8f8f"/>
<rect x="637.30" y="367.55" width="5" height="5.25" fill="#073165"/>
<rect x="587.30" y="372.29" width="5.50" height="5.25" fill="#2f6fb2"/>
<rect x="592.30" y="372.29" width="5.50" height="5.25" fill="#6eaed6"/>
<rect x="597.30" y="372.29" width="5.50" height="5.25" fill="#d2e5f0"/>
<rect x="602.30" y="372.29" width="5.50" height="5.25" fill="#fbd2bd"/>
<rect x="607.30" y="372.29" width="5.50" height="5.25" fill="#f4f2f1"/>
<rect x="612.30" y="372.29" width="10.50" height="5.25" fill="#fbd2bd"/>
<rect x="622.30" y="372.29" width="5.50" height="5.25" fill="#d2e5f0"/>
<rect x="627.30" y="372.29" width="5.50" height="5.25" fill="#dc6a4f"/>
<rect x="632.30" y="372.29" width="5.50" height="5.25" fill="#97c7e0"/>
<rect x="637.30" y="372.29" width="5" height="5.25" fill="#6eaed6"/>
<rect x="587.30" y="377.04" width="5.50" height="5.25" fill="#97c7e0"/>
<rect x="592.30" y="377.04" width="10.50" height="5.25" fill="#f2a17f"/>
<rect x="602.30" y="377.04" width="10.50" height="5.25" fill="#d2e5f0"/>
<rect x="612.30" y="377.04" width="5.50" height="5.25" fill="#f4f2f1"/>
<rect x="617.30" y="377.04" width="5.50" height="5.25" fill="#3f89c5"/>
<rect x="622.30" y="377.04" width="5.50" height="5.25" fill="#dc6a4f"/>
<rect x="627.30" y="377.04" width="5.50" height="5.25" fill="#f2a17f"/>
<rect x="632.30" y="377.04" width="5.50" height="5.25" fill="#dc6a4f"/>
<rect x="637.30" y="377.04" width="5" height="5.25" fill="#97c7e0"/>
<rect x="587.30" y="381.78" width="5.50" height="5.25" fill="#f2a17f"/>
<rect x="592.30" y="381.78" width="5.50" height="5.25" fill="#8f8f8f"/>
<rect x="597.30" y="381.78" width="5.50" height="5.25" fill="#dc6a4f"/>
<rect x="602.30" y="381.78" width="5.50" height="5.25" fill="#d2e5f0"/>
<rect x="607.30" y="381.78" width="5.50" height="5.25" fill="#f4f2f1"/>
<rect x="612.30" y="381.78" width="10.50" height="5.25" fill="#d2e5f0"/>
<rect x="622.30" y="381.78" width="5.50" height="5.25" fill="#97c7e0"/>
<rect x="627.30" y="381.78" width="10.50" height="5.25" fill="#8f8f8f"/>
<rect x="637.30" y="381.78" width="5" height="5.25" fill="#d2e5f0"/>
<rect x="587.30" y="386.53" width="5.50" height="5.25" fill="#d2e5f0"/>
<rect x="592.30" y="386.53" width="5.50" height="5.25" fill="#f4f2f1"/>
<rect x="597.30" y="386.53" width="5.50" height="5.25" fill="#f2a17f"/>
<rect x="602.30" y="386.53" width="5.50" height="5.25" fill="#d2e5f0"/>
<rect x="607.30" y="386.53" width="5.50" height="5.25" fill="#fbd2bd"/>
<rect x="612.30" y="386.53" width="5.50" height="5.25" fill="#6eaed6"/>
<rect x="617.30" y="386.53" width="5.50" height="5.25" fill="#d2e5f0"/>
<rect x="622.30" y="386.53" width="5.50" height="5.25" fill="#f2a17f"/>
<rect x="627.30" y="386.53" width="5.50" height="5.25" fill="#8f8f8f"/>
<rect x="632.30" y="386.53" width="5.50" height="5.25" fill="#f2a17f"/>
<rect x="637.30" y="386.53" width="5" height="5.25" fill="#d2e5f0"/>
<rect x="587.30" y="391.27" width="5.50" height="5.25" fill="#97c7e0"/>
<rect x="592.30" y="391.27" width="5.50" height="5.25" fill="#dc6a4f"/>
<rect x="597.30" y="391.27" width="5.50" height="5.25" fill="#d2e5f0"/>
<rect x="602.30" y="391.27" width="5.50" height="5.25" fill="#fbd2bd"/>
<rect x="607.30" y="391.27" width="5.50" height="5.25" fill="#6eaed6"/>
<rect x="612.30" y="391.27" width="5.50" height="5.25" fill="#2f6fb2"/>
<rect x="617.30" y="391.27" width="10.50" height="5.25" fill="#d2e5f0"/>
<rect x="627.30" y="391.27" width="5.50" height="5.25" fill="#f2a17f"/>
<rect x="632.30" y="391.27" width="5.50" height="5.25" fill="#97c7e0"/>
<rect x="637.30" y="391.27" width="5" height="5.25" fill="#6eaed6"/>
<rect x="587.30" y="396.02" width="5.50" height="5.25" fill="#2f6fb2"/>
<rect x="592.30" y="396.02" width="5.50" height="5.25" fill="#3f89c5"/>
<rect x="597.30" y="396.02" width="5.50" height="5.25" fill="#2f6fb2"/>
<rect x="602.30" y="396.02" width="5.50" height="5.25" fill="#f4f2f1"/>
<rect x="607.30" y="396.02" width="5.50" height="5.25" fill="#dc6a4f"/>
<rect x="612.30" y="396.02" width="5.50" height="5.25" fill="#2f6fb2"/>
<rect x="617.30" y="396.02" width="10.50" height="5.25" fill="#3f89c5"/>
<rect x="627.30" y="396.02" width="5.50" height="5.25" fill="#2f6fb2"/>
<rect x="632.30" y="396.02" width="5.50" height="5.25" fill="#97c7e0"/>
<rect x="637.30" y="396.02" width="5" height="5.25" fill="#d2e5f0"/>
<rect x="587.30" y="400.76" width="5.50" height="5.25" fill="#3f89c5"/>
<rect x="592.30" y="400.76" width="5.50" height="5.25" fill="#d2e5f0"/>
<rect x="597.30" y="400.76" width="15.50" height="5.25" fill="#2f6fb2"/>
<rect x="612.30" y="400.76" width="5.50" height="5.25" fill="#164c8c"/>
<rect x="617.30" y="400.76" width="5.50" height="5.25" fill="#3f89c5"/>
<rect x="622.30" y="400.76" width="10.50" height="5.25" fill="#97c7e0"/>
<rect x="632.30" y="400.76" width="5.50" height="5.25" fill="#2f6fb2"/>
<rect x="637.30" y="400.76" width="5" height="5.25" fill="#fbd2bd"/>
<rect x="587.30" y="405.51" width="5.50" height="5.25" fill="#2f6fb2"/>
<rect x="592.30" y="405.51" width="5.50" height="5.25" fill="#073165"/>
<rect x="597.30" y="405.51" width="5.50" height="5.25" fill="#dc6a4f"/>
<rect x="602.30" y="405.51" width="5.50" height="5.25" fill="#97c7e0"/>
<rect x="607.30" y="405.51" width="5.50" height="5.25" fill="#d2e5f0"/>
<rect x="612.30" y="405.51" width="5.50" height="5.25" fill="#2f6fb2"/>
<rect x="617.30" y="405.51" width="5.50" height="5.25" fill="#073165"/>
<rect x="622.30" y="405.51" width="5.50" height="5.25" fill="#fbd2bd"/>
<rect x="627.30" y="405.51" width="5.50" height="5.25" fill="#d2e5f0"/>
<rect x="632.30" y="405.51" width="5.50" height="5.25" fill="#7a0c1f"/>
<rect x="637.30" y="405.51" width="5" height="5.25" fill="#d2e5f0"/>
<rect x="587.30" y="410.25" width="5.50" height="4.75" fill="#073165"/>
<rect x="592.30" y="410.25" width="5.50" height="4.75" fill="#d2e5f0"/>
<rect x="597.30" y="410.25" width="5.50" height="4.75" fill="#97c7e0"/>
<rect x="602.30" y="410.25" width="10.50" height="4.75" fill="#3f89c5"/>
<rect x="612.30" y="410.25" width="5.50" height="4.75" fill="#f4f2f1"/>
<rect x="617.30" y="410.25" width="10.50" height="4.75" fill="#3f89c5"/>
<rect x="627.30" y="410.25" width="5.50" height="4.75" fill="#dc6a4f"/>
<rect x="632.30" y="410.25" width="5.50" height="4.75" fill="#d2e5f0"/>
<rect x="637.30" y="410.25" width="5" height="4.75" fill="#f4f2f1"/>
<line x1="612.30" y1="362.80" x2="612.30" y2="415" stroke="#000" stroke-width="0.85" stroke-dasharray="3.2,3.4" stroke-dashoffset="-1.5"/>
<line x1="617.30" y1="362.80" x2="617.30" y2="415" stroke="#000" stroke-width="0.85" stroke-dasharray="3.2,3.4" stroke-dashoffset="-1.5"/>
<line x1="587.30" y1="386.53" x2="642.80" y2="386.53" stroke="#000" stroke-width="0.85" stroke-dasharray="3.4,2.4"/>
<line x1="587.30" y1="391.27" x2="642.80" y2="391.27" stroke="#000" stroke-width="0.85" stroke-dasharray="3.4,2.4"/>
<rect x="587.30" y="362.80" width="55" height="52.20" fill="none" stroke="#231f20" stroke-width="0.7"/>
<text x="614.8" y="358.4" font-size="7.3" fill="#8089b8" text-anchor="middle" font-weight="bold" stroke="#8089b8" stroke-width="0.2">Muscle</text>
<text x="649.3" y="357.3" font-size="7.3" fill="#231f20" text-anchor="end" stroke="#231f20" stroke-width="0.2" transform="rotate(-90 649.35 357.30)">2.94 Mb</text>
<text x="649.3" y="389.2" font-size="7.3" fill="#e8262d" text-anchor="middle" stroke="#e8262d" stroke-width="0.2" transform="rotate(-90 649.35 389.20)">E</text>
<text x="649.3" y="415.0" font-size="7.3" fill="#231f20" stroke="#231f20" stroke-width="0.2" transform="rotate(-90 649.35 415.00)">2.83</text>
<use href="#s4" transform="matrix(0,1,1,0,651.10,362.80)"/>
<use href="#s5" transform="matrix(0,1,1,0,663.00,362.80)"/>
<rect x="650.70" y="415.50" width="11.90" height="1.70" fill="#9c9292"/>
<rect x="663.70" y="415.50" width="10" height="1.70" fill="#9c9292"/>
<line x1="650.60" y1="386.53" x2="673.60" y2="386.53" stroke="#000" stroke-width="0.6" stroke-dasharray="2.8,1.8" stroke-opacity="0.8"/>
<line x1="673.40" y1="386.53" x2="677.30" y2="386.53" stroke="#231f20" stroke-width="0.8"/>
<line x1="650.60" y1="391.27" x2="673.60" y2="391.27" stroke="#000" stroke-width="0.6" stroke-dasharray="2.8,1.8" stroke-opacity="0.8"/>
<line x1="673.40" y1="391.27" x2="677.30" y2="391.27" stroke="#231f20" stroke-width="0.8"/>
<text transform="translate(656.30,428.80) rotate(-90)" font-size="7.3" fill="#231f20" stroke="#231f20" stroke-width="0.2"><tspan font-style="italic" font-size="7.8">F</tspan><tspan font-size="3.8" dy="2.2" fill="#777" stroke="#777" stroke-width="0.1">ST</tspan></text>
<text transform="translate(669.80,440.30) rotate(-90)" font-size="7.3" fill="#231f20" stroke="#231f20" stroke-width="0.2"><tspan font-style="italic" font-size="7.0">θ</tspan><tspan font-size="3.6" dy="1.8">π</tspan><tspan dy="-1.8" dx="0.5">ratio</tspan></text>
<text x="582.3" y="421.8" font-size="7.3" fill="#231f20" stroke="#231f20" stroke-width="0.2">3.09</text>
<text x="615.3" y="421.8" font-size="7.3" fill="#e8262d" text-anchor="middle" stroke="#e8262d" stroke-width="0.2">P</text>
<text x="647.7" y="421.8" font-size="7.3" fill="#231f20" text-anchor="end" stroke="#231f20" stroke-width="0.2">3.2 Mb</text>
<use href="#s6" transform="translate(587.30,423.30)"/>
<use href="#s7" transform="translate(587.30,435.00)"/>
<rect x="585.80" y="423.30" width="1.40" height="23" fill="#9c9292"/>
<line x1="612.30" y1="423.30" x2="612.30" y2="456.30" stroke="#000" stroke-width="0.7" stroke-dasharray="2.8,1.8"/>
<line x1="617.30" y1="423.30" x2="617.30" y2="456.30" stroke="#000" stroke-width="0.7" stroke-dasharray="2.8,1.8"/>
<line x1="602.30" y1="448.30" x2="606.80" y2="448.30" stroke="#333" stroke-width="0.9"/>
<line x1="591.80" y1="450.80" x2="596.80" y2="450.80" stroke="#444" stroke-width="0.7" stroke-dasharray="0.8,1"/>
<line x1="597" y1="450.80" x2="602.50" y2="450.80" stroke="#222" stroke-width="1.0"/>
<line x1="608.50" y1="453.10" x2="613.30" y2="453.10" stroke="#e8262d" stroke-width="1.2"/>
<circle cx="591.00" cy="455.80" r="0.7" fill="#231f20"/>
<text x="614.6" y="461.4" font-size="7.3" fill="#ee2a2f" text-anchor="middle" font-style="italic" stroke="#ee2a2f" stroke-width="0.2">PARP2</text>
<rect x="385.50" y="483.50" width="55" height="5.25" fill="#073165"/>
<rect x="385.50" y="488.25" width="10.50" height="5.25" fill="#073165"/>
<rect x="395.50" y="488.25" width="5.50" height="5.25" fill="#8f8f8f"/>
<rect x="400.50" y="488.25" width="15.50" height="5.25" fill="#073165"/>
<rect x="415.50" y="488.25" width="5.50" height="5.25" fill="#8f8f8f"/>
<rect x="420.50" y="488.25" width="15.50" height="5.25" fill="#073165"/>
<rect x="435.50" y="488.25" width="5" height="5.25" fill="#8f8f8f"/>
<rect x="385.50" y="492.99" width="5.50" height="5.25" fill="#2f6fb2"/>
<rect x="390.50" y="492.99" width="5.50" height="5.25" fill="#f4f2f1"/>
<rect x="395.50" y="492.99" width="5.50" height="5.25" fill="#2f6fb2"/>
<rect x="400.50" y="492.99" width="5.50" height="5.25" fill="#f2a17f"/>
<rect x="405.50" y="492.99" width="5.50" height="5.25" fill="#073165"/>
<rect x="410.50" y="492.99" width="5.50" height="5.25" fill="#6eaed6"/>
<rect x="415.50" y="492.99" width="5.50" height="5.25" fill="#2f6fb2"/>
<rect x="420.50" y="492.99" width="5.50" height="5.25" fill="#fbd2bd"/>
<rect x="425.50" y="492.99" width="10.50" height="5.25" fill="#6eaed6"/>
<rect x="435.50" y="492.99" width="5" height="5.25" fill="#97c7e0"/>
<rect x="385.50" y="497.74" width="5.50" height="5.25" fill="#f4f2f1"/>
<rect x="390.50" y="497.74" width="10.50" height="5.25" fill="#97c7e0"/>
<rect x="400.50" y="497.74" width="5.50" height="5.25" fill="#fbd2bd"/>
<rect x="405.50" y="497.74" width="5.50" height="5.25" fill="#97c7e0"/>
<rect x="410.50" y="497.74" width="5.50" height="5.25" fill="#073165"/>
<rect x="415.50" y="497.74" width="5.50" height="5.25" fill="#d2e5f0"/>
<rect x="420.50" y="497.74" width="5.50" height="5.25" fill="#164c8c"/>
<rect x="425.50" y="497.74" width="5.50" height="5.25" fill="#dc6a4f"/>
<rect x="430.50" y="497.74" width="10" height="5.25" fill="#fbd2bd"/>
<rect x="385.50" y="502.48" width="5.50" height="5.25" fill="#fbd2bd"/>
<rect x="390.50" y="502.48" width="5.50" height="5.25" fill="#2f6fb2"/>
<rect x="395.50" y="502.48" width="5.50" height="5.25" fill="#f4f2f1"/>
<rect x="400.50" y="502.48" width="5.50" height="5.25" fill="#fbd2bd"/>
<rect x="405.50" y="502.48" width="5.50" height="5.25" fill="#8f8f8f"/>
<rect x="410.50" y="502.48" width="5.50" height="5.25" fill="#fbd2bd"/>
<rect x="415.50" y="502.48" width="5.50" height="5.25" fill="#ab1429"/>
<rect x="420.50" y="502.48" width="5.50" height="5.25" fill="#f4f2f1"/>
<rect x="425.50" y="502.48" width="10.50" height="5.25" fill="#8f8f8f"/>
<rect x="435.50" y="502.48" width="5" height="5.25" fill="#d2e5f0"/>
<rect x="385.50" y="507.23" width="5.50" height="5.25" fill="#f4f2f1"/>
<rect x="390.50" y="507.23" width="5.50" height="5.25" fill="#ab1429"/>
<rect x="395.50" y="507.23" width="5.50" height="5.25" fill="#dc6a4f"/>
<rect x="400.50" y="507.23" width="5.50" height="5.25" fill="#d2e5f0"/>
<rect x="405.50" y="507.23" width="5.50" height="5.25" fill="#3f89c5"/>
<rect x="410.50" y="507.23" width="5.50" height="5.25" fill="#2f6fb2"/>
<rect x="415.50" y="507.23" width="10.50" height="5.25" fill="#3f89c5"/>
<rect x="425.50" y="507.23" width="5.50" height="5.25" fill="#ab1429"/>
<rect x="430.50" y="507.23" width="5.50" height="5.25" fill="#8f8f8f"/>
<rect x="435.50" y="507.23" width="5" height="5.25" fill="#fbd2bd"/>
<rect x="385.50" y="511.97" width="5.50" height="5.25" fill="#d2e5f0"/>
<rect x="390.50" y="511.97" width="10.50" height="5.25" fill="#3f89c5"/>
<rect x="400.50" y="511.97" width="5.50" height="5.25" fill="#f2a17f"/>
<rect x="405.50" y="511.97" width="5.50" height="5.25" fill="#164c8c"/>
<rect x="410.50" y="511.97" width="10.50" height="5.25" fill="#3f89c5"/>
<rect x="420.50" y="511.97" width="10.50" height="5.25" fill="#97c7e0"/>
<rect x="430.50" y="511.97" width="5.50" height="5.25" fill="#fbd2bd"/>
<rect x="435.50" y="511.97" width="5" height="5.25" fill="#d2e5f0"/>
<rect x="385.50" y="516.72" width="5.50" height="5.25" fill="#073165"/>
<rect x="390.50" y="516.72" width="5.50" height="5.25" fill="#164c8c"/>
<rect x="395.50" y="516.72" width="5.50" height="5.25" fill="#d2e5f0"/>
<rect x="400.50" y="516.72" width="5.50" height="5.25" fill="#2f6fb2"/>
<rect x="405.50" y="516.72" width="5.50" height="5.25" fill="#073165"/>
<rect x="410.50" y="516.72" width="5.50" height="5.25" fill="#3f89c5"/>
<rect x="415.50" y="516.72" width="5.50" height="5.25" fill="#164c8c"/>
<rect x="420.50" y="516.72" width="5.50" height="5.25" fill="#073165"/>
<rect x="425.50" y="516.72" width="5.50" height="5.25" fill="#2f6fb2"/>
<rect x="430.50" y="516.72" width="10" height="5.25" fill="#073165"/>
<rect x="385.50" y="521.46" width="20.50" height="5.25" fill="#073165"/>
<rect x="405.50" y="521.46" width="5.50" height="5.25" fill="#3f89c5"/>
<rect x="410.50" y="521.46" width="5.50" height="5.25" fill="#164c8c"/>
<rect x="415.50" y="521.46" width="5.50" height="5.25" fill="#3f89c5"/>
<rect x="420.50" y="521.46" width="10.50" height="5.25" fill="#2f6fb2"/>
<rect x="430.50" y="521.46" width="5.50" height="5.25" fill="#3f89c5"/>
<rect x="435.50" y="521.46" width="5" height="5.25" fill="#2f6fb2"/>
<rect x="385.50" y="526.21" width="5.50" height="5.25" fill="#073165"/>
<rect x="390.50" y="526.21" width="5.50" height="5.25" fill="#f4f2f1"/>
<rect x="395.50" y="526.21" width="5.50" height="5.25" fill="#073165"/>
<rect x="400.50" y="526.21" width="5.50" height="5.25" fill="#3f89c5"/>
<rect x="405.50" y="526.21" width="5.50" height="5.25" fill="#073165"/>
<rect x="410.50" y="526.21" width="5.50" height="5.25" fill="#d2e5f0"/>
<rect x="415.50" y="526.21" width="5.50" height="5.25" fill="#f4f2f1"/>
<rect x="420.50" y="526.21" width="5.50" height="5.25" fill="#073165"/>
<rect x="425.50" y="526.21" width="10.50" height="5.25" fill="#d2e5f0"/>
<rect x="435.50" y="526.21" width="5" height="5.25" fill="#073165"/>
<rect x="385.50" y="530.95" width="5.50" height="4.75" fill="#2f6fb2"/>
<rect x="390.50" y="530.95" width="5.50" height="4.75" fill="#d2e5f0"/>
<rect x="395.50" y="530.95" width="5.50" height="4.75" fill="#f2a17f"/>
<rect x="400.50" y="530.95" width="5.50" height="4.75" fill="#2f6fb2"/>
<rect x="405.50" y="530.95" width="5.50" height="4.75" fill="#073165"/>
<rect x="410.50" y="530.95" width="5.50" height="4.75" fill="#2f6fb2"/>
<rect x="415.50" y="530.95" width="5.50" height="4.75" fill="#073165"/>
<rect x="420.50" y="530.95" width="5.50" height="4.75" fill="#3f89c5"/>
<rect x="425.50" y="530.95" width="5.50" height="4.75" fill="#f2a17f"/>
<rect x="430.50" y="530.95" width="5.50" height="4.75" fill="#fbd2bd"/>
<rect x="435.50" y="530.95" width="5" height="4.75" fill="#073165"/>
<line x1="410.50" y1="483.50" x2="410.50" y2="535.70" stroke="#000" stroke-width="0.85" stroke-dasharray="3.2,3.4" stroke-dashoffset="-1.5"/>
<line x1="415.50" y1="483.50" x2="415.50" y2="535.70" stroke="#000" stroke-width="0.85" stroke-dasharray="3.2,3.4" stroke-dashoffset="-1.5"/>
<line x1="385.50" y1="507.23" x2="441" y2="507.23" stroke="#000" stroke-width="0.85" stroke-dasharray="3.4,2.4"/>
<line x1="385.50" y1="511.97" x2="441" y2="511.97" stroke="#000" stroke-width="0.85" stroke-dasharray="3.4,2.4"/>
<rect x="385.50" y="483.50" width="55" height="52.20" fill="none" stroke="#231f20" stroke-width="0.7"/>
<text x="413.0" y="479.1" font-size="7.3" fill="#96d3bf" text-anchor="middle" font-weight="bold" stroke="#96d3bf" stroke-width="0.2">Small intestine</text>
<text x="447.8" y="478.0" font-size="7.3" fill="#231f20" text-anchor="end" stroke="#231f20" stroke-width="0.2" transform="rotate(-90 447.85 478.00)">2.94 Mb</text>
<text x="447.8" y="509.9" font-size="7.3" fill="#e8262d" text-anchor="middle" stroke="#e8262d" stroke-width="0.2" transform="rotate(-90 447.85 509.90)">E</text>
<text x="447.8" y="535.7" font-size="7.3" fill="#231f20" stroke="#231f20" stroke-width="0.2" transform="rotate(-90 447.85 535.70)">2.83</text>
<use href="#s4" transform="matrix(0,1,1,0,450.00,483.50)"/>
<use href="#s5" transform="matrix(0,1,1,0,461.80,483.50)"/>
<rect x="449.60" y="536.20" width="11.90" height="1.70" fill="#9c9292"/>
<rect x="462.50" y="536.20" width="10" height="1.70" fill="#9c9292"/>
<line x1="449.50" y1="507.23" x2="472.40" y2="507.23" stroke="#000" stroke-width="0.6" stroke-dasharray="2.8,1.8" stroke-opacity="0.8"/>
<line x1="472.20" y1="507.23" x2="476.10" y2="507.23" stroke="#231f20" stroke-width="0.8"/>
<line x1="449.50" y1="511.97" x2="472.40" y2="511.97" stroke="#000" stroke-width="0.6" stroke-dasharray="2.8,1.8" stroke-opacity="0.8"/>
<line x1="472.20" y1="511.97" x2="476.10" y2="511.97" stroke="#231f20" stroke-width="0.8"/>
<text transform="translate(455.20,549.50) rotate(-90)" font-size="7.3" fill="#231f20" stroke="#231f20" stroke-width="0.2"><tspan font-style="italic" font-size="7.8">F</tspan><tspan font-size="3.8" dy="2.2" fill="#777" stroke="#777" stroke-width="0.1">ST</tspan></text>
<text transform="translate(468.60,561.00) rotate(-90)" font-size="7.3" fill="#231f20" stroke="#231f20" stroke-width="0.2"><tspan font-style="italic" font-size="7.0">θ</tspan><tspan font-size="3.6" dy="1.8">π</tspan><tspan dy="-1.8" dx="0.5">ratio</tspan></text>
<text x="380.5" y="542.5" font-size="7.3" fill="#231f20" stroke="#231f20" stroke-width="0.2">3.09</text>
<text x="413.5" y="542.5" font-size="7.3" fill="#e8262d" text-anchor="middle" stroke="#e8262d" stroke-width="0.2">P</text>
<text x="445.9" y="542.5" font-size="7.3" fill="#231f20" text-anchor="end" stroke="#231f20" stroke-width="0.2">3.2 Mb</text>
<text x="376.9" y="542.5" font-size="7.3" fill="#231f20" text-anchor="end" stroke="#231f20" stroke-width="0.2">Chr.20</text>
<text x="379.80" y="551.80" font-size="7.3" fill="#231f20" stroke="#231f20" stroke-width="0.2" text-anchor="end"><tspan font-style="italic" font-size="7.8">F</tspan><tspan font-size="3.8" dy="2.2" fill="#777" stroke="#777" stroke-width="0.1">ST</tspan></text>
<text x="379.80" y="564.70" font-size="7.3" fill="#231f20" stroke="#231f20" stroke-width="0.2" text-anchor="end"><tspan font-style="italic" font-size="7.0">θ</tspan><tspan font-size="3.6" dy="1.8">π</tspan><tspan dy="-1.8" dx="0.5">ratio</tspan></text>
<use href="#s6" transform="translate(385.50,544.00)"/>
<use href="#s7" transform="translate(385.50,555.70)"/>
<rect x="384" y="544" width="1.40" height="23" fill="#9c9292"/>
<line x1="410.50" y1="544" x2="410.50" y2="577" stroke="#000" stroke-width="0.7" stroke-dasharray="2.8,1.8"/>
<line x1="415.50" y1="544" x2="415.50" y2="577" stroke="#000" stroke-width="0.7" stroke-dasharray="2.8,1.8"/>
<line x1="400.50" y1="569" x2="405" y2="569" stroke="#333" stroke-width="0.9"/>
<line x1="390" y1="571.50" x2="395" y2="571.50" stroke="#444" stroke-width="0.7" stroke-dasharray="0.8,1"/>
<line x1="395.20" y1="571.50" x2="400.70" y2="571.50" stroke="#222" stroke-width="1.0"/>
<line x1="406.70" y1="573.80" x2="411.50" y2="573.80" stroke="#e8262d" stroke-width="1.2"/>
<circle cx="389.20" cy="576.50" r="0.7" fill="#231f20"/>
<text x="410.3" y="582.1" font-size="7.3" fill="#ee2a2f" text-anchor="middle" font-style="italic" stroke="#ee2a2f" stroke-width="0.2">PARP2</text>
<rect x="486.50" y="483.50" width="55" height="5.25" fill="#073165"/>
<rect x="486.50" y="488.25" width="25.50" height="5.25" fill="#073165"/>
<rect x="511.50" y="488.25" width="5.50" height="5.25" fill="#8f8f8f"/>
<rect x="516.50" y="488.25" width="15.50" height="5.25" fill="#073165"/>
<rect x="531.50" y="488.25" width="5.50" height="5.25" fill="#8f8f8f"/>
<rect x="536.50" y="488.25" width="5" height="5.25" fill="#073165"/>
<rect x="486.50" y="492.99" width="5.50" height="5.25" fill="#d2e5f0"/>
<rect x="491.50" y="492.99" width="5.50" height="5.25" fill="#fbd2bd"/>
<rect x="496.50" y="492.99" width="5.50" height="5.25" fill="#f2a17f"/>
<rect x="501.50" y="492.99" width="5.50" height="5.25" fill="#d2e5f0"/>
<rect x="506.50" y="492.99" width="5.50" height="5.25" fill="#2f6fb2"/>
<rect x="511.50" y="492.99" width="5.50" height="5.25" fill="#d2e5f0"/>
<rect x="516.50" y="492.99" width="5.50" height="5.25" fill="#dc6a4f"/>
<rect x="521.50" y="492.99" width="5.50" height="5.25" fill="#fbd2bd"/>
<rect x="526.50" y="492.99" width="5.50" height="5.25" fill="#f4f2f1"/>
<rect x="531.50" y="492.99" width="5.50" height="5.25" fill="#2f6fb2"/>
<rect x="536.50" y="492.99" width="5" height="5.25" fill="#fbd2bd"/>
<rect x="486.50" y="497.74" width="5.50" height="5.25" fill="#d2e5f0"/>
<rect x="491.50" y="497.74" width="5.50" height="5.25" fill="#dc6a4f"/>
<rect x="496.50" y="497.74" width="5.50" height="5.25" fill="#f4f2f1"/>
<rect x="501.50" y="497.74" width="5.50" height="5.25" fill="#97c7e0"/>
<rect x="506.50" y="497.74" width="5.50" height="5.25" fill="#2f6fb2"/>
<rect x="511.50" y="497.74" width="5.50" height="5.25" fill="#dc6a4f"/>
<rect x="516.50" y="497.74" width="10.50" height="5.25" fill="#97c7e0"/>
<rect x="526.50" y="497.74" width="5.50" height="5.25" fill="#ab1429"/>
<rect x="531.50" y="497.74" width="5.50" height="5.25" fill="#dc6a4f"/>
<rect x="536.50" y="497.74" width="5" height="5.25" fill="#d2e5f0"/>
<rect x="486.50" y="502.48" width="5.50" height="5.25" fill="#8f8f8f"/>
<rect x="491.50" y="502.48" width="5.50" height="5.25" fill="#d2e5f0"/>
<rect x="496.50" y="502.48" width="5.50" height="5.25" fill="#97c7e0"/>
<rect x="501.50" y="502.48" width="5.50" height="5.25" fill="#f2a17f"/>
<rect x="506.50" y="502.48" width="5.50" height="5.25" fill="#f4f2f1"/>
<rect x="511.50" y="502.48" width="5.50" height="5.25" fill="#8f8f8f"/>
<rect x="516.50" y="502.48" width="5.50" height="5.25" fill="#97c7e0"/>
<rect x="521.50" y="502.48" width="10.50" height="5.25" fill="#8f8f8f"/>
<rect x="531.50" y="502.48" width="5.50" height="5.25" fill="#ab1429"/>
<rect x="536.50" y="502.48" width="5" height="5.25" fill="#dc6a4f"/>
<rect x="486.50" y="507.23" width="5.50" height="5.25" fill="#f2a17f"/>
<rect x="491.50" y="507.23" width="5.50" height="5.25" fill="#dc6a4f"/>
<rect x="496.50" y="507.23" width="5.50" height="5.25" fill="#8f8f8f"/>
<rect x="501.50" y="507.23" width="10.50" height="5.25" fill="#d2e5f0"/>
<rect x="511.50" y="507.23" width="5.50" height="5.25" fill="#dc6a4f"/>
<rect x="516.50" y="507.23" width="10.50" height="5.25" fill="#f2a17f"/>
<rect x="526.50" y="507.23" width="5.50" height="5.25" fill="#fbd2bd"/>
<rect x="531.50" y="507.23" width="5.50" height="5.25" fill="#8f8f8f"/>
<rect x="536.50" y="507.23" width="5" height="5.25" fill="#fbd2bd"/>
<rect x="486.50" y="511.97" width="5.50" height="5.25" fill="#d2e5f0"/>
<rect x="491.50" y="511.97" width="15.50" height="5.25" fill="#fbd2bd"/>
<rect x="506.50" y="511.97" width="10.50" height="5.25" fill="#d2e5f0"/>
<rect x="516.50" y="511.97" width="5.50" height="5.25" fill="#97c7e0"/>
<rect x="521.50" y="511.97" width="5.50" height="5.25" fill="#f2a17f"/>
<rect x="526.50" y="511.97" width="5.50" height="5.25" fill="#8f8f8f"/>
<rect x="531.50" y="511.97" width="5.50" height="5.25" fill="#fbd2bd"/>
<rect x="536.50" y="511.97" width="5" height="5.25" fill="#d2e5f0"/>
<rect x="486.50" y="516.72" width="5.50" height="5.25" fill="#d2e5f0"/>
<rect x="491.50" y="516.72" width="10.50" height="5.25" fill="#2f6fb2"/>
<rect x="501.50" y="516.72" width="5.50" height="5.25" fill="#073165"/>
<rect x="506.50" y="516.72" width="5.50" height="5.25" fill="#2f6fb2"/>
<rect x="511.50" y="516.72" width="5.50" height="5.25" fill="#d2e5f0"/>
<rect x="516.50" y="516.72" width="10.50" height="5.25" fill="#97c7e0"/>
<rect x="526.50" y="516.72" width="5.50" height="5.25" fill="#f4f2f1"/>
<rect x="531.50" y="516.72" width="5.50" height="5.25" fill="#97c7e0"/>
<rect x="536.50" y="516.72" width="5" height="5.25" fill="#073165"/>
<rect x="486.50" y="521.46" width="5.50" height="5.25" fill="#f4f2f1"/>
<rect x="491.50" y="521.46" width="10.50" height="5.25" fill="#97c7e0"/>
<rect x="501.50" y="521.46" width="5.50" height="5.25" fill="#3f89c5"/>
<rect x="506.50" y="521.46" width="5.50" height="5.25" fill="#073165"/>
<rect x="511.50" y="521.46" width="5.50" height="5.25" fill="#d2e5f0"/>
<rect x="516.50" y="521.46" width="5.50" height="5.25" fill="#2f6fb2"/>
<rect x="521.50" y="521.46" width="5.50" height="5.25" fill="#fbd2bd"/>
<rect x="526.50" y="521.46" width="5.50" height="5.25" fill="#6eaed6"/>
<rect x="531.50" y="521.46" width="5.50" height="5.25" fill="#073165"/>
<rect x="536.50" y="521.46" width="5" height="5.25" fill="#f2a17f"/>
<rect x="486.50" y="526.21" width="5.50" height="5.25" fill="#3f89c5"/>
<rect x="491.50" y="526.21" width="5.50" height="5.25" fill="#073165"/>
<rect x="496.50" y="526.21" width="5.50" height="5.25" fill="#6eaed6"/>
<rect x="501.50" y="526.21" width="5.50" height="5.25" fill="#073165"/>
<rect x="506.50" y="526.21" width="5.50" height="5.25" fill="#164c8c"/>
<rect x="511.50" y="526.21" width="5.50" height="5.25" fill="#fbd2bd"/>
<rect x="516.50" y="526.21" width="5.50" height="5.25" fill="#97c7e0"/>
<rect x="521.50" y="526.21" width="5.50" height="5.25" fill="#d2e5f0"/>
<rect x="526.50" y="526.21" width="5.50" height="5.25" fill="#073165"/>
<rect x="531.50" y="526.21" width="5.50" height="5.25" fill="#f4f2f1"/>
<rect x="536.50" y="526.21" width="5" height="5.25" fill="#3f89c5"/>
<rect x="486.50" y="530.95" width="5.50" height="4.75" fill="#d2e5f0"/>
<rect x="491.50" y="530.95" width="5.50" height="4.75" fill="#dc6a4f"/>
<rect x="496.50" y="530.95" width="5.50" height="4.75" fill="#f4f2f1"/>
<rect x="501.50" y="530.95" width="10.50" height="4.75" fill="#073165"/>
<rect x="511.50" y="530.95" width="5.50" height="4.75" fill="#d2e5f0"/>
<rect x="516.50" y="530.95" width="5.50" height="4.75" fill="#164c8c"/>
<rect x="521.50" y="530.95" width="5.50" height="4.75" fill="#d2e5f0"/>
<rect x="526.50" y="530.95" width="5.50" height="4.75" fill="#3f89c5"/>
<rect x="531.50" y="530.95" width="5.50" height="4.75" fill="#fbd2bd"/>
<rect x="536.50" y="530.95" width="5" height="4.75" fill="#d2e5f0"/>
<line x1="511.50" y1="483.50" x2="511.50" y2="535.70" stroke="#000" stroke-width="0.85" stroke-dasharray="3.2,3.4" stroke-dashoffset="-1.5"/>
<line x1="516.50" y1="483.50" x2="516.50" y2="535.70" stroke="#000" stroke-width="0.85" stroke-dasharray="3.2,3.4" stroke-dashoffset="-1.5"/>
<line x1="486.50" y1="507.23" x2="542" y2="507.23" stroke="#000" stroke-width="0.85" stroke-dasharray="3.4,2.4"/>
<line x1="486.50" y1="511.97" x2="542" y2="511.97" stroke="#000" stroke-width="0.85" stroke-dasharray="3.4,2.4"/>
<rect x="486.50" y="483.50" width="55" height="52.20" fill="none" stroke="#231f20" stroke-width="0.7"/>
<text x="514.0" y="479.1" font-size="7.3" fill="#d0021b" text-anchor="middle" font-weight="bold" stroke="#d0021b" stroke-width="0.2">Subcutaneous adipose</text>
<text x="548.0" y="478.0" font-size="7.3" fill="#231f20" text-anchor="end" stroke="#231f20" stroke-width="0.2" transform="rotate(-90 548.05 478.00)">2.94 Mb</text>
<text x="548.0" y="509.9" font-size="7.3" fill="#e8262d" text-anchor="middle" stroke="#e8262d" stroke-width="0.2" transform="rotate(-90 548.05 509.90)">E</text>
<text x="548.0" y="535.7" font-size="7.3" fill="#231f20" stroke="#231f20" stroke-width="0.2" transform="rotate(-90 548.05 535.70)">2.83</text>
<use href="#s4" transform="matrix(0,1,1,0,550.50,483.50)"/>
<use href="#s5" transform="matrix(0,1,1,0,562.30,483.50)"/>
<rect x="550.10" y="536.20" width="11.90" height="1.70" fill="#9c9292"/>
<rect x="563" y="536.20" width="10" height="1.70" fill="#9c9292"/>
<line x1="550" y1="507.23" x2="572.90" y2="507.23" stroke="#000" stroke-width="0.6" stroke-dasharray="2.8,1.8" stroke-opacity="0.8"/>
<line x1="572.70" y1="507.23" x2="576.60" y2="507.23" stroke="#231f20" stroke-width="0.8"/>
<line x1="550" y1="511.97" x2="572.90" y2="511.97" stroke="#000" stroke-width="0.6" stroke-dasharray="2.8,1.8" stroke-opacity="0.8"/>
<line x1="572.70" y1="511.97" x2="576.60" y2="511.97" stroke="#231f20" stroke-width="0.8"/>
<text transform="translate(555.70,549.50) rotate(-90)" font-size="7.3" fill="#231f20" stroke="#231f20" stroke-width="0.2"><tspan font-style="italic" font-size="7.8">F</tspan><tspan font-size="3.8" dy="2.2" fill="#777" stroke="#777" stroke-width="0.1">ST</tspan></text>
<text transform="translate(569.10,561.00) rotate(-90)" font-size="7.3" fill="#231f20" stroke="#231f20" stroke-width="0.2"><tspan font-style="italic" font-size="7.0">θ</tspan><tspan font-size="3.6" dy="1.8">π</tspan><tspan dy="-1.8" dx="0.5">ratio</tspan></text>
<text x="481.5" y="542.5" font-size="7.3" fill="#231f20" stroke="#231f20" stroke-width="0.2">3.09</text>
<text x="514.5" y="542.5" font-size="7.3" fill="#e8262d" text-anchor="middle" stroke="#e8262d" stroke-width="0.2">P</text>
<text x="546.9" y="542.5" font-size="7.3" fill="#231f20" text-anchor="end" stroke="#231f20" stroke-width="0.2">3.2 Mb</text>
<use href="#s6" transform="translate(486.50,544.00)"/>
<use href="#s7" transform="translate(486.50,555.70)"/>
<rect x="485" y="544" width="1.40" height="23" fill="#9c9292"/>
<line x1="511.50" y1="544" x2="511.50" y2="577" stroke="#000" stroke-width="0.7" stroke-dasharray="2.8,1.8"/>
<line x1="516.50" y1="544" x2="516.50" y2="577" stroke="#000" stroke-width="0.7" stroke-dasharray="2.8,1.8"/>
<line x1="501.50" y1="569" x2="506" y2="569" stroke="#333" stroke-width="0.9"/>
<line x1="491" y1="571.50" x2="496" y2="571.50" stroke="#444" stroke-width="0.7" stroke-dasharray="0.8,1"/>
<line x1="496.20" y1="571.50" x2="501.70" y2="571.50" stroke="#222" stroke-width="1.0"/>
<line x1="507.70" y1="573.80" x2="512.50" y2="573.80" stroke="#e8262d" stroke-width="1.2"/>
<circle cx="490.20" cy="576.50" r="0.7" fill="#231f20"/>
<text x="512.2" y="582.1" font-size="7.3" fill="#ee2a2f" text-anchor="middle" font-style="italic" stroke="#ee2a2f" stroke-width="0.2">PARP2</text>
<rect x="587.30" y="483.50" width="55" height="5.25" fill="#073165"/>
<rect x="587.30" y="488.25" width="5.50" height="5.25" fill="#8f8f8f"/>
<rect x="592.30" y="488.25" width="50" height="5.25" fill="#073165"/>
<rect x="587.30" y="492.99" width="5.50" height="5.25" fill="#8f8f8f"/>
<rect x="592.30" y="492.99" width="5.50" height="5.25" fill="#f4f2f1"/>
<rect x="597.30" y="492.99" width="5.50" height="5.25" fill="#97c7e0"/>
<rect x="602.30" y="492.99" width="10.50" height="5.25" fill="#fbd2bd"/>
<rect x="612.30" y="492.99" width="5.50" height="5.25" fill="#ab1429"/>
<rect x="617.30" y="492.99" width="5.50" height="5.25" fill="#fbd2bd"/>
<rect x="622.30" y="492.99" width="5.50" height="5.25" fill="#073165"/>
<rect x="627.30" y="492.99" width="5.50" height="5.25" fill="#fbd2bd"/>
<rect x="632.30" y="492.99" width="5.50" height="5.25" fill="#073165"/>
<rect x="637.30" y="492.99" width="5" height="5.25" fill="#f4f2f1"/>
<rect x="587.30" y="497.74" width="5.50" height="5.25" fill="#f4f2f1"/>
<rect x="592.30" y="497.74" width="5.50" height="5.25" fill="#f2a17f"/>
<rect x="597.30" y="497.74" width="10.50" height="5.25" fill="#fbd2bd"/>
<rect x="607.30" y="497.74" width="5.50" height="5.25" fill="#d2e5f0"/>
<rect x="612.30" y="497.74" width="5.50" height="5.25" fill="#f4f2f1"/>
<rect x="617.30" y="497.74" width="5.50" height="5.25" fill="#fbd2bd"/>
<rect x="622.30" y="497.74" width="5.50" height="5.25" fill="#97c7e0"/>
<rect x="627.30" y="497.74" width="5.50" height="5.25" fill="#dc6a4f"/>
<rect x="632.30" y="497.74" width="5.50" height="5.25" fill="#8f8f8f"/>
<rect x="637.30" y="497.74" width="5" height="5.25" fill="#3f89c5"/>
<rect x="587.30" y="502.48" width="5.50" height="5.25" fill="#f2a17f"/>
<rect x="592.30" y="502.48" width="5.50" height="5.25" fill="#8f8f8f"/>
<rect x="597.30" y="502.48" width="5.50" height="5.25" fill="#fbd2bd"/>
<rect x="602.30" y="502.48" width="10.50" height="5.25" fill="#97c7e0"/>
<rect x="612.30" y="502.48" width="5.50" height="5.25" fill="#d2e5f0"/>
<rect x="617.30" y="502.48" width="5.50" height="5.25" fill="#fbd2bd"/>
<rect x="622.30" y="502.48" width="5.50" height="5.25" fill="#ab1429"/>
<rect x="627.30" y="502.48" width="10.50" height="5.25" fill="#8f8f8f"/>
<rect x="637.30" y="502.48" width="5" height="5.25" fill="#fbd2bd"/>
<rect x="587.30" y="507.23" width="5.50" height="5.25" fill="#dc6a4f"/>
<rect x="592.30" y="507.23" width="10.50" height="5.25" fill="#ab1429"/>
<rect x="602.30" y="507.23" width="5.50" height="5.25" fill="#3f89c5"/>
<rect x="607.30" y="507.23" width="5.50" height="5.25" fill="#fbd2bd"/>
<rect x="612.30" y="507.23" width="5.50" height="5.25" fill="#3f89c5"/>
<rect x="617.30" y="507.23" width="5.50" height="5.25" fill="#fbd2bd"/>
<rect x="622.30" y="507.23" width="5.50" height="5.25" fill="#dc6a4f"/>
<rect x="627.30" y="507.23" width="10.50" height="5.25" fill="#8f8f8f"/>
<rect x="637.30" y="507.23" width="5" height="5.25" fill="#f4f2f1"/>
<rect x="587.30" y="511.97" width="5.50" height="5.25" fill="#fbd2bd"/>
<rect x="592.30" y="511.97" width="5.50" height="5.25" fill="#dc6a4f"/>
<rect x="597.30" y="511.97" width="5.50" height="5.25" fill="#f2a17f"/>
<rect x="602.30" y="511.97" width="5.50" height="5.25" fill="#97c7e0"/>
<rect x="607.30" y="511.97" width="5.50" height="5.25" fill="#2f6fb2"/>
<rect x="612.30" y="511.97" width="5.50" height="5.25" fill="#3f89c5"/>
<rect x="617.30" y="511.97" width="5.50" height="5.25" fill="#d2e5f0"/>
<rect x="622.30" y="511.97" width="5.50" height="5.25" fill="#97c7e0"/>
<rect x="627.30" y="511.97" width="5.50" height="5.25" fill="#f2a17f"/>
<rect x="632.30" y="511.97" width="5.50" height="5.25" fill="#dc6a4f"/>
<rect x="637.30" y="511.97" width="5" height="5.25" fill="#fbd2bd"/>
<rect x="587.30" y="516.72" width="5.50" height="5.25" fill="#97c7e0"/>
<rect x="592.30" y="516.72" width="5.50" height="5.25" fill="#d2e5f0"/>
<rect x="597.30" y="516.72" width="5.50" height="5.25" fill="#073165"/>
<rect x="602.30" y="516.72" width="5.50" height="5.25" fill="#ab1429"/>
<rect x="607.30" y="516.72" width="10.50" height="5.25" fill="#3f89c5"/>
<rect x="617.30" y="516.72" width="5.50" height="5.25" fill="#fbd2bd"/>
<rect x="622.30" y="516.72" width="5.50" height="5.25" fill="#073165"/>
<rect x="627.30" y="516.72" width="5.50" height="5.25" fill="#f4f2f1"/>
<rect x="632.30" y="516.72" width="10" height="5.25" fill="#3f89c5"/>
<rect x="587.30" y="521.46" width="5.50" height="5.25" fill="#2f6fb2"/>
<rect x="592.30" y="521.46" width="5.50" height="5.25" fill="#d2e5f0"/>
<rect x="597.30" y="521.46" width="5.50" height="5.25" fill="#073165"/>
<rect x="602.30" y="521.46" width="15.50" height="5.25" fill="#164c8c"/>
<rect x="617.30" y="521.46" width="5.50" height="5.25" fill="#2f6fb2"/>
<rect x="622.30" y="521.46" width="5.50" height="5.25" fill="#3f89c5"/>
<rect x="627.30" y="521.46" width="5.50" height="5.25" fill="#97c7e0"/>
<rect x="632.30" y="521.46" width="5.50" height="5.25" fill="#d2e5f0"/>
<rect x="637.30" y="521.46" width="5" height="5.25" fill="#97c7e0"/>
<rect x="587.30" y="526.21" width="5.50" height="5.25" fill="#97c7e0"/>
<rect x="592.30" y="526.21" width="5.50" height="5.25" fill="#073165"/>
<rect x="597.30" y="526.21" width="5.50" height="5.25" fill="#3f89c5"/>
<rect x="602.30" y="526.21" width="5.50" height="5.25" fill="#073165"/>
<rect x="607.30" y="526.21" width="5.50" height="5.25" fill="#97c7e0"/>
<rect x="612.30" y="526.21" width="5.50" height="5.25" fill="#3f89c5"/>
<rect x="617.30" y="526.21" width="5.50" height="5.25" fill="#164c8c"/>
<rect x="622.30" y="526.21" width="10.50" height="5.25" fill="#97c7e0"/>
<rect x="632.30" y="526.21" width="5.50" height="5.25" fill="#fbd2bd"/>
<rect x="637.30" y="526.21" width="5" height="5.25" fill="#073165"/>
<rect x="587.30" y="530.95" width="5.50" height="4.75" fill="#073165"/>
<rect x="592.30" y="530.95" width="5.50" height="4.75" fill="#2f6fb2"/>
<rect x="597.30" y="530.95" width="5.50" height="4.75" fill="#fbd2bd"/>
<rect x="602.30" y="530.95" width="10.50" height="4.75" fill="#2f6fb2"/>
<rect x="612.30" y="530.95" width="5.50" height="4.75" fill="#3f89c5"/>
<rect x="617.30" y="530.95" width="5.50" height="4.75" fill="#2f6fb2"/>
<rect x="622.30" y="530.95" width="5.50" height="4.75" fill="#3f89c5"/>
<rect x="627.30" y="530.95" width="5.50" height="4.75" fill="#ab1429"/>
<rect x="632.30" y="530.95" width="5.50" height="4.75" fill="#6eaed6"/>
<rect x="637.30" y="530.95" width="5" height="4.75" fill="#fbd2bd"/>
<line x1="612.30" y1="483.50" x2="612.30" y2="535.70" stroke="#000" stroke-width="0.85" stroke-dasharray="3.2,3.4" stroke-dashoffset="-1.5"/>
<line x1="617.30" y1="483.50" x2="617.30" y2="535.70" stroke="#000" stroke-width="0.85" stroke-dasharray="3.2,3.4" stroke-dashoffset="-1.5"/>
<line x1="587.30" y1="507.23" x2="642.80" y2="507.23" stroke="#000" stroke-width="0.85" stroke-dasharray="3.4,2.4"/>
<line x1="587.30" y1="511.97" x2="642.80" y2="511.97" stroke="#000" stroke-width="0.85" stroke-dasharray="3.4,2.4"/>
<rect x="587.30" y="483.50" width="55" height="52.20" fill="none" stroke="#231f20" stroke-width="0.7"/>
<text x="614.8" y="479.1" font-size="7.3" fill="#6b5a45" text-anchor="middle" font-weight="bold" stroke="#6b5a45" stroke-width="0.2">Visceral adipose</text>
<text x="649.0" y="478.0" font-size="7.3" fill="#231f20" text-anchor="end" stroke="#231f20" stroke-width="0.2" transform="rotate(-90 649.05 478.00)">2.94 Mb</text>
<text x="649.0" y="509.9" font-size="7.3" fill="#e8262d" text-anchor="middle" stroke="#e8262d" stroke-width="0.2" transform="rotate(-90 649.05 509.90)">E</text>
<text x="649.0" y="535.7" font-size="7.3" fill="#231f20" stroke="#231f20" stroke-width="0.2" transform="rotate(-90 649.05 535.70)">2.83</text>
<use href="#s4" transform="matrix(0,1,1,0,651.10,483.50)"/>
<use href="#s5" transform="matrix(0,1,1,0,663.00,483.50)"/>
<rect x="650.70" y="536.20" width="11.90" height="1.70" fill="#9c9292"/>
<rect x="663.70" y="536.20" width="10" height="1.70" fill="#9c9292"/>
<line x1="650.60" y1="507.23" x2="673.60" y2="507.23" stroke="#000" stroke-width="0.6" stroke-dasharray="2.8,1.8" stroke-opacity="0.8"/>
<line x1="673.40" y1="507.23" x2="677.30" y2="507.23" stroke="#231f20" stroke-width="0.8"/>
<line x1="650.60" y1="511.97" x2="673.60" y2="511.97" stroke="#000" stroke-width="0.6" stroke-dasharray="2.8,1.8" stroke-opacity="0.8"/>
<line x1="673.40" y1="511.97" x2="677.30" y2="511.97" stroke="#231f20" stroke-width="0.8"/>
<text transform="translate(656.30,549.50) rotate(-90)" font-size="7.3" fill="#231f20" stroke="#231f20" stroke-width="0.2"><tspan font-style="italic" font-size="7.8">F</tspan><tspan font-size="3.8" dy="2.2" fill="#777" stroke="#777" stroke-width="0.1">ST</tspan></text>
<text transform="translate(669.80,561.00) rotate(-90)" font-size="7.3" fill="#231f20" stroke="#231f20" stroke-width="0.2"><tspan font-style="italic" font-size="7.0">θ</tspan><tspan font-size="3.6" dy="1.8">π</tspan><tspan dy="-1.8" dx="0.5">ratio</tspan></text>
<text x="582.3" y="542.5" font-size="7.3" fill="#231f20" stroke="#231f20" stroke-width="0.2">3.09</text>
<text x="615.3" y="542.5" font-size="7.3" fill="#e8262d" text-anchor="middle" stroke="#e8262d" stroke-width="0.2">P</text>
<text x="647.7" y="542.5" font-size="7.3" fill="#231f20" text-anchor="end" stroke="#231f20" stroke-width="0.2">3.2 Mb</text>
<use href="#s6" transform="translate(587.30,544.00)"/>
<use href="#s7" transform="translate(587.30,555.70)"/>
<rect x="585.80" y="544" width="1.40" height="23" fill="#9c9292"/>
<line x1="612.30" y1="544" x2="612.30" y2="577" stroke="#000" stroke-width="0.7" stroke-dasharray="2.8,1.8"/>
<line x1="617.30" y1="544" x2="617.30" y2="577" stroke="#000" stroke-width="0.7" stroke-dasharray="2.8,1.8"/>
<line x1="602.30" y1="569" x2="606.80" y2="569" stroke="#333" stroke-width="0.9"/>
<line x1="591.80" y1="571.50" x2="596.80" y2="571.50" stroke="#444" stroke-width="0.7" stroke-dasharray="0.8,1"/>
<line x1="597" y1="571.50" x2="602.50" y2="571.50" stroke="#222" stroke-width="1.0"/>
<line x1="608.50" y1="573.80" x2="613.30" y2="573.80" stroke="#e8262d" stroke-width="1.2"/>
<circle cx="591.00" cy="576.50" r="0.7" fill="#231f20"/>
<text x="612.4" y="582.1" font-size="7.3" fill="#ee2a2f" text-anchor="middle" font-style="italic" stroke="#ee2a2f" stroke-width="0.2">PARP2</text>
<defs><g id="s0">
<rect width="52.20" height="11.20" fill="#fff"/>
<rect x="0.00" y="9.24" width="4.80" height="1.96" fill="#f2a17f"/>
<rect x="4.75" y="9.24" width="4.80" height="1.96" fill="#f2a17f"/>
<rect x="9.49" y="9.52" width="4.80" height="1.68" fill="#97c7e0"/>
<rect x="14.24" y="9.52" width="4.80" height="1.68" fill="#97c7e0"/>
<rect x="18.98" y="9.24" width="4.80" height="1.96" fill="#f2a17f"/>
<rect x="23.73" y="5.60" width="4.80" height="5.60" fill="#7a0c1f"/>
<rect x="28.47" y="9.24" width="4.80" height="1.96" fill="#f2a17f"/>
<rect x="33.22" y="10.08" width="4.80" height="1.12" fill="#3f89c5"/>
<rect x="37.96" y="9.52" width="4.80" height="1.68" fill="#f2a17f"/>
<rect x="42.71" y="6.72" width="4.80" height="4.48" fill="#ab1429"/>
<rect x="47.45" y="6.72" width="4.80" height="4.48" fill="#ab1429"/>
<rect x="0.10" y="0.25" width="4.55" height="5.35" fill="#8a0d1e" stroke="#1a1a1a" stroke-width="0.5"/>
<rect x="4.85" y="0.25" width="4.55" height="5.35" fill="#8a0d1e" stroke="#1a1a1a" stroke-width="0.5"/>
<rect x="9.59" y="1.09" width="4.55" height="4.51" fill="#c3242c" stroke="#1a1a1a" stroke-width="0.5"/>
<rect x="14.34" y="3.05" width="4.55" height="2.55" fill="#e0643f" stroke="#1a1a1a" stroke-width="0.5"/>
<rect x="19.08" y="1.09" width="4.55" height="4.51" fill="#c3242c" stroke="#1a1a1a" stroke-width="0.5"/>
<rect x="23.83" y="0.25" width="4.55" height="5.35" fill="#8a0d1e" stroke="#1a1a1a" stroke-width="0.5"/>
<rect x="28.57" y="1.09" width="4.55" height="4.51" fill="#c3242c" stroke="#1a1a1a" stroke-width="0.5"/>
<rect x="42.81" y="3.33" width="4.55" height="2.27" fill="#d9d9d9" stroke="#1a1a1a" stroke-width="0.5"/>
<rect x="47.55" y="3.33" width="4.55" height="2.27" fill="#e0643f" stroke="#1a1a1a" stroke-width="0.5"/>
<polyline points="0.00,0.30 4.75,0.30 4.75,0.30 9.49,0.30 9.49,1.14 14.24,1.14 14.24,2.54 18.98,2.54 18.98,1.14 23.73,1.14 23.73,0.30 28.47,0.30 28.47,1.14 33.22,1.14 33.22,4.22 37.96,4.22 37.96,4.22 42.71,4.22 42.71,3.10 47.45,3.10 47.45,3.10 52.20,3.10" fill="none" stroke="#1a1a1a" stroke-width="0.55"/>
<line x1="0" y1="5.60" x2="52.20" y2="5.60" stroke="#1a1a1a" stroke-width="0.3"/>
<rect width="52.20" height="11.20" fill="none" stroke="#1a1a1a" stroke-width="0.8"/>
</g>
<g id="s1">
<rect width="52.20" height="10.60" fill="#fff"/>
<rect x="0.00" y="8.74" width="4.80" height="1.85" fill="#dc6a4f"/>
<rect x="4.75" y="8.74" width="4.80" height="1.85" fill="#dc6a4f"/>
<rect x="9.49" y="8.74" width="4.80" height="1.85" fill="#f2a17f"/>
<rect x="14.24" y="9.54" width="4.80" height="1.06" fill="#2f6fb2"/>
<rect x="18.98" y="9.54" width="4.80" height="1.06" fill="#2f6fb2"/>
<rect x="23.73" y="7.42" width="4.80" height="3.18" fill="#ab1429"/>
<rect x="28.47" y="7.42" width="4.80" height="3.18" fill="#ab1429"/>
<rect x="37.96" y="9.54" width="4.80" height="1.06" fill="#2f6fb2"/>
<rect x="42.71" y="5.30" width="4.80" height="5.30" fill="#7a0c1f"/>
<rect x="47.45" y="5.30" width="4.80" height="5.30" fill="#7a0c1f"/>
<rect x="0.10" y="2.37" width="4.55" height="2.93" fill="#fbdccb" stroke="#1a1a1a" stroke-width="0.5"/>
<rect x="4.85" y="2.37" width="4.55" height="2.93" fill="#fbdccb" stroke="#1a1a1a" stroke-width="0.5"/>
<rect x="9.59" y="2.90" width="4.55" height="2.40" fill="#a6cfe4" stroke="#1a1a1a" stroke-width="0.5"/>
<rect x="23.83" y="0.78" width="4.55" height="4.52" fill="#c3242c" stroke="#1a1a1a" stroke-width="0.5"/>
<rect x="28.57" y="0.78" width="4.55" height="4.52" fill="#c3242c" stroke="#1a1a1a" stroke-width="0.5"/>
<rect x="33.32" y="2.90" width="4.55" height="2.40" fill="#fbdccb" stroke="#1a1a1a" stroke-width="0.5"/>
<rect x="38.06" y="2.90" width="4.55" height="2.40" fill="#fbdccb" stroke="#1a1a1a" stroke-width="0.5"/>
<rect x="47.55" y="0.25" width="4.55" height="5.05" fill="#c3242c" stroke="#1a1a1a" stroke-width="0.5"/>
<polyline points="0.00,2.42 4.75,2.42 4.75,2.42 9.49,2.42 9.49,2.95 14.24,2.95 14.24,4.01 18.98,4.01 18.98,4.01 23.73,4.01 23.73,0.83 28.47,0.83 28.47,0.83 33.22,0.83 33.22,2.95 37.96,2.95 37.96,2.95 42.71,2.95 42.71,4.01 47.45,4.01 47.45,0.30 52.20,0.30" fill="none" stroke="#1a1a1a" stroke-width="0.55"/>
<line x1="0" y1="5.30" x2="52.20" y2="5.30" stroke="#1a1a1a" stroke-width="0.3"/>
<rect width="52.20" height="10.60" fill="none" stroke="#1a1a1a" stroke-width="0.8"/>
</g>
<g id="s2">
<rect width="55.00" height="11.20" fill="#fff"/>
<rect x="0.00" y="8.40" width="5.05" height="2.80" fill="#97c7e0"/>
<rect x="5.00" y="8.40" width="5.05" height="2.80" fill="#97c7e0"/>
<rect x="10.00" y="5.60" width="5.05" height="5.60" fill="#fbd2bd"/>
<rect x="15.00" y="5.60" width="5.05" height="5.60" fill="#fbd2bd"/>
<rect x="20.00" y="5.60" width="5.05" height="5.60" fill="#fbd2bd"/>
<rect x="25.00" y="5.60" width="5.05" height="5.60" fill="#f2a17f"/>
<rect x="30.00" y="5.60" width="5.05" height="5.60" fill="#f2a17f"/>
<rect x="35.00" y="5.60" width="5.05" height="5.60" fill="#f2a17f"/>
<rect x="40.00" y="10.08" width="5.05" height="1.12" fill="#2f6fb2"/>
<rect x="45.00" y="10.08" width="5.05" height="1.12" fill="#2f6fb2"/>
<rect x="50.00" y="5.60" width="5.05" height="5.60" fill="#fde3d4"/>
<rect x="0.10" y="4.17" width="4.80" height="1.43" fill="#e0643f" stroke="#1a1a1a" stroke-width="0.5"/>
<rect x="5.10" y="2.77" width="4.80" height="2.83" fill="#c3242c" stroke="#1a1a1a" stroke-width="0.5"/>
<rect x="10.10" y="1.37" width="4.80" height="4.23" fill="#a3132a" stroke="#1a1a1a" stroke-width="0.5"/>
<rect x="15.10" y="1.37" width="4.80" height="4.23" fill="#a3132a" stroke="#1a1a1a" stroke-width="0.5"/>
<rect x="20.10" y="1.37" width="4.80" height="4.23" fill="#a3132a" stroke="#1a1a1a" stroke-width="0.5"/>
<rect x="25.10" y="1.37" width="4.80" height="4.23" fill="#8a0d1e" stroke="#1a1a1a" stroke-width="0.5"/>
<rect x="30.10" y="1.37" width="4.80" height="4.23" fill="#8a0d1e" stroke="#1a1a1a" stroke-width="0.5"/>
<rect x="35.10" y="1.37" width="4.80" height="4.23" fill="#8a0d1e" stroke="#1a1a1a" stroke-width="0.5"/>
<rect x="40.10" y="3.05" width="4.80" height="2.55" fill="#c3242c" stroke="#1a1a1a" stroke-width="0.5"/>
<rect x="45.10" y="5.18" width="4.80" height="0.42" fill="#e0643f" stroke="#1a1a1a" stroke-width="0.5"/>
<rect x="50.10" y="0.25" width="4.80" height="5.35" fill="#8a0d1e" stroke="#1a1a1a" stroke-width="0.5"/>
<polyline points="0.00,1.98 5.00,1.98 5.00,1.98 10.00,1.98 10.00,1.42 15.00,1.42 15.00,1.42 20.00,1.42 20.00,1.42 25.00,1.42 25.00,1.42 30.00,1.42 30.00,1.42 35.00,1.42 35.00,1.42 40.00,1.42 40.00,2.54 45.00,2.54 45.00,1.98 50.00,1.98 50.00,0.30 55.00,0.30" fill="none" stroke="#1a1a1a" stroke-width="0.55"/>
<line x1="0" y1="5.60" x2="55.00" y2="5.60" stroke="#1a1a1a" stroke-width="0.3"/>
<rect width="55.00" height="11.20" fill="none" stroke="#1a1a1a" stroke-width="0.8"/>
</g>
<g id="s3">
<rect width="55.00" height="11.20" fill="#fff"/>
<rect x="0.00" y="10.08" width="5.05" height="1.12" fill="#2f6fb2"/>
<rect x="5.00" y="5.60" width="5.05" height="5.60" fill="#f2a17f"/>
<rect x="10.00" y="5.60" width="5.05" height="5.60" fill="#dc6a4f"/>
<rect x="15.00" y="5.60" width="5.05" height="5.60" fill="#f2a17f"/>
<rect x="20.00" y="5.60" width="5.05" height="5.60" fill="#f2a17f"/>
<rect x="25.00" y="5.60" width="5.05" height="5.60" fill="#dc6a4f"/>
<rect x="30.00" y="5.60" width="5.05" height="5.60" fill="#dc6a4f"/>
<rect x="35.00" y="5.60" width="5.05" height="5.60" fill="#f2a17f"/>
<rect x="40.00" y="8.40" width="5.05" height="2.80" fill="#97c7e0"/>
<rect x="45.00" y="8.40" width="5.05" height="2.80" fill="#d2e5f0"/>
<rect x="50.00" y="5.60" width="5.05" height="5.60" fill="#dc6a4f"/>
<rect x="5.10" y="3.05" width="4.80" height="2.55" fill="#a6cfe4" stroke="#1a1a1a" stroke-width="0.5"/>
<rect x="10.10" y="3.05" width="4.80" height="2.55" fill="#fbdccb" stroke="#1a1a1a" stroke-width="0.5"/>
<rect x="15.10" y="3.05" width="4.80" height="2.55" fill="#fbdccb" stroke="#1a1a1a" stroke-width="0.5"/>
<rect x="20.10" y="3.05" width="4.80" height="2.55" fill="#fbdccb" stroke="#1a1a1a" stroke-width="0.5"/>
<rect x="25.10" y="3.05" width="4.80" height="2.55" fill="#fbdccb" stroke="#1a1a1a" stroke-width="0.5"/>
<rect x="30.10" y="3.05" width="4.80" height="2.55" fill="#f09a78" stroke="#1a1a1a" stroke-width="0.5"/>
<rect x="35.10" y="3.05" width="4.80" height="2.55" fill="#fbdccb" stroke="#1a1a1a" stroke-width="0.5"/>
<rect x="50.10" y="0.25" width="4.80" height="5.35" fill="#8a0d1e" stroke="#1a1a1a" stroke-width="0.5"/>
<polyline points="0.00,4.50 5.00,4.50 5.00,2.43 10.00,2.43 10.00,2.43 15.00,2.43 15.00,2.43 20.00,2.43 20.00,2.43 25.00,2.43 25.00,2.43 30.00,2.43 30.00,2.43 35.00,2.43 35.00,2.43 40.00,2.43 40.00,4.50 45.00,4.50 45.00,4.50 50.00,4.50 50.00,0.30 55.00,0.30" fill="none" stroke="#1a1a1a" stroke-width="0.55"/>
<line x1="0" y1="5.60" x2="55.00" y2="5.60" stroke="#1a1a1a" stroke-width="0.3"/>
<rect width="55.00" height="11.20" fill="none" stroke="#1a1a1a" stroke-width="0.8"/>
</g>
<g id="s4">
<rect width="52.20" height="11.20" fill="#fff"/>
<rect x="0.00" y="6.16" width="4.80" height="5.04" fill="#a3132a"/>
<rect x="4.75" y="6.16" width="4.80" height="5.04" fill="#a3132a"/>
<rect x="9.49" y="6.16" width="4.80" height="5.04" fill="#a3132a"/>
<rect x="14.24" y="9.52" width="4.80" height="1.68" fill="#f2a17f"/>
<rect x="18.98" y="6.16" width="4.80" height="5.04" fill="#a3132a"/>
<rect x="23.73" y="5.60" width="4.80" height="5.60" fill="#8a0d1e"/>
<rect x="28.47" y="6.16" width="4.80" height="5.04" fill="#a3132a"/>
<rect x="33.22" y="5.60" width="4.80" height="5.60" fill="#8a0d1e"/>
<rect x="37.96" y="5.60" width="4.80" height="5.60" fill="#8a0d1e"/>
<rect x="42.71" y="9.52" width="4.80" height="1.68" fill="#f2a17f"/>
<rect x="47.45" y="6.16" width="4.80" height="5.04" fill="#a3132a"/>
<rect x="0.10" y="0.25" width="4.55" height="5.35" fill="#8a0d1e" stroke="#1a1a1a" stroke-width="0.5"/>
<rect x="4.85" y="0.25" width="4.55" height="5.35" fill="#8a0d1e" stroke="#1a1a1a" stroke-width="0.5"/>
<rect x="9.59" y="3.33" width="4.55" height="2.27" fill="#e0643f" stroke="#1a1a1a" stroke-width="0.5"/>
<rect x="14.34" y="3.33" width="4.55" height="2.27" fill="#e0643f" stroke="#1a1a1a" stroke-width="0.5"/>
<rect x="19.08" y="0.25" width="4.55" height="5.35" fill="#8a0d1e" stroke="#1a1a1a" stroke-width="0.5"/>
<rect x="23.83" y="0.25" width="4.55" height="5.35" fill="#8a0d1e" stroke="#1a1a1a" stroke-width="0.5"/>
<rect x="33.32" y="3.33" width="4.55" height="2.27" fill="#e0643f" stroke="#1a1a1a" stroke-width="0.5"/>
<rect x="42.81" y="3.33" width="4.55" height="2.27" fill="#c3242c" stroke="#1a1a1a" stroke-width="0.5"/>
<rect x="47.55" y="3.33" width="4.55" height="2.27" fill="#e0643f" stroke="#1a1a1a" stroke-width="0.5"/>
<polyline points="0.00,0.30 4.75,0.30 4.75,0.30 9.49,0.30 9.49,3.38 14.24,3.38 14.24,3.38 18.98,3.38 18.98,0.30 23.73,0.30 23.73,0.30 28.47,0.30 28.47,4.22 33.22,4.22 33.22,3.38 37.96,3.38 37.96,4.22 42.71,4.22 42.71,3.38 47.45,3.38 47.45,3.38 52.20,3.38" fill="none" stroke="#1a1a1a" stroke-width="0.55"/>
<line x1="0" y1="5.60" x2="52.20" y2="5.60" stroke="#1a1a1a" stroke-width="0.3"/>
<rect width="52.20" height="11.20" fill="none" stroke="#1a1a1a" stroke-width="0.8"/>
</g>
<g id="s5">
<rect width="52.20" height="10.60" fill="#fff"/>
<rect x="0.00" y="9.54" width="4.80" height="1.06" fill="#2f6fb2"/>
<rect x="4.75" y="9.54" width="4.80" height="1.06" fill="#2f6fb2"/>
<rect x="9.49" y="9.54" width="4.80" height="1.06" fill="#2f6fb2"/>
<rect x="14.24" y="9.54" width="4.80" height="1.06" fill="#2f6fb2"/>
<rect x="18.98" y="9.54" width="4.80" height="1.06" fill="#2f6fb2"/>
<rect x="23.73" y="7.42" width="4.80" height="3.18" fill="#8a0d1e"/>
<rect x="28.47" y="7.95" width="4.80" height="2.65" fill="#ab1429"/>
<rect x="33.22" y="9.54" width="4.80" height="1.06" fill="#2f6fb2"/>
<rect x="37.96" y="5.30" width="4.80" height="5.30" fill="#8a0d1e"/>
<rect x="42.71" y="9.54" width="4.80" height="1.06" fill="#2f6fb2"/>
<rect x="47.45" y="9.54" width="4.80" height="1.06" fill="#2f6fb2"/>
<rect x="9.59" y="3.96" width="4.55" height="1.34" fill="#e0643f" stroke="#1a1a1a" stroke-width="0.5"/>
<rect x="14.34" y="3.96" width="4.55" height="1.34" fill="#e0643f" stroke="#1a1a1a" stroke-width="0.5"/>
<rect x="23.83" y="0.25" width="4.55" height="5.05" fill="#8a0d1e" stroke="#1a1a1a" stroke-width="0.5"/>
<rect x="38.06" y="2.37" width="4.55" height="2.93" fill="#8a0d1e" stroke="#1a1a1a" stroke-width="0.5"/>
<polyline points="0.00,4.54 4.75,4.54 4.75,4.54 9.49,4.54 9.49,4.01 14.24,4.01 14.24,4.01 18.98,4.01 18.98,4.54 23.73,4.54 23.73,0.30 28.47,0.30 28.47,4.54 33.22,4.54 33.22,4.54 37.96,4.54 37.96,2.42 42.71,2.42 42.71,4.54 47.45,4.54 47.45,4.54 52.20,4.54" fill="none" stroke="#1a1a1a" stroke-width="0.55"/>
<line x1="0" y1="5.30" x2="52.20" y2="5.30" stroke="#1a1a1a" stroke-width="0.3"/>
<rect width="52.20" height="10.60" fill="none" stroke="#1a1a1a" stroke-width="0.8"/>
</g>
<g id="s6">
<rect width="55.00" height="11.20" fill="#fff"/>
<rect x="0.00" y="6.16" width="5.05" height="5.04" fill="#f2a17f"/>
<rect x="5.00" y="9.24" width="5.05" height="1.96" fill="#164c8c"/>
<rect x="10.00" y="8.68" width="5.05" height="2.52" fill="#d2e5f0"/>
<rect x="15.00" y="9.24" width="5.05" height="1.96" fill="#2f6fb2"/>
<rect x="20.00" y="5.60" width="5.05" height="5.60" fill="#ab1429"/>
<rect x="25.00" y="8.12" width="5.05" height="3.08" fill="#d2e5f0"/>
<rect x="30.00" y="9.24" width="5.05" height="1.96" fill="#2f6fb2"/>
<rect x="35.00" y="9.24" width="5.05" height="1.96" fill="#164c8c"/>
<rect x="40.00" y="9.24" width="5.05" height="1.96" fill="#2f6fb2"/>
<rect x="50.00" y="10.08" width="5.05" height="1.12" fill="#073165"/>
<rect x="0.10" y="0.81" width="4.80" height="4.79" fill="#8a0d1e" stroke="#1a1a1a" stroke-width="0.5"/>
<rect x="5.10" y="0.81" width="4.80" height="4.79" fill="#8a0d1e" stroke="#1a1a1a" stroke-width="0.5"/>
<rect x="10.10" y="2.49" width="4.80" height="3.11" fill="#c3242c" stroke="#1a1a1a" stroke-width="0.5"/>
<rect x="20.10" y="0.81" width="4.80" height="4.79" fill="#8a0d1e" stroke="#1a1a1a" stroke-width="0.5"/>
<rect x="25.10" y="1.09" width="4.80" height="4.51" fill="#8a0d1e" stroke="#1a1a1a" stroke-width="0.5"/>
<rect x="30.10" y="3.05" width="4.80" height="2.55" fill="#e0643f" stroke="#1a1a1a" stroke-width="0.5"/>
<rect x="35.10" y="0.81" width="4.80" height="4.79" fill="#8a0d1e" stroke="#1a1a1a" stroke-width="0.5"/>
<rect x="50.10" y="3.89" width="4.80" height="1.71" fill="#f09a78" stroke="#1a1a1a" stroke-width="0.5"/>
<polyline points="0.00,0.86 5.00,0.86 5.00,0.86 10.00,0.86 10.00,2.54 15.00,2.54 15.00,1.70 20.00,1.70 20.00,0.86 25.00,0.86 25.00,1.14 30.00,1.14 30.00,1.70 35.00,1.70 35.00,0.86 40.00,0.86 40.00,5.34 45.00,5.34 45.00,5.34 50.00,5.34 50.00,3.38 55.00,3.38" fill="none" stroke="#1a1a1a" stroke-width="0.55"/>
<line x1="0" y1="5.60" x2="55.00" y2="5.60" stroke="#1a1a1a" stroke-width="0.3"/>
<rect width="55.00" height="11.20" fill="none" stroke="#1a1a1a" stroke-width="0.8"/>
</g>
<g id="s7">
<rect width="55.00" height="11.20" fill="#fff"/>
<rect x="0.00" y="9.80" width="5.05" height="1.40" fill="#2f6fb2"/>
<rect x="5.00" y="8.68" width="5.05" height="2.52" fill="#97c7e0"/>
<rect x="10.00" y="9.52" width="5.05" height="1.68" fill="#2f6fb2"/>
<rect x="15.00" y="8.40" width="5.05" height="2.80" fill="#fbd2bd"/>
<rect x="20.00" y="8.68" width="5.05" height="2.52" fill="#d2e5f0"/>
<rect x="25.00" y="5.60" width="5.05" height="5.60" fill="#ab1429"/>
<rect x="30.00" y="8.68" width="5.05" height="2.52" fill="#d2e5f0"/>
<rect x="35.00" y="8.40" width="5.05" height="2.80" fill="#f2a17f"/>
<rect x="40.00" y="8.40" width="5.05" height="2.80" fill="#d2e5f0"/>
<rect x="50.00" y="5.60" width="5.05" height="5.60" fill="#dc6a4f"/>
<rect x="0.10" y="3.33" width="4.80" height="2.27" fill="#a6cfe4" stroke="#1a1a1a" stroke-width="0.5"/>
<rect x="10.10" y="3.33" width="4.80" height="2.27" fill="#a6cfe4" stroke="#1a1a1a" stroke-width="0.5"/>
<rect x="15.10" y="3.33" width="4.80" height="2.27" fill="#2f6fb2" stroke="#1a1a1a" stroke-width="0.5"/>
<rect x="25.10" y="1.93" width="4.80" height="3.67" fill="#e0643f" stroke="#1a1a1a" stroke-width="0.5"/>
<rect x="30.10" y="3.33" width="4.80" height="2.27" fill="#a6cfe4" stroke="#1a1a1a" stroke-width="0.5"/>
<rect x="35.10" y="3.33" width="4.80" height="2.27" fill="#a6cfe4" stroke="#1a1a1a" stroke-width="0.5"/>
<rect x="40.10" y="3.05" width="4.80" height="2.55" fill="#fbdccb" stroke="#1a1a1a" stroke-width="0.5"/>
<rect x="50.10" y="0.25" width="4.80" height="5.35" fill="#8a0d1e" stroke="#1a1a1a" stroke-width="0.5"/>
<polyline points="0.00,3.38 5.00,3.38 5.00,5.06 10.00,5.06 10.00,3.38 15.00,3.38 15.00,3.38 20.00,3.38 20.00,5.06 25.00,5.06 25.00,1.98 30.00,1.98 30.00,3.38 35.00,3.38 35.00,3.38 40.00,3.38 40.00,3.10 45.00,3.10 45.00,3.10 50.00,3.10 50.00,0.30 55.00,0.30" fill="none" stroke="#1a1a1a" stroke-width="0.55"/>
<line x1="0" y1="5.60" x2="55.00" y2="5.60" stroke="#1a1a1a" stroke-width="0.3"/>
<rect width="55.00" height="11.20" fill="none" stroke="#1a1a1a" stroke-width="0.8"/>
</g></defs>
</svg></body></html>
